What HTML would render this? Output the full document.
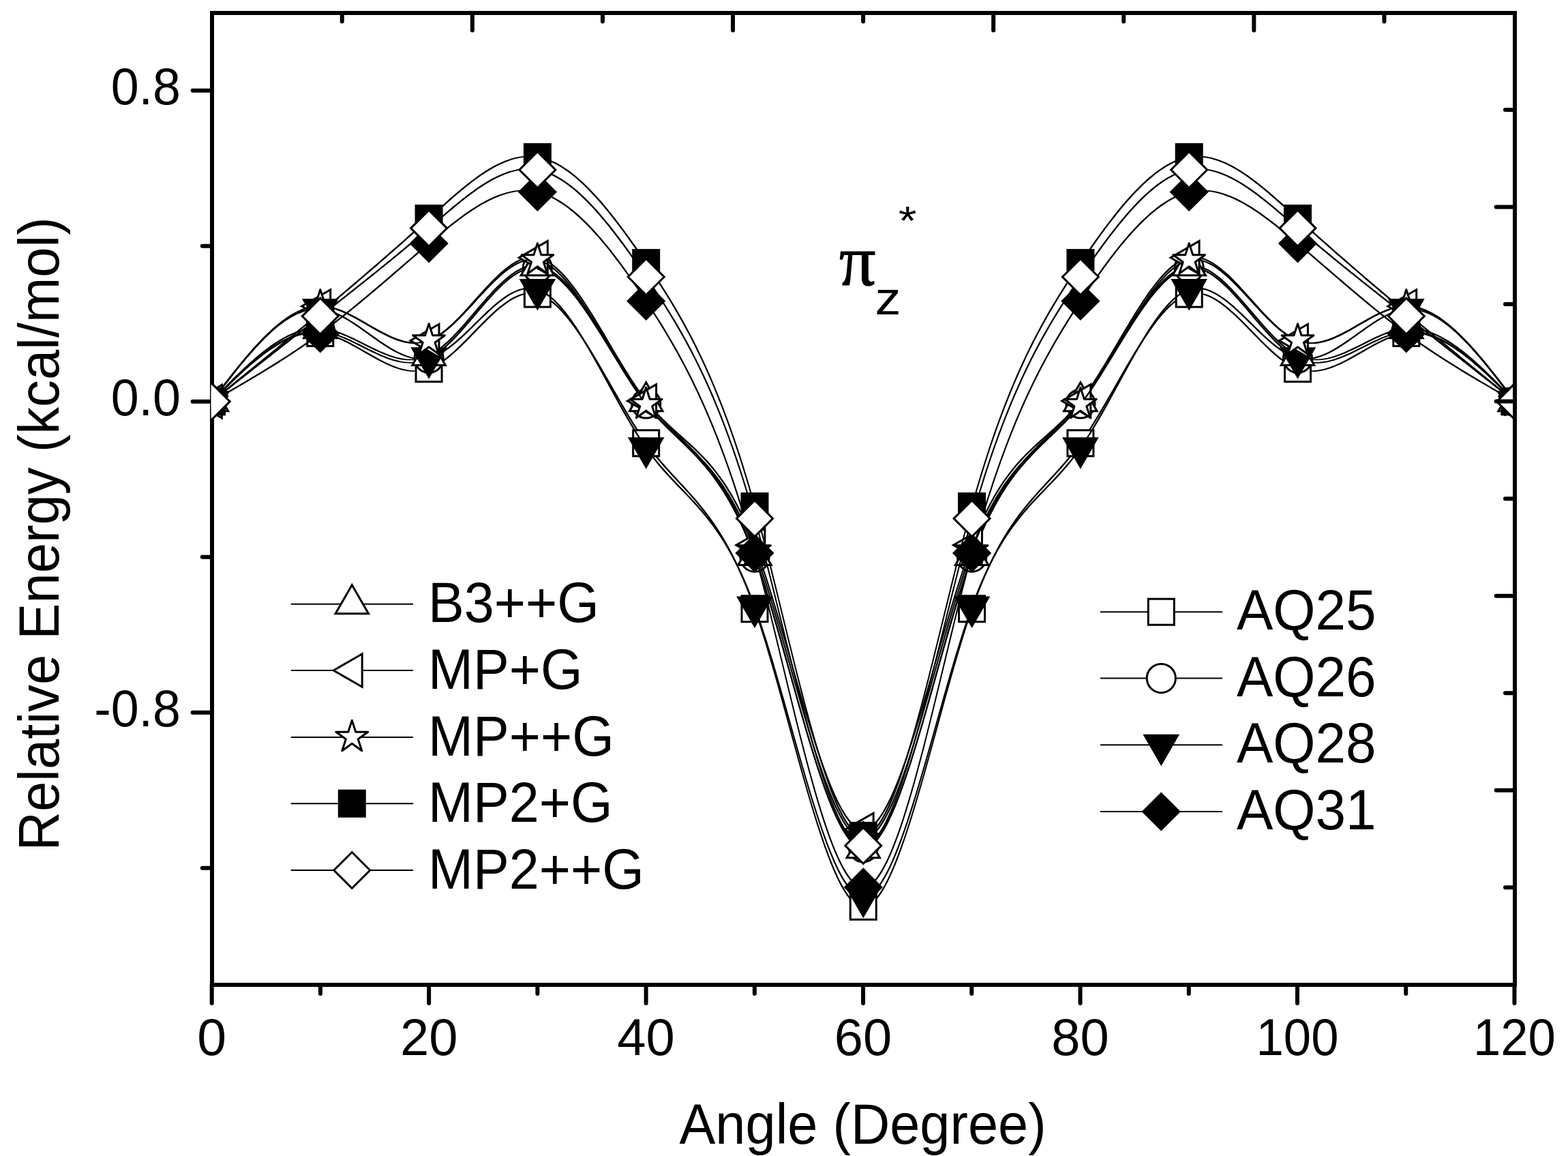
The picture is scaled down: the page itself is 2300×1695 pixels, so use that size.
<!DOCTYPE html>
<html lang="en"><head><meta charset="utf-8"><title>Relative Energy vs Angle</title>
<style>
html,body{margin:0;padding:0;background:#fff;}
body{width:2300px;height:1695px;overflow:hidden;}
svg{display:block;}
text{font-family:"Liberation Sans",sans-serif;fill:#000;}
.tick{font-size:74px;}
.lab{font-size:80px;}
.sym{font-family:"Liberation Serif","DejaVu Serif",serif;}
</style></head><body>
<svg width="2300" height="1695" viewBox="0 0 2300 1695">
<rect width="2300" height="1695" fill="#fff"/>
<defs><clipPath id="plot"><rect x="309.7" y="22" width="1909.3" height="1419"/></clipPath></defs>
<g stroke="#000" stroke-width="6" stroke-linecap="round" fill="none">
<path d="M311.0 16.0V1447.0" stroke-linecap="butt"/>
<path d="M308.0 1444.0H2225.0" stroke-linecap="butt"/>
<path d="M311.0 132.7H282.6"/>
<path d="M311.0 360.7H296.8"/>
<path d="M311.0 588.7H282.6"/>
<path d="M311.0 816.7H296.8"/>
<path d="M311.0 1044.7H282.6"/>
<path d="M311.0 1272.7H296.8"/>
<path d="M310.7 1444.0V1471"/>
<path d="M469.93 1444.0V1457"/>
<path d="M629.16 1444.0V1471"/>
<path d="M788.39 1444.0V1457"/>
<path d="M947.62 1444.0V1471"/>
<path d="M1106.85 1444.0V1457"/>
<path d="M1266.08 1444.0V1471"/>
<path d="M1425.31 1444.0V1457"/>
<path d="M1584.54 1444.0V1471"/>
<path d="M1743.77 1444.0V1457"/>
<path d="M1903 1444.0V1471"/>
<path d="M2062.23 1444.0V1457"/>
<path d="M2221.46 1444.0V1471"/>
</g>
<g clip-path="url(#plot)">
<g><path d="M309.6 587.8L313.7 583.8L317.7 579.8L321.7 575.9L325.7 571.9L329.7 567.9L333.7 564L337.7 560.1L341.7 556.3L345.7 552.5L349.7 548.7L353.7 545L357.7 541.4L361.7 537.8L365.7 534.3L369.7 530.9L373.7 527.6L377.7 524.3L381.7 521.2L385.7 518.1L389.7 515.2L393.7 512.4L397.7 509.7L401.7 507.1L405.7 504.6L409.7 502.3L413.7 500.1L417.7 498.1L421.7 496.2L425.7 494.5L429.7 493L433.7 491.6L437.7 490.4L441.7 489.3L445.7 488.5L449.7 487.8L453.7 487.4L457.7 487.1L461.7 487.1L465.7 487.1L469.7 487.4L473.7 488L477.7 488.7L481.7 489.6L485.7 490.7L489.7 492L493.7 493.5L497.7 495.1L501.7 496.8L505.7 498.6L509.7 500.6L513.7 502.6L517.7 504.8L521.7 506.9L525.7 509.2L529.7 511.4L533.7 513.7L537.7 516L541.7 518.3L545.7 520.6L549.7 522.8L553.7 525L557.7 527.2L561.7 529.3L565.7 531.2L569.7 533.1L573.7 534.9L577.7 536.5L581.7 538L585.7 539.4L589.7 540.5L593.7 541.5L597.7 542.3L601.7 542.9L605.7 543.3L609.7 543.4L613.7 543.1L617.7 542.6L621.7 541.8L625.7 540.7L629.7 539.3L633.7 537.6L637.7 535.6L641.7 533.3L645.7 530.8L649.7 528L653.7 525L657.7 521.8L661.7 518.4L665.7 514.9L669.7 511.2L673.7 507.5L677.7 503.6L681.7 499.6L685.7 495.5L689.7 491.4L693.7 487.3L697.7 483.2L701.7 479.1L705.7 475L709.7 471L713.7 467.1L717.7 463.2L721.7 459.4L725.7 455.8L729.7 452.3L733.7 449L737.7 445.9L741.7 443L745.7 440.3L749.7 437.8L753.7 435.6L757.7 433.7L761.7 432.1L765.7 430.8L769.7 429.8L773.7 429.3L777.7 429L781.7 429.1L785.7 429.5L789.7 430.4L793.7 431.6L797.7 433.3L801.7 435.5L805.7 438L809.7 440.9L813.7 444.1L817.7 447.7L821.7 451.6L825.7 455.8L829.7 460.4L833.7 465.2L837.7 470.2L841.7 475.5L845.7 481.1L849.7 486.8L853.7 492.7L857.7 498.9L861.7 505.1L865.7 511.5L869.7 518.1L873.7 524.8L877.7 531.5L881.7 538.3L885.7 545.2L889.7 552.2L893.7 559.1L897.7 566.1L901.7 573.1L905.7 580.1L909.7 587L913.7 593.8L917.7 600.6L921.7 607.3L925.7 614L929.7 620.4L933.7 626.8L937.7 633L941.7 639L945.7 644.8L949.7 650.5L953.7 655.9L957.7 661.1L961.7 666.2L965.7 671.1L969.7 675.9L973.7 680.5L977.7 685.1L981.7 689.5L985.7 693.9L989.7 698.3L993.7 702.6L997.7 706.9L1001.7 711.3L1005.7 715.6L1009.7 720L1013.7 724.5L1017.7 729L1021.7 733.6L1025.7 738.4L1029.7 743.3L1033.7 748.3L1037.7 753.5L1041.7 758.9L1045.7 764.5L1049.7 770.3L1053.7 776.4L1057.7 782.7L1061.7 789.3L1065.7 796.2L1069.7 803.5L1073.7 811L1077.7 818.9L1081.7 827.2L1085.7 835.9L1089.7 844.9L1093.7 854.4L1097.7 864.4L1101.7 874.8L1105.7 885.7L1109.7 897L1113.7 908.9L1117.7 921.2L1121.7 933.9L1125.7 947L1129.7 960.4L1133.7 974.1L1137.7 988.1L1141.7 1002.3L1145.7 1016.6L1149.7 1031.1L1153.7 1045.6L1157.7 1060.2L1161.7 1074.9L1165.7 1089.4L1169.7 1104L1173.7 1118.4L1177.7 1132.7L1181.7 1146.7L1185.7 1160.6L1189.7 1174.2L1193.7 1187.4L1197.7 1200.4L1201.7 1212.9L1205.7 1225L1209.7 1236.7L1213.7 1247.8L1217.7 1258.4L1221.7 1268.4L1225.7 1277.8L1229.7 1286.5L1233.7 1294.5L1237.7 1301.8L1241.7 1308.2L1245.7 1313.9L1249.7 1318.7L1253.7 1322.6L1257.7 1325.5L1261.7 1327.4L1265.7 1328.4L1269.7 1327.9L1273.7 1326.2L1277.7 1323.6L1281.7 1320L1285.7 1315.5L1289.7 1310.2L1293.7 1304L1297.7 1296.9L1301.7 1289.2L1305.7 1280.7L1309.7 1271.5L1313.7 1261.7L1317.7 1251.3L1321.7 1240.3L1325.7 1228.9L1329.7 1216.9L1333.7 1204.5L1337.7 1191.7L1341.7 1178.5L1345.7 1165L1349.7 1151.3L1353.7 1137.3L1357.7 1123L1361.7 1108.7L1365.7 1094.2L1369.7 1079.6L1373.7 1065L1377.7 1050.4L1381.7 1035.8L1385.7 1021.3L1389.7 1006.9L1393.7 992.7L1397.7 978.6L1401.7 964.9L1405.7 951.3L1409.7 938.1L1413.7 925.3L1417.7 912.8L1421.7 900.8L1425.7 889.3L1429.7 878.3L1433.7 867.7L1437.7 857.6L1441.7 848L1445.7 838.8L1449.7 830L1453.7 821.6L1457.7 813.5L1461.7 805.9L1465.7 798.5L1469.7 791.5L1473.7 784.8L1477.7 778.4L1481.7 772.3L1485.7 766.4L1489.7 760.7L1493.7 755.2L1497.7 750L1501.7 744.9L1505.7 739.9L1509.7 735.2L1513.7 730.5L1517.7 725.9L1521.7 721.4L1525.7 717L1529.7 712.7L1533.7 708.3L1537.7 704L1541.7 699.7L1545.7 695.4L1549.7 691L1553.7 686.5L1557.7 682L1561.7 677.4L1565.7 672.7L1569.7 667.8L1573.7 662.8L1577.7 657.6L1581.7 652.3L1585.7 646.7L1589.7 640.9L1593.7 635L1597.7 628.8L1601.7 622.5L1605.7 616.1L1609.7 609.5L1613.7 602.8L1617.7 596.1L1621.7 589.2L1625.7 582.3L1629.7 575.4L1633.7 568.4L1637.7 561.4L1641.7 554.4L1645.7 547.5L1649.7 540.6L1653.7 533.7L1657.7 526.9L1661.7 520.2L1665.7 513.7L1669.7 507.2L1673.7 500.9L1677.7 494.7L1681.7 488.7L1685.7 482.9L1689.7 477.3L1693.7 471.9L1697.7 466.8L1701.7 461.9L1705.7 457.3L1709.7 453L1713.7 448.9L1717.7 445.2L1721.7 441.9L1725.7 438.9L1729.7 436.2L1733.7 434L1737.7 432.1L1741.7 430.7L1745.7 429.7L1749.7 429.2L1753.7 429L1757.7 429.1L1761.7 429.6L1765.7 430.5L1769.7 431.6L1773.7 433.1L1777.7 435L1781.7 437.1L1785.7 439.4L1789.7 442.1L1793.7 444.9L1797.7 448L1801.7 451.2L1805.7 454.7L1809.7 458.2L1813.7 462L1817.7 465.8L1821.7 469.7L1825.7 473.7L1829.7 477.8L1833.7 481.9L1837.7 486L1841.7 490.1L1845.7 494.2L1849.7 498.3L1853.7 502.3L1857.7 506.2L1861.7 510L1865.7 513.7L1869.7 517.3L1873.7 520.7L1877.7 524L1881.7 527.1L1885.7 529.9L1889.7 532.5L1893.7 534.9L1897.7 537L1901.7 538.8L1905.7 540.3L1909.7 541.5L1913.7 542.4L1917.7 543L1921.7 543.3L1925.7 543.3L1929.7 543L1933.7 542.5L1937.7 541.8L1941.7 540.9L1945.7 539.8L1949.7 538.5L1953.7 537L1957.7 535.4L1961.7 533.7L1965.7 531.9L1969.7 529.9L1973.7 527.9L1977.7 525.7L1981.7 523.6L1985.7 521.3L1989.7 519.1L1993.7 516.8L1997.7 514.5L2001.7 512.2L2005.7 509.9L2009.7 507.7L2013.7 505.5L2017.7 503.3L2021.7 501.2L2025.7 499.3L2029.7 497.4L2033.7 495.6L2037.7 494L2041.7 492.5L2045.7 491.1L2049.7 490L2053.7 489L2057.7 488.2L2061.7 487.6L2065.7 487.2L2069.7 487.1L2073.7 487.1L2077.7 487.3L2081.7 487.7L2085.7 488.3L2089.7 489L2093.7 490L2097.7 491.2L2101.7 492.5L2105.7 494L2109.7 495.7L2113.7 497.5L2117.7 499.5L2121.7 501.6L2125.7 503.9L2129.7 506.3L2133.7 508.8L2137.7 511.5L2141.7 514.3L2145.7 517.2L2149.7 520.2L2153.7 523.3L2157.7 526.5L2161.7 529.8L2165.7 533.2L2169.7 536.7L2173.7 540.2L2177.7 543.8L2181.7 547.5L2185.7 551.2L2189.7 555L2193.7 558.9L2197.7 562.7L2201.7 566.6L2205.7 570.6L2209.7 574.6L2213.7 578.5L2217.7 582.5L2221.7 586.5L2223 587.9L2223 589.6L2221.7 589.6L2217.7 585.9L2213.7 581.9L2209.7 577.9L2205.7 574L2201.7 570L2197.7 566.1L2193.7 562.2L2189.7 558.4L2185.7 554.5L2181.7 550.8L2177.7 547.1L2173.7 543.4L2169.7 539.9L2165.7 536.4L2161.7 532.9L2157.7 529.6L2153.7 526.3L2149.7 523.2L2145.7 520.1L2141.7 517.2L2137.7 514.4L2133.7 511.6L2129.7 509L2125.7 506.6L2121.7 504.3L2117.7 502.1L2113.7 500L2109.7 498.1L2105.7 496.4L2101.7 494.8L2097.7 493.4L2093.7 492.2L2089.7 491.1L2085.7 490.3L2081.7 489.6L2077.7 489.1L2073.7 488.8L2069.7 488.8L2065.7 489L2061.7 489.5L2057.7 490.2L2053.7 491.1L2049.7 492.1L2045.7 493.4L2041.7 494.8L2037.7 496.4L2033.7 498.1L2029.7 499.9L2025.7 501.8L2021.7 503.8L2017.7 505.9L2013.7 508.1L2009.7 510.3L2005.7 512.6L2001.7 514.9L1997.7 517.2L1993.7 519.4L1989.7 521.7L1985.7 524L1981.7 526.2L1977.7 528.4L1973.7 530.4L1969.7 532.4L1965.7 534.4L1961.7 536.1L1957.7 537.8L1953.7 539.4L1949.7 540.7L1945.7 541.9L1941.7 543L1937.7 543.8L1933.7 544.5L1929.7 544.9L1925.7 545.1L1921.7 545.1L1917.7 544.9L1913.7 544.4L1909.7 543.6L1905.7 542.5L1901.7 541.2L1897.7 539.5L1893.7 537.5L1889.7 535.3L1885.7 532.7L1881.7 530L1877.7 527L1873.7 523.8L1869.7 520.5L1865.7 517L1861.7 513.3L1857.7 509.5L1853.7 505.6L1849.7 501.7L1845.7 497.6L1841.7 493.6L1837.7 489.4L1833.7 485.3L1829.7 481.2L1825.7 477.1L1821.7 473.1L1817.7 469.1L1813.7 465.3L1809.7 461.5L1805.7 457.9L1801.7 454.4L1797.7 451L1793.7 447.9L1789.7 444.9L1785.7 442.2L1781.7 439.7L1777.7 437.5L1773.7 435.6L1769.7 433.9L1765.7 432.6L1761.7 431.6L1757.7 431L1753.7 430.8L1749.7 431.1L1745.7 431.8L1741.7 433L1737.7 434.6L1733.7 436.6L1729.7 439L1725.7 441.8L1721.7 445L1717.7 448.5L1713.7 452.3L1709.7 456.5L1705.7 460.9L1701.7 465.6L1697.7 470.6L1693.7 475.9L1689.7 481.4L1685.7 487L1681.7 492.9L1677.7 499L1673.7 505.2L1669.7 511.6L1665.7 518.1L1661.7 524.8L1657.7 531.5L1653.7 538.3L1649.7 545.2L1645.7 552.1L1641.7 559.1L1637.7 566.1L1633.7 573.1L1629.7 580L1625.7 587L1621.7 593.8L1617.7 600.7L1613.7 607.4L1609.7 614L1605.7 620.5L1601.7 626.9L1597.7 633.1L1593.7 639.2L1589.7 645.1L1585.7 650.8L1581.7 656.3L1577.7 661.6L1573.7 666.7L1569.7 671.6L1565.7 676.4L1561.7 681.1L1557.7 685.7L1553.7 690.1L1549.7 694.6L1545.7 698.9L1541.7 703.2L1537.7 707.6L1533.7 711.9L1529.7 716.2L1525.7 720.6L1521.7 725L1517.7 729.6L1513.7 734.2L1509.7 738.9L1505.7 743.7L1501.7 748.7L1497.7 753.9L1493.7 759.2L1489.7 764.8L1485.7 770.5L1481.7 776.5L1477.7 782.8L1473.7 789.4L1469.7 796.2L1465.7 803.3L1461.7 810.8L1457.7 818.6L1453.7 826.8L1449.7 835.4L1445.7 844.3L1441.7 853.7L1437.7 863.6L1433.7 873.8L1429.7 884.6L1425.7 895.8L1421.7 907.6L1417.7 919.8L1413.7 932.4L1409.7 945.4L1405.7 958.7L1401.7 972.4L1397.7 986.3L1393.7 1000.4L1389.7 1014.7L1385.7 1029.1L1381.7 1043.7L1377.7 1058.3L1373.7 1072.9L1369.7 1087.5L1365.7 1102.1L1361.7 1116.5L1357.7 1130.8L1353.7 1144.9L1349.7 1158.8L1345.7 1172.5L1341.7 1185.9L1337.7 1198.9L1333.7 1211.5L1329.7 1223.7L1325.7 1235.5L1321.7 1246.8L1317.7 1257.5L1313.7 1267.7L1309.7 1277.2L1305.7 1286.1L1301.7 1294.3L1297.7 1301.7L1293.7 1308.4L1289.7 1314.3L1285.7 1319.3L1281.7 1323.4L1277.7 1326.6L1273.7 1328.8L1269.7 1329.9L1265.7 1330.1L1261.7 1329.7L1257.7 1328.1L1253.7 1325.6L1249.7 1322.1L1245.7 1317.7L1241.7 1312.4L1237.7 1306.3L1233.7 1299.4L1229.7 1291.7L1225.7 1283.3L1221.7 1274.2L1217.7 1264.4L1213.7 1254.1L1209.7 1243.2L1205.7 1231.7L1201.7 1219.8L1197.7 1207.4L1193.7 1194.7L1189.7 1181.5L1185.7 1168.1L1181.7 1154.3L1177.7 1140.4L1173.7 1126.2L1169.7 1111.8L1165.7 1097.3L1161.7 1082.8L1157.7 1068.2L1153.7 1053.5L1149.7 1038.9L1145.7 1024.4L1141.7 1010L1137.7 995.8L1133.7 981.7L1129.7 967.9L1125.7 954.4L1121.7 941.1L1117.7 928.3L1113.7 915.8L1109.7 903.7L1105.7 892.1L1101.7 881L1097.7 870.4L1093.7 860.3L1089.7 850.6L1085.7 841.4L1081.7 832.5L1077.7 824.1L1073.7 816L1069.7 808.3L1065.7 801L1061.7 793.9L1057.7 787.2L1053.7 780.7L1049.7 774.6L1045.7 768.6L1041.7 762.9L1037.7 757.5L1033.7 752.2L1029.7 747.1L1025.7 742.1L1021.7 737.3L1017.7 732.6L1013.7 728.1L1009.7 723.6L1005.7 719.2L1001.7 714.8L997.7 710.5L993.7 706.2L989.7 701.8L985.7 697.5L981.7 693.1L977.7 688.7L973.7 684.2L969.7 679.6L965.7 674.9L961.7 670L957.7 665L953.7 659.9L949.7 654.5L945.7 649L941.7 643.2L937.7 637.3L933.7 631.1L929.7 624.9L925.7 618.4L921.7 611.9L917.7 605.2L913.7 598.4L909.7 591.6L905.7 584.7L901.7 577.8L897.7 570.8L893.7 563.8L889.7 556.8L885.7 549.9L881.7 543L877.7 536.1L873.7 529.3L869.7 522.6L865.7 516L861.7 509.5L857.7 503.2L853.7 497L849.7 491L845.7 485.2L841.7 479.6L837.7 474.2L833.7 469L829.7 464.1L825.7 459.4L821.7 455.1L817.7 451L813.7 447.3L809.7 443.9L805.7 440.9L801.7 438.2L797.7 435.9L793.7 434L789.7 432.5L785.7 431.5L781.7 430.9L777.7 430.8L773.7 431.2L769.7 431.9L765.7 433L761.7 434.4L757.7 436.2L753.7 438.2L749.7 440.5L745.7 443.1L741.7 445.9L737.7 448.9L733.7 452.1L729.7 455.5L725.7 459L721.7 462.7L717.7 466.5L713.7 470.4L709.7 474.4L705.7 478.5L701.7 482.5L697.7 486.7L693.7 490.8L689.7 494.9L685.7 499L681.7 503L677.7 506.9L673.7 510.8L669.7 514.5L665.7 518.1L661.7 521.6L657.7 524.9L653.7 528L649.7 530.9L645.7 533.6L641.7 536L637.7 538.2L633.7 540.1L629.7 541.7L625.7 542.9L621.7 543.9L617.7 544.6L613.7 545L609.7 545.1L605.7 545L601.7 544.8L597.7 544.3L593.7 543.6L589.7 542.7L585.7 541.6L581.7 540.3L577.7 538.9L573.7 537.3L569.7 535.6L565.7 533.7L561.7 531.8L557.7 529.8L553.7 527.7L549.7 525.5L545.7 523.3L541.7 521L537.7 518.7L533.7 516.4L529.7 514.1L525.7 511.8L521.7 509.6L517.7 507.4L513.7 505.2L509.7 503.1L505.7 501.2L501.7 499.3L497.7 497.5L493.7 495.8L489.7 494.3L485.7 493L481.7 491.8L477.7 490.8L473.7 489.9L469.7 489.3L465.7 488.9L461.7 488.8L457.7 488.9L453.7 489.2L449.7 489.8L445.7 490.5L441.7 491.5L437.7 492.6L433.7 493.8L429.7 495.3L425.7 496.9L421.7 498.7L417.7 500.7L413.7 502.8L409.7 505L405.7 507.4L401.7 509.9L397.7 512.5L393.7 515.3L389.7 518.1L385.7 521.1L381.7 524.2L377.7 527.4L373.7 530.7L369.7 534L365.7 537.5L361.7 541L357.7 544.6L353.7 548.3L349.7 552L345.7 555.8L341.7 559.6L337.7 563.5L333.7 567.4L329.7 571.3L325.7 575.3L321.7 579.2L317.7 583.2L313.7 587.2L309.6 589.6Z" fill="#000" stroke="none"/>
<rect x="291.5" y="569.7" width="38" height="38" fill="#fff" stroke="#000" stroke-width="3" stroke-linejoin="miter"/>
<rect x="450.8" y="469.4" width="38" height="38" fill="#fff" stroke="#000" stroke-width="3" stroke-linejoin="miter"/>
<rect x="610.1" y="521.7" width="38" height="38" fill="#fff" stroke="#000" stroke-width="3" stroke-linejoin="miter"/>
<rect x="769.4" y="412.1" width="38" height="38" fill="#fff" stroke="#000" stroke-width="3" stroke-linejoin="miter"/>
<rect x="928.7" y="630.8" width="38" height="38" fill="#fff" stroke="#000" stroke-width="3" stroke-linejoin="miter"/>
<rect x="1088" y="873.7" width="38" height="38" fill="#fff" stroke="#000" stroke-width="3" stroke-linejoin="miter"/>
<rect x="1247.3" y="1310.3" width="38" height="38" fill="#fff" stroke="#000" stroke-width="3" stroke-linejoin="miter"/>
<rect x="1406.6" y="873.7" width="38" height="38" fill="#fff" stroke="#000" stroke-width="3" stroke-linejoin="miter"/>
<rect x="1565.9" y="630.8" width="38" height="38" fill="#fff" stroke="#000" stroke-width="3" stroke-linejoin="miter"/>
<rect x="1725.2" y="412.1" width="38" height="38" fill="#fff" stroke="#000" stroke-width="3" stroke-linejoin="miter"/>
<rect x="1884.5" y="521.7" width="38" height="38" fill="#fff" stroke="#000" stroke-width="3" stroke-linejoin="miter"/>
<rect x="2043.8" y="469.4" width="38" height="38" fill="#fff" stroke="#000" stroke-width="3" stroke-linejoin="miter"/>
<rect x="2203.1" y="569.7" width="38" height="38" fill="#fff" stroke="#000" stroke-width="3" stroke-linejoin="miter"/>
</g>
<g><path d="M309.6 587.8L313.7 583.8L317.7 579.8L321.7 575.8L325.7 571.8L329.7 567.9L333.7 563.9L337.7 560L341.7 556.2L345.7 552.3L349.7 548.6L353.7 544.9L357.7 541.2L361.7 537.6L365.7 534.1L369.7 530.6L373.7 527.3L377.7 524L381.7 520.8L385.7 517.7L389.7 514.7L393.7 511.9L397.7 509.1L401.7 506.5L405.7 504L409.7 501.6L413.7 499.3L417.7 497.2L421.7 495.3L425.7 493.5L429.7 491.8L433.7 490.3L437.7 489L441.7 487.9L445.7 486.9L449.7 486.1L453.7 485.5L457.7 485.1L461.7 485L465.7 484.9L469.7 485.1L473.7 485.4L477.7 486L481.7 486.8L485.7 487.7L489.7 488.8L493.7 490L497.7 491.4L501.7 492.9L505.7 494.6L509.7 496.3L513.7 498.1L517.7 499.9L521.7 501.9L525.7 503.8L529.7 505.8L533.7 507.9L537.7 509.9L541.7 511.9L545.7 513.8L549.7 515.8L553.7 517.7L557.7 519.5L561.7 521.2L565.7 522.8L569.7 524.4L573.7 525.8L577.7 527L581.7 528.1L585.7 529.1L589.7 529.9L593.7 530.4L597.7 530.8L601.7 531L605.7 530.8L609.7 530.4L613.7 529.7L617.7 528.7L621.7 527.4L625.7 525.8L629.7 523.9L633.7 521.7L637.7 519.2L641.7 516.4L645.7 513.3L649.7 510L653.7 506.5L657.7 502.7L661.7 498.8L665.7 494.7L669.7 490.5L673.7 486.1L677.7 481.6L681.7 477.1L685.7 472.4L689.7 467.7L693.7 463L697.7 458.3L701.7 453.6L705.7 448.9L709.7 444.3L713.7 439.7L717.7 435.2L721.7 430.9L725.7 426.6L729.7 422.5L733.7 418.6L737.7 414.9L741.7 411.3L745.7 408L749.7 405L753.7 402.2L757.7 399.7L761.7 397.5L765.7 395.6L769.7 394L773.7 392.9L777.7 392.1L781.7 391.7L785.7 391.6L789.7 391.9L793.7 392.6L797.7 393.8L801.7 395.3L805.7 397.3L809.7 399.7L813.7 402.4L817.7 405.4L821.7 408.8L825.7 412.5L829.7 416.5L833.7 420.8L837.7 425.4L841.7 430.2L845.7 435.2L849.7 440.5L853.7 445.9L857.7 451.5L861.7 457.3L865.7 463.3L869.7 469.3L873.7 475.5L877.7 481.8L881.7 488.2L885.7 494.6L889.7 501.1L893.7 507.6L897.7 514.1L901.7 520.6L905.7 527.1L909.7 533.6L913.7 540L917.7 546.3L921.7 552.6L925.7 558.7L929.7 564.8L933.7 570.7L937.7 576.4L941.7 582L945.7 587.4L949.7 592.6L953.7 597.5L957.7 602.3L961.7 606.9L965.7 611.4L969.7 615.7L973.7 619.9L977.7 624L981.7 628L985.7 631.9L989.7 635.8L993.7 639.7L997.7 643.6L1001.7 647.5L1005.7 651.3L1009.7 655.3L1013.7 659.3L1017.7 663.4L1021.7 667.6L1025.7 671.8L1029.7 676.3L1033.7 680.9L1037.7 685.6L1041.7 690.6L1045.7 695.7L1049.7 701.1L1053.7 706.7L1057.7 712.6L1061.7 718.8L1065.7 725.2L1069.7 732L1073.7 739.1L1077.7 746.6L1081.7 754.4L1085.7 762.7L1089.7 771.3L1093.7 780.4L1097.7 789.9L1101.7 799.8L1105.7 810.3L1109.7 821.2L1113.7 832.7L1117.7 844.6L1121.7 856.9L1125.7 869.5L1129.7 882.5L1133.7 895.8L1137.7 909.4L1141.7 923.1L1145.7 937.1L1149.7 951.2L1153.7 965.3L1157.7 979.6L1161.7 993.8L1165.7 1008L1169.7 1022.2L1173.7 1036.3L1177.7 1050.2L1181.7 1064L1185.7 1077.5L1189.7 1090.8L1193.7 1103.7L1197.7 1116.4L1201.7 1128.7L1205.7 1140.5L1209.7 1151.9L1213.7 1162.8L1217.7 1173.2L1221.7 1183L1225.7 1192.2L1229.7 1200.7L1233.7 1208.6L1237.7 1215.7L1241.7 1222L1245.7 1227.6L1249.7 1232.3L1253.7 1236.1L1257.7 1239L1261.7 1240.9L1265.7 1241.8L1269.7 1241.3L1273.7 1239.7L1277.7 1237.1L1281.7 1233.6L1285.7 1229.2L1289.7 1223.9L1293.7 1217.8L1297.7 1211L1301.7 1203.3L1305.7 1195L1309.7 1186L1313.7 1176.4L1317.7 1166.2L1321.7 1155.5L1325.7 1144.3L1329.7 1132.6L1333.7 1120.4L1337.7 1107.9L1341.7 1095L1345.7 1081.8L1349.7 1068.4L1353.7 1054.7L1357.7 1040.8L1361.7 1026.8L1365.7 1012.7L1369.7 998.4L1373.7 984.2L1377.7 969.9L1381.7 955.8L1385.7 941.6L1389.7 927.6L1393.7 913.8L1397.7 900.2L1401.7 886.8L1405.7 873.7L1409.7 860.9L1413.7 848.5L1417.7 836.5L1421.7 824.9L1425.7 813.8L1429.7 803.2L1433.7 793.1L1437.7 783.4L1441.7 774.2L1445.7 765.4L1449.7 757.1L1453.7 749.1L1457.7 741.5L1461.7 734.3L1465.7 727.4L1469.7 720.8L1473.7 714.6L1477.7 708.6L1481.7 702.9L1485.7 697.4L1489.7 692.2L1493.7 687.2L1497.7 682.4L1501.7 677.8L1505.7 673.3L1509.7 668.9L1513.7 664.7L1517.7 660.6L1521.7 656.6L1525.7 652.6L1529.7 648.7L1533.7 644.8L1537.7 641L1541.7 637.1L1545.7 633.2L1549.7 629.3L1553.7 625.3L1557.7 621.2L1561.7 617.1L1565.7 612.8L1569.7 608.4L1573.7 603.8L1577.7 599.1L1581.7 594.2L1585.7 589.1L1589.7 583.8L1593.7 578.2L1597.7 572.6L1601.7 566.7L1605.7 560.7L1609.7 554.6L1613.7 548.4L1617.7 542.1L1621.7 535.7L1625.7 529.2L1629.7 522.7L1633.7 516.2L1637.7 509.7L1641.7 503.2L1645.7 496.7L1649.7 490.3L1653.7 483.9L1657.7 477.6L1661.7 471.3L1665.7 465.2L1669.7 459.2L1673.7 453.4L1677.7 447.7L1681.7 442.2L1685.7 436.9L1689.7 431.8L1693.7 426.9L1697.7 422.3L1701.7 417.9L1705.7 413.8L1709.7 410L1713.7 406.5L1717.7 403.3L1721.7 400.5L1725.7 398L1729.7 395.9L1733.7 394.2L1737.7 392.9L1741.7 392.1L1745.7 391.7L1749.7 391.6L1753.7 391.9L1757.7 392.5L1761.7 393.6L1765.7 395L1769.7 396.8L1773.7 398.9L1777.7 401.3L1781.7 404L1785.7 407L1789.7 410.2L1793.7 413.7L1797.7 417.4L1801.7 421.2L1805.7 425.3L1809.7 429.5L1813.7 433.8L1817.7 438.3L1821.7 442.8L1825.7 447.4L1829.7 452.1L1833.7 456.8L1837.7 461.5L1841.7 466.2L1845.7 470.9L1849.7 475.6L1853.7 480.1L1857.7 484.7L1861.7 489.1L1865.7 493.3L1869.7 497.5L1873.7 501.5L1877.7 505.3L1881.7 508.9L1885.7 512.3L1889.7 515.4L1893.7 518.3L1897.7 520.9L1901.7 523.3L1905.7 525.3L1909.7 526.9L1913.7 528.3L1917.7 529.4L1921.7 530.2L1925.7 530.7L1929.7 530.9L1933.7 530.9L1937.7 530.6L1941.7 530.1L1945.7 529.4L1949.7 528.5L1953.7 527.4L1957.7 526.2L1961.7 524.8L1965.7 523.3L1969.7 521.7L1973.7 520L1977.7 518.3L1981.7 516.4L1985.7 514.5L1989.7 512.5L1993.7 510.5L1997.7 508.5L2001.7 506.5L2005.7 504.5L2009.7 502.5L2013.7 500.6L2017.7 498.7L2021.7 496.9L2025.7 495.1L2029.7 493.4L2033.7 491.9L2037.7 490.5L2041.7 489.2L2045.7 488L2049.7 487L2053.7 486.2L2057.7 485.6L2061.7 485.2L2065.7 485L2069.7 484.9L2073.7 485.1L2077.7 485.4L2081.7 485.9L2085.7 486.6L2089.7 487.5L2093.7 488.6L2097.7 489.9L2101.7 491.3L2105.7 492.9L2109.7 494.7L2113.7 496.6L2117.7 498.6L2121.7 500.8L2125.7 503.2L2129.7 505.6L2133.7 508.2L2137.7 511L2141.7 513.8L2145.7 516.7L2149.7 519.8L2153.7 522.9L2157.7 526.2L2161.7 529.5L2165.7 533L2169.7 536.4L2173.7 540L2177.7 543.7L2181.7 547.4L2185.7 551.1L2189.7 554.9L2193.7 558.8L2197.7 562.7L2201.7 566.6L2205.7 570.5L2209.7 574.5L2213.7 578.5L2217.7 582.5L2221.7 586.5L2223 587.9L2223 589.6L2221.7 589.6L2217.7 585.9L2213.7 581.9L2209.7 577.9L2205.7 573.9L2201.7 570L2197.7 566L2193.7 562.1L2189.7 558.3L2185.7 554.4L2181.7 550.6L2177.7 546.9L2173.7 543.3L2169.7 539.7L2165.7 536.1L2161.7 532.7L2157.7 529.3L2153.7 526L2149.7 522.8L2145.7 519.7L2141.7 516.7L2137.7 513.8L2133.7 511.1L2129.7 508.4L2125.7 505.9L2121.7 503.5L2117.7 501.2L2113.7 499.1L2109.7 497.1L2105.7 495.3L2101.7 493.7L2097.7 492.2L2093.7 490.8L2089.7 489.7L2085.7 488.7L2081.7 487.9L2077.7 487.3L2073.7 486.9L2069.7 486.7L2065.7 486.7L2061.7 487L2057.7 487.5L2053.7 488.2L2049.7 489.1L2045.7 490.2L2041.7 491.4L2037.7 492.8L2033.7 494.2L2029.7 495.8L2025.7 497.5L2021.7 499.3L2017.7 501.2L2013.7 503.1L2009.7 505.1L2005.7 507L2001.7 509.1L1997.7 511.1L1993.7 513.1L1989.7 515.1L1985.7 517L1981.7 518.9L1977.7 520.7L1973.7 522.5L1969.7 524.1L1965.7 525.7L1961.7 527.1L1957.7 528.4L1953.7 529.6L1949.7 530.6L1945.7 531.4L1941.7 532L1937.7 532.4L1933.7 532.7L1929.7 532.7L1925.7 532.5L1921.7 532.1L1917.7 531.4L1913.7 530.5L1909.7 529.3L1905.7 527.7L1901.7 525.9L1897.7 523.7L1893.7 521.2L1889.7 518.4L1885.7 515.4L1881.7 512.1L1877.7 508.5L1873.7 504.8L1869.7 500.9L1865.7 496.8L1861.7 492.6L1857.7 488.2L1853.7 483.8L1849.7 479.2L1845.7 474.6L1841.7 469.9L1837.7 465.2L1833.7 460.5L1829.7 455.8L1825.7 451.1L1821.7 446.4L1817.7 441.9L1813.7 437.4L1809.7 433L1805.7 428.8L1801.7 424.6L1797.7 420.7L1793.7 416.9L1789.7 413.4L1785.7 410.1L1781.7 407L1777.7 404.1L1773.7 401.6L1769.7 399.4L1765.7 397.4L1761.7 395.9L1757.7 394.7L1753.7 393.8L1749.7 393.4L1745.7 393.5L1741.7 394.1L1737.7 395.1L1733.7 396.6L1729.7 398.5L1725.7 400.7L1721.7 403.4L1717.7 406.3L1713.7 409.6L1709.7 413.3L1705.7 417.2L1701.7 421.4L1697.7 425.9L1693.7 430.7L1689.7 435.6L1685.7 440.8L1681.7 446.2L1677.7 451.8L1673.7 457.6L1669.7 463.5L1665.7 469.5L1661.7 475.7L1657.7 481.9L1653.7 488.3L1649.7 494.7L1645.7 501.2L1641.7 507.7L1637.7 514.2L1633.7 520.7L1629.7 527.2L1625.7 533.7L1621.7 540.1L1617.7 546.5L1613.7 552.7L1609.7 558.9L1605.7 565L1601.7 570.9L1597.7 576.7L1593.7 582.3L1589.7 587.7L1585.7 593L1581.7 598L1577.7 602.8L1573.7 607.5L1569.7 612L1565.7 616.3L1561.7 620.6L1557.7 624.7L1553.7 628.7L1549.7 632.7L1545.7 636.6L1541.7 640.5L1537.7 644.3L1533.7 648.2L1529.7 652.1L1525.7 656L1521.7 660L1517.7 664L1513.7 668.2L1509.7 672.5L1505.7 676.9L1501.7 681.4L1497.7 686.1L1493.7 691L1489.7 696.1L1485.7 701.4L1481.7 707L1477.7 712.8L1473.7 718.9L1469.7 725.3L1465.7 732L1461.7 739L1457.7 746.4L1453.7 754.2L1449.7 762.3L1445.7 770.8L1441.7 779.8L1437.7 789.2L1433.7 799L1429.7 809.3L1425.7 820.2L1421.7 831.5L1417.7 843.2L1413.7 855.4L1409.7 868L1405.7 880.9L1401.7 894.2L1397.7 907.7L1393.7 921.4L1389.7 935.3L1385.7 949.3L1381.7 963.5L1377.7 977.7L1373.7 991.9L1369.7 1006.2L1365.7 1020.4L1361.7 1034.5L1357.7 1048.4L1353.7 1062.2L1349.7 1075.8L1345.7 1089.2L1341.7 1102.2L1337.7 1115L1333.7 1127.3L1329.7 1139.3L1325.7 1150.8L1321.7 1161.8L1317.7 1172.3L1313.7 1182.3L1309.7 1191.6L1305.7 1200.3L1301.7 1208.4L1297.7 1215.7L1293.7 1222.2L1289.7 1228L1285.7 1232.9L1281.7 1236.9L1277.7 1240L1273.7 1242.2L1269.7 1243.3L1265.7 1243.5L1261.7 1243.1L1257.7 1241.6L1253.7 1239.1L1249.7 1235.7L1245.7 1231.4L1241.7 1226.2L1237.7 1220.2L1233.7 1213.4L1229.7 1205.8L1225.7 1197.6L1221.7 1188.7L1217.7 1179.1L1213.7 1169L1209.7 1158.3L1205.7 1147.1L1201.7 1135.4L1197.7 1123.3L1193.7 1110.9L1189.7 1098L1185.7 1084.9L1181.7 1071.4L1177.7 1057.8L1173.7 1043.9L1169.7 1029.9L1165.7 1015.8L1161.7 1001.6L1157.7 987.3L1153.7 973.1L1149.7 958.9L1145.7 944.7L1141.7 930.7L1137.7 916.9L1133.7 903.2L1129.7 889.8L1125.7 876.7L1121.7 863.9L1117.7 851.4L1113.7 839.4L1109.7 827.7L1105.7 816.6L1101.7 805.9L1097.7 795.8L1093.7 786.1L1089.7 776.8L1085.7 768L1081.7 759.6L1077.7 751.6L1073.7 744L1069.7 736.7L1065.7 729.8L1061.7 723.2L1057.7 716.9L1053.7 710.9L1049.7 705.2L1045.7 699.7L1041.7 694.4L1037.7 689.4L1033.7 684.6L1029.7 679.9L1025.7 675.4L1021.7 671.1L1017.7 666.8L1013.7 662.7L1009.7 658.7L1005.7 654.7L1001.7 650.8L997.7 646.9L993.7 643.1L989.7 639.2L985.7 635.3L981.7 631.4L977.7 627.4L973.7 623.3L969.7 619.2L965.7 614.9L961.7 610.5L957.7 606L953.7 601.3L949.7 596.4L945.7 591.3L941.7 586L937.7 580.5L933.7 574.8L929.7 569L925.7 563L921.7 556.9L917.7 550.7L913.7 544.4L909.7 538L905.7 531.6L901.7 525.1L897.7 518.6L893.7 512.1L889.7 505.5L885.7 499L881.7 492.6L877.7 486.2L873.7 479.9L869.7 473.7L865.7 467.5L861.7 461.5L857.7 455.7L853.7 450L849.7 444.5L845.7 439.1L841.7 434L837.7 429.1L833.7 424.4L829.7 420L825.7 415.9L821.7 412.1L817.7 408.5L813.7 405.3L809.7 402.5L805.7 400L801.7 397.8L797.7 396.1L793.7 394.8L789.7 393.9L785.7 393.4L781.7 393.5L777.7 394L773.7 395L769.7 396.3L765.7 398L761.7 400.1L757.7 402.4L753.7 405L749.7 407.9L745.7 411.1L741.7 414.5L737.7 418.1L733.7 422L729.7 426L725.7 430.1L721.7 434.4L717.7 438.8L713.7 443.3L709.7 447.9L705.7 452.6L701.7 457.3L697.7 462L693.7 466.7L689.7 471.4L685.7 476.1L681.7 480.7L677.7 485.2L673.7 489.7L669.7 494L665.7 498.2L661.7 502.2L657.7 506.1L653.7 509.7L649.7 513.2L645.7 516.4L641.7 519.3L637.7 522L633.7 524.4L629.7 526.5L625.7 528.3L621.7 529.7L617.7 530.8L613.7 531.7L609.7 532.3L605.7 532.6L601.7 532.7L597.7 532.6L593.7 532.3L589.7 531.8L585.7 531.1L581.7 530.3L577.7 529.2L573.7 528L569.7 526.7L565.7 525.2L561.7 523.6L557.7 521.9L553.7 520.1L549.7 518.3L545.7 516.4L541.7 514.4L537.7 512.4L533.7 510.4L529.7 508.4L525.7 506.4L521.7 504.4L517.7 502.5L513.7 500.6L509.7 498.7L505.7 497L501.7 495.3L497.7 493.7L493.7 492.3L489.7 491L485.7 489.8L481.7 488.8L477.7 488L473.7 487.3L469.7 486.9L465.7 486.7L461.7 486.7L457.7 487L453.7 487.5L449.7 488.1L445.7 489L441.7 490L437.7 491.2L433.7 492.6L429.7 494.2L425.7 495.9L421.7 497.8L417.7 499.8L413.7 502L409.7 504.3L405.7 506.7L401.7 509.3L397.7 512L393.7 514.8L389.7 517.7L385.7 520.7L381.7 523.9L377.7 527.1L373.7 530.4L369.7 533.8L365.7 537.3L361.7 540.8L357.7 544.4L353.7 548.1L349.7 551.9L345.7 555.7L341.7 559.5L337.7 563.4L333.7 567.3L329.7 571.3L325.7 575.2L321.7 579.2L317.7 583.2L313.7 587.2L309.6 589.6Z" fill="#000" stroke="none"/>
<circle cx="310.5" cy="588.7" r="21.1" fill="#fff" stroke="#000" stroke-width="3" stroke-linejoin="miter"/>
<circle cx="469.8" cy="486" r="21.1" fill="#fff" stroke="#000" stroke-width="3" stroke-linejoin="miter"/>
<circle cx="629.1" cy="525.5" r="21.1" fill="#fff" stroke="#000" stroke-width="3" stroke-linejoin="miter"/>
<circle cx="788.4" cy="392.7" r="21.1" fill="#fff" stroke="#000" stroke-width="3" stroke-linejoin="miter"/>
<circle cx="947.7" cy="592" r="21.1" fill="#fff" stroke="#000" stroke-width="3" stroke-linejoin="miter"/>
<circle cx="1107" cy="817.1" r="21.1" fill="#fff" stroke="#000" stroke-width="3" stroke-linejoin="miter"/>
<circle cx="1266.3" cy="1242.7" r="21.1" fill="#fff" stroke="#000" stroke-width="3" stroke-linejoin="miter"/>
<circle cx="1425.6" cy="817.1" r="21.1" fill="#fff" stroke="#000" stroke-width="3" stroke-linejoin="miter"/>
<circle cx="1584.9" cy="592" r="21.1" fill="#fff" stroke="#000" stroke-width="3" stroke-linejoin="miter"/>
<circle cx="1744.2" cy="392.7" r="21.1" fill="#fff" stroke="#000" stroke-width="3" stroke-linejoin="miter"/>
<circle cx="1903.5" cy="525.5" r="21.1" fill="#fff" stroke="#000" stroke-width="3" stroke-linejoin="miter"/>
<circle cx="2062.8" cy="486" r="21.1" fill="#fff" stroke="#000" stroke-width="3" stroke-linejoin="miter"/>
<circle cx="2222.1" cy="588.7" r="21.1" fill="#fff" stroke="#000" stroke-width="3" stroke-linejoin="miter"/>
</g>
<g><path d="M309.6 587.8L313.7 583.7L317.7 579.5L321.7 575.4L325.7 571.3L329.7 567.2L333.7 563.1L337.7 559.1L341.7 555.1L345.7 551.1L349.7 547.2L353.7 543.4L357.7 539.6L361.7 535.9L365.7 532.2L369.7 528.7L373.7 525.2L377.7 521.8L381.7 518.5L385.7 515.3L389.7 512.2L393.7 509.2L397.7 506.3L401.7 503.6L405.7 500.9L409.7 498.4L413.7 496.1L417.7 493.9L421.7 491.8L425.7 489.9L429.7 488.2L433.7 486.6L437.7 485.2L441.7 484L445.7 483L449.7 482.1L453.7 481.5L457.7 481L461.7 480.8L465.7 480.7L469.7 480.8L473.7 481.1L477.7 481.6L481.7 482.3L485.7 483.2L489.7 484.3L493.7 485.5L497.7 486.9L501.7 488.3L505.7 490L509.7 491.7L513.7 493.4L517.7 495.3L521.7 497.2L525.7 499.2L529.7 501.2L533.7 503.2L537.7 505.2L541.7 507.2L545.7 509.2L549.7 511.1L553.7 513L557.7 514.9L561.7 516.6L565.7 518.3L569.7 519.8L573.7 521.2L577.7 522.5L581.7 523.7L585.7 524.6L589.7 525.4L593.7 526L597.7 526.4L601.7 526.6L605.7 526.5L609.7 526.1L613.7 525.4L617.7 524.5L621.7 523.3L625.7 521.7L629.7 519.9L633.7 517.7L637.7 515.2L641.7 512.4L645.7 509.4L649.7 506.1L653.7 502.6L657.7 498.9L661.7 495L665.7 490.9L669.7 486.7L673.7 482.4L677.7 477.9L681.7 473.4L685.7 468.8L689.7 464.2L693.7 459.5L697.7 454.8L701.7 450.1L705.7 445.5L709.7 440.9L713.7 436.3L717.7 431.9L721.7 427.5L725.7 423.3L729.7 419.3L733.7 415.4L737.7 411.7L741.7 408.2L745.7 404.9L749.7 401.8L753.7 399.1L757.7 396.6L761.7 394.4L765.7 392.5L769.7 391L773.7 389.8L777.7 389L781.7 388.6L785.7 388.6L789.7 388.9L793.7 389.6L797.7 390.8L801.7 392.4L805.7 394.3L809.7 396.7L813.7 399.4L817.7 402.5L821.7 405.9L825.7 409.6L829.7 413.6L833.7 417.9L837.7 422.4L841.7 427.2L845.7 432.2L849.7 437.5L853.7 442.9L857.7 448.5L861.7 454.3L865.7 460.3L869.7 466.3L873.7 472.5L877.7 478.8L881.7 485.1L885.7 491.5L889.7 498L893.7 504.5L897.7 511L901.7 517.5L905.7 524L909.7 530.4L913.7 536.8L917.7 543.1L921.7 549.4L925.7 555.5L929.7 561.5L933.7 567.4L937.7 573.2L941.7 578.7L945.7 584.1L949.7 589.3L953.7 594.2L957.7 599L961.7 603.6L965.7 608L969.7 612.3L973.7 616.5L977.7 620.6L981.7 624.6L985.7 628.5L989.7 632.4L993.7 636.3L997.7 640.1L1001.7 644L1005.7 647.9L1009.7 651.9L1013.7 655.9L1017.7 659.9L1021.7 664.1L1025.7 668.4L1029.7 672.9L1033.7 677.5L1037.7 682.3L1041.7 687.2L1045.7 692.4L1049.7 697.8L1053.7 703.5L1057.7 709.4L1061.7 715.6L1065.7 722.1L1069.7 728.9L1073.7 736.1L1077.7 743.6L1081.7 751.5L1085.7 759.8L1089.7 768.5L1093.7 777.6L1097.7 787.2L1101.7 797.2L1105.7 807.7L1109.7 818.8L1113.7 830.3L1117.7 842.3L1121.7 854.7L1125.7 867.4L1129.7 880.6L1133.7 894L1137.7 907.6L1141.7 921.5L1145.7 935.6L1149.7 949.8L1153.7 964.1L1157.7 978.4L1161.7 992.8L1165.7 1007.1L1169.7 1021.4L1173.7 1035.6L1177.7 1049.6L1181.7 1063.5L1185.7 1077.2L1189.7 1090.6L1193.7 1103.6L1197.7 1116.4L1201.7 1128.8L1205.7 1140.7L1209.7 1152.2L1213.7 1163.2L1217.7 1173.7L1221.7 1183.6L1225.7 1192.8L1229.7 1201.5L1233.7 1209.4L1237.7 1216.5L1241.7 1223L1245.7 1228.5L1249.7 1233.3L1253.7 1237.1L1257.7 1240L1261.7 1242L1265.7 1242.9L1269.7 1242.4L1273.7 1240.8L1277.7 1238.2L1281.7 1234.6L1285.7 1230.2L1289.7 1224.9L1293.7 1218.7L1297.7 1211.8L1301.7 1204.1L1305.7 1195.7L1309.7 1186.7L1313.7 1177L1317.7 1166.7L1321.7 1155.9L1325.7 1144.5L1329.7 1132.7L1333.7 1120.5L1337.7 1107.8L1341.7 1094.8L1345.7 1081.5L1349.7 1068L1353.7 1054.2L1357.7 1040.2L1361.7 1026L1365.7 1011.8L1369.7 997.4L1373.7 983.1L1377.7 968.7L1381.7 954.4L1385.7 940.2L1389.7 926.1L1393.7 912.1L1397.7 898.4L1401.7 884.9L1405.7 871.7L1409.7 858.8L1413.7 846.3L1417.7 834.1L1421.7 822.5L1425.7 811.3L1429.7 800.6L1433.7 790.4L1437.7 780.7L1441.7 771.4L1445.7 762.5L1449.7 754.1L1453.7 746.1L1457.7 738.5L1461.7 731.2L1465.7 724.3L1469.7 717.7L1473.7 711.4L1477.7 705.4L1481.7 699.6L1485.7 694.1L1489.7 688.9L1493.7 683.8L1497.7 679L1501.7 674.4L1505.7 669.9L1509.7 665.5L1513.7 661.3L1517.7 657.2L1521.7 653.1L1525.7 649.2L1529.7 645.3L1533.7 641.4L1537.7 637.5L1541.7 633.7L1545.7 629.8L1549.7 625.9L1553.7 621.9L1557.7 617.8L1561.7 613.7L1565.7 609.4L1569.7 605L1573.7 600.5L1577.7 595.8L1581.7 590.9L1585.7 585.8L1589.7 580.5L1593.7 575L1597.7 569.3L1601.7 563.5L1605.7 557.5L1609.7 551.4L1613.7 545.2L1617.7 538.9L1621.7 532.5L1625.7 526.1L1629.7 519.6L1633.7 513.1L1637.7 506.6L1641.7 500.1L1645.7 493.6L1649.7 487.2L1653.7 480.8L1657.7 474.5L1661.7 468.3L1665.7 462.2L1669.7 456.2L1673.7 450.4L1677.7 444.7L1681.7 439.2L1685.7 433.9L1689.7 428.8L1693.7 423.9L1697.7 419.3L1701.7 414.9L1705.7 410.8L1709.7 407L1713.7 403.5L1717.7 400.4L1721.7 397.5L1725.7 395.1L1729.7 393L1733.7 391.3L1737.7 390L1741.7 389.1L1745.7 388.7L1749.7 388.6L1753.7 388.9L1757.7 389.5L1761.7 390.6L1765.7 392L1769.7 393.7L1773.7 395.8L1777.7 398.2L1781.7 400.9L1785.7 403.9L1789.7 407.1L1793.7 410.5L1797.7 414.1L1801.7 418L1805.7 422L1809.7 426.2L1813.7 430.5L1817.7 434.9L1821.7 439.4L1825.7 444L1829.7 448.6L1833.7 453.3L1837.7 458L1841.7 462.6L1845.7 467.3L1849.7 471.9L1853.7 476.5L1857.7 481L1861.7 485.3L1865.7 489.6L1869.7 493.7L1873.7 497.6L1877.7 501.4L1881.7 505L1885.7 508.3L1889.7 511.5L1893.7 514.3L1897.7 516.9L1901.7 519.2L1905.7 521.2L1909.7 522.8L1913.7 524.1L1917.7 525.2L1921.7 525.9L1925.7 526.4L1929.7 526.6L1933.7 526.5L1937.7 526.2L1941.7 525.7L1945.7 524.9L1949.7 524L1953.7 522.9L1957.7 521.7L1961.7 520.3L1965.7 518.8L1969.7 517.2L1973.7 515.4L1977.7 513.6L1981.7 511.8L1985.7 509.8L1989.7 507.9L1993.7 505.9L1997.7 503.9L2001.7 501.8L2005.7 499.8L2009.7 497.9L2013.7 495.9L2017.7 494L2021.7 492.2L2025.7 490.5L2029.7 488.9L2033.7 487.3L2037.7 485.9L2041.7 484.7L2045.7 483.5L2049.7 482.6L2053.7 481.8L2057.7 481.2L2061.7 480.9L2065.7 480.7L2069.7 480.7L2073.7 480.9L2077.7 481.3L2081.7 481.9L2085.7 482.7L2089.7 483.6L2093.7 484.8L2097.7 486.2L2101.7 487.7L2105.7 489.4L2109.7 491.2L2113.7 493.2L2117.7 495.4L2121.7 497.7L2125.7 500.1L2129.7 502.7L2133.7 505.4L2137.7 508.2L2141.7 511.2L2145.7 514.2L2149.7 517.4L2153.7 520.7L2157.7 524.1L2161.7 527.5L2165.7 531.1L2169.7 534.7L2173.7 538.4L2177.7 542.1L2181.7 546L2185.7 549.9L2189.7 553.8L2193.7 557.8L2197.7 561.8L2201.7 565.9L2205.7 570L2209.7 574.1L2213.7 578.2L2217.7 582.3L2221.7 586.5L2223 587.9L2223 589.6L2221.7 589.6L2217.7 585.8L2213.7 581.7L2209.7 577.5L2205.7 573.4L2201.7 569.3L2197.7 565.2L2193.7 561.2L2189.7 557.2L2185.7 553.2L2181.7 549.3L2177.7 545.5L2173.7 541.7L2169.7 537.9L2165.7 534.3L2161.7 530.7L2157.7 527.2L2153.7 523.8L2149.7 520.5L2145.7 517.3L2141.7 514.2L2137.7 511.2L2133.7 508.3L2129.7 505.5L2125.7 502.9L2121.7 500.4L2117.7 498L2113.7 495.8L2109.7 493.7L2105.7 491.8L2101.7 490.1L2097.7 488.5L2093.7 487.1L2089.7 485.8L2085.7 484.8L2081.7 483.9L2077.7 483.2L2073.7 482.7L2069.7 482.5L2065.7 482.5L2061.7 482.7L2057.7 483.2L2053.7 483.8L2049.7 484.7L2045.7 485.7L2041.7 486.9L2037.7 488.2L2033.7 489.7L2029.7 491.2L2025.7 492.9L2021.7 494.7L2017.7 496.5L2013.7 498.4L2009.7 500.4L2005.7 502.4L2001.7 504.4L1997.7 506.4L1993.7 508.4L1989.7 510.4L1985.7 512.4L1981.7 514.3L1977.7 516.1L1973.7 517.9L1969.7 519.6L1965.7 521.1L1961.7 522.6L1957.7 523.9L1953.7 525.1L1949.7 526.1L1945.7 526.9L1941.7 527.6L1937.7 528.1L1933.7 528.3L1929.7 528.3L1925.7 528.2L1921.7 527.9L1917.7 527.2L1913.7 526.3L1909.7 525.1L1905.7 523.6L1901.7 521.8L1897.7 519.6L1893.7 517.2L1889.7 514.4L1885.7 511.4L1881.7 508.1L1877.7 504.7L1873.7 501L1869.7 497.1L1865.7 493L1861.7 488.9L1857.7 484.5L1853.7 480.1L1849.7 475.6L1845.7 471L1841.7 466.3L1837.7 461.7L1833.7 457L1829.7 452.3L1825.7 447.6L1821.7 443L1817.7 438.5L1813.7 434L1809.7 429.7L1805.7 425.5L1801.7 421.4L1797.7 417.5L1793.7 413.7L1789.7 410.2L1785.7 406.9L1781.7 403.8L1777.7 401L1773.7 398.5L1769.7 396.3L1765.7 394.4L1761.7 392.8L1757.7 391.6L1753.7 390.8L1749.7 390.4L1745.7 390.5L1741.7 391.1L1737.7 392.2L1733.7 393.6L1729.7 395.5L1725.7 397.8L1721.7 400.4L1717.7 403.4L1713.7 406.7L1709.7 410.3L1705.7 414.3L1701.7 418.5L1697.7 423L1693.7 427.7L1689.7 432.7L1685.7 437.9L1681.7 443.2L1677.7 448.8L1673.7 454.6L1669.7 460.5L1665.7 466.5L1661.7 472.6L1657.7 478.9L1653.7 485.2L1649.7 491.6L1645.7 498.1L1641.7 504.6L1637.7 511.1L1633.7 517.6L1629.7 524.1L1625.7 530.5L1621.7 536.9L1617.7 543.3L1613.7 549.5L1609.7 555.7L1605.7 561.8L1601.7 567.7L1597.7 573.4L1593.7 579L1589.7 584.5L1585.7 589.7L1581.7 594.7L1577.7 599.5L1573.7 604.1L1569.7 608.6L1565.7 613L1561.7 617.2L1557.7 621.3L1553.7 625.3L1549.7 629.3L1545.7 633.2L1541.7 637L1537.7 640.9L1533.7 644.7L1529.7 648.6L1525.7 652.6L1521.7 656.5L1517.7 660.6L1513.7 664.8L1509.7 669L1505.7 673.5L1501.7 678L1497.7 682.7L1493.7 687.7L1489.7 692.8L1485.7 698.1L1481.7 703.7L1477.7 709.6L1473.7 715.7L1469.7 722.1L1465.7 728.9L1461.7 735.9L1457.7 743.4L1453.7 751.2L1449.7 759.4L1445.7 768L1441.7 777L1437.7 786.4L1433.7 796.4L1429.7 806.8L1425.7 817.7L1421.7 829.1L1417.7 840.9L1413.7 853.2L1409.7 865.9L1405.7 879L1401.7 892.3L1397.7 905.9L1393.7 919.7L1389.7 933.7L1385.7 947.9L1381.7 962.2L1377.7 976.5L1373.7 990.9L1369.7 1005.2L1365.7 1019.5L1361.7 1033.8L1357.7 1047.9L1353.7 1061.8L1349.7 1075.5L1345.7 1088.9L1341.7 1102.1L1337.7 1114.9L1333.7 1127.4L1329.7 1139.5L1325.7 1151.1L1321.7 1162.2L1317.7 1172.8L1313.7 1182.9L1309.7 1192.3L1305.7 1201.1L1301.7 1209.2L1297.7 1216.5L1293.7 1223.1L1289.7 1228.9L1285.7 1233.9L1281.7 1237.9L1277.7 1241.1L1273.7 1243.3L1269.7 1244.4L1265.7 1244.6L1261.7 1244.2L1257.7 1242.7L1253.7 1240.2L1249.7 1236.7L1245.7 1232.4L1241.7 1227.1L1237.7 1221.1L1233.7 1214.2L1229.7 1206.6L1225.7 1198.3L1221.7 1189.3L1217.7 1179.7L1213.7 1169.4L1209.7 1158.7L1205.7 1147.4L1201.7 1135.6L1197.7 1123.4L1193.7 1110.8L1189.7 1097.9L1185.7 1084.6L1181.7 1071L1177.7 1057.3L1173.7 1043.3L1169.7 1029.2L1165.7 1014.9L1161.7 1000.6L1157.7 986.2L1153.7 971.8L1149.7 957.5L1145.7 943.3L1141.7 929.2L1137.7 915.2L1133.7 901.4L1129.7 887.9L1125.7 874.7L1121.7 861.8L1117.7 849.2L1113.7 837L1109.7 825.3L1105.7 814.1L1101.7 803.3L1097.7 793.1L1093.7 783.3L1089.7 774L1085.7 765.1L1081.7 756.7L1077.7 748.6L1073.7 740.9L1069.7 733.6L1065.7 726.6L1061.7 720L1057.7 713.7L1053.7 707.6L1049.7 701.9L1045.7 696.4L1041.7 691.1L1037.7 686L1033.7 681.2L1029.7 676.5L1025.7 672L1021.7 667.6L1017.7 663.4L1013.7 659.3L1009.7 655.2L1005.7 651.3L1001.7 647.4L997.7 643.5L993.7 639.6L989.7 635.8L985.7 631.9L981.7 628L977.7 624L973.7 620L969.7 615.8L965.7 611.6L961.7 607.2L957.7 602.7L953.7 598L949.7 593.1L945.7 588L941.7 582.7L937.7 577.2L933.7 571.6L929.7 565.8L925.7 559.8L921.7 553.7L917.7 547.5L913.7 541.2L909.7 534.9L905.7 528.4L901.7 522L897.7 515.5L893.7 508.9L889.7 502.4L885.7 496L881.7 489.5L877.7 483.2L873.7 476.8L869.7 470.6L865.7 464.5L861.7 458.5L857.7 452.7L853.7 447L849.7 441.5L845.7 436.1L841.7 431L837.7 426.1L833.7 421.5L829.7 417.1L825.7 412.9L821.7 409.1L817.7 405.6L813.7 402.4L809.7 399.5L805.7 397L801.7 394.9L797.7 393.1L793.7 391.8L789.7 390.9L785.7 390.4L781.7 390.5L777.7 391L773.7 392L769.7 393.3L765.7 395L761.7 397L757.7 399.3L753.7 401.9L749.7 404.8L745.7 407.9L741.7 411.3L737.7 414.9L733.7 418.7L729.7 422.7L725.7 426.8L721.7 431.1L717.7 435.5L713.7 440L709.7 444.5L705.7 449.1L701.7 453.8L697.7 458.5L693.7 463.2L689.7 467.8L685.7 472.5L681.7 477.1L677.7 481.5L673.7 485.9L669.7 490.2L665.7 494.4L661.7 498.4L657.7 502.2L653.7 505.8L649.7 509.2L645.7 512.4L641.7 515.3L637.7 518L633.7 520.3L629.7 522.4L625.7 524.1L621.7 525.5L617.7 526.6L613.7 527.5L609.7 528L605.7 528.3L601.7 528.3L597.7 528.3L593.7 527.9L589.7 527.4L585.7 526.7L581.7 525.8L577.7 524.7L573.7 523.5L569.7 522.1L565.7 520.6L561.7 519L557.7 517.3L553.7 515.5L549.7 513.7L545.7 511.7L541.7 509.8L537.7 507.8L533.7 505.8L529.7 503.7L525.7 501.7L521.7 499.8L517.7 497.8L513.7 495.9L509.7 494.1L505.7 492.4L501.7 490.7L497.7 489.2L493.7 487.8L489.7 486.5L485.7 485.3L481.7 484.4L477.7 483.6L473.7 483L469.7 482.6L465.7 482.4L461.7 482.5L457.7 482.9L453.7 483.4L449.7 484.2L445.7 485.1L441.7 486.2L437.7 487.5L433.7 489L429.7 490.6L425.7 492.4L421.7 494.4L417.7 496.5L413.7 498.8L409.7 501.2L405.7 503.7L401.7 506.4L397.7 509.2L393.7 512.1L389.7 515.2L385.7 518.3L381.7 521.6L377.7 524.9L373.7 528.3L369.7 531.9L365.7 535.5L361.7 539.1L357.7 542.9L353.7 546.7L349.7 550.6L345.7 554.5L341.7 558.5L337.7 562.5L333.7 566.5L329.7 570.6L325.7 574.7L321.7 578.9L317.7 583L313.7 587.2L309.6 589.6Z" fill="#000" stroke="none"/>
<path d="M310.5 560.7L334.75 602.7L286.25 602.7Z" fill="#fff" stroke="#000" stroke-width="3" stroke-linejoin="miter"/>
<path d="M469.8 453.7L494.05 495.7L445.55 495.7Z" fill="#fff" stroke="#000" stroke-width="3" stroke-linejoin="miter"/>
<path d="M629.1 493.4L653.35 535.4L604.85 535.4Z" fill="#fff" stroke="#000" stroke-width="3" stroke-linejoin="miter"/>
<path d="M788.4 361.7L812.65 403.7L764.15 403.7Z" fill="#fff" stroke="#000" stroke-width="3" stroke-linejoin="miter"/>
<path d="M947.7 560.7L971.95 602.7L923.45 602.7Z" fill="#fff" stroke="#000" stroke-width="3" stroke-linejoin="miter"/>
<path d="M1107 786.6L1131.25 828.6L1082.75 828.6Z" fill="#fff" stroke="#000" stroke-width="3" stroke-linejoin="miter"/>
<path d="M1266.3 1215.8L1290.55 1257.8L1242.05 1257.8Z" fill="#fff" stroke="#000" stroke-width="3" stroke-linejoin="miter"/>
<path d="M1425.6 786.6L1449.85 828.6L1401.35 828.6Z" fill="#fff" stroke="#000" stroke-width="3" stroke-linejoin="miter"/>
<path d="M1584.9 560.7L1609.15 602.7L1560.65 602.7Z" fill="#fff" stroke="#000" stroke-width="3" stroke-linejoin="miter"/>
<path d="M1744.2 361.7L1768.45 403.7L1719.95 403.7Z" fill="#fff" stroke="#000" stroke-width="3" stroke-linejoin="miter"/>
<path d="M1903.5 493.4L1927.75 535.4L1879.25 535.4Z" fill="#fff" stroke="#000" stroke-width="3" stroke-linejoin="miter"/>
<path d="M2062.8 453.7L2087.05 495.7L2038.55 495.7Z" fill="#fff" stroke="#000" stroke-width="3" stroke-linejoin="miter"/>
<path d="M2222.1 560.7L2246.35 602.7L2197.85 602.7Z" fill="#fff" stroke="#000" stroke-width="3" stroke-linejoin="miter"/>
</g>
<g><path d="M309.6 587.8L313.7 582.6L317.7 577.3L321.7 572.1L325.7 566.8L329.7 561.6L333.7 556.5L337.7 551.3L341.7 546.3L345.7 541.3L349.7 536.3L353.7 531.4L357.7 526.6L361.7 521.9L365.7 517.3L369.7 512.7L373.7 508.3L377.7 504L381.7 499.8L385.7 495.8L389.7 491.8L393.7 488.1L397.7 484.4L401.7 481L405.7 477.6L409.7 474.5L413.7 471.5L417.7 468.8L421.7 466.2L425.7 463.8L429.7 461.6L433.7 459.6L437.7 457.9L441.7 456.3L445.7 455L449.7 454L453.7 453.2L457.7 452.6L461.7 452.4L465.7 452.3L469.7 452.5L473.7 452.9L477.7 453.6L481.7 454.5L485.7 455.7L489.7 457.1L493.7 458.8L497.7 460.6L501.7 462.6L505.7 464.7L509.7 467L513.7 469.4L517.7 471.9L521.7 474.6L525.7 477.3L529.7 480L533.7 482.9L537.7 485.7L541.7 488.6L545.7 491.5L549.7 494.3L553.7 497.1L557.7 499.9L561.7 502.6L565.7 505.3L569.7 507.8L573.7 510.3L577.7 512.6L581.7 514.8L585.7 516.8L589.7 518.6L593.7 520.3L597.7 521.7L601.7 522.9L605.7 523.9L609.7 524.7L613.7 525.1L617.7 525.3L621.7 525.1L625.7 524.5L629.7 523.6L633.7 522.3L637.7 520.8L641.7 518.9L645.7 516.8L649.7 514.4L653.7 511.7L657.7 508.8L661.7 505.8L665.7 502.5L669.7 499.1L673.7 495.6L677.7 491.9L681.7 488.2L685.7 484.3L689.7 480.5L693.7 476.5L697.7 472.6L701.7 468.7L705.7 464.7L709.7 460.9L713.7 457.1L717.7 453.4L721.7 449.8L725.7 446.3L729.7 442.9L733.7 439.8L737.7 436.8L741.7 434L745.7 431.5L749.7 429.2L753.7 427.2L757.7 425.4L761.7 424L765.7 422.9L769.7 422.2L773.7 421.8L777.7 421.7L781.7 422L785.7 422.7L789.7 423.8L793.7 425.4L797.7 427.4L801.7 429.8L805.7 432.7L809.7 435.9L813.7 439.5L817.7 443.5L821.7 447.8L825.7 452.4L829.7 457.3L833.7 462.5L837.7 468L841.7 473.7L845.7 479.6L849.7 485.8L853.7 492.2L857.7 498.7L861.7 505.4L865.7 512.2L869.7 519.2L873.7 526.3L877.7 533.4L881.7 540.6L885.7 547.9L889.7 555.2L893.7 562.6L897.7 569.9L901.7 577.2L905.7 584.5L909.7 591.8L913.7 598.9L917.7 606L921.7 613L925.7 619.8L929.7 626.6L933.7 633.1L937.7 639.5L941.7 645.7L945.7 651.7L949.7 657.4L953.7 662.9L957.7 668.2L961.7 673.3L965.7 678.2L969.7 683L973.7 687.6L977.7 692.1L981.7 696.5L985.7 700.8L989.7 705L993.7 709.2L997.7 713.4L1001.7 717.5L1005.7 721.7L1009.7 725.9L1013.7 730.1L1017.7 734.4L1021.7 738.8L1025.7 743.2L1029.7 747.8L1033.7 752.6L1037.7 757.5L1041.7 762.5L1045.7 767.8L1049.7 773.3L1053.7 779L1057.7 785L1061.7 791.2L1065.7 797.7L1069.7 804.6L1073.7 811.7L1077.7 819.2L1081.7 827.1L1085.7 835.4L1089.7 844L1093.7 853.1L1097.7 862.6L1101.7 872.6L1105.7 883.1L1109.7 894L1113.7 905.5L1117.7 917.4L1121.7 929.7L1125.7 942.3L1129.7 955.4L1133.7 968.6L1137.7 982.2L1141.7 996L1145.7 1009.9L1149.7 1024L1153.7 1038.1L1157.7 1052.4L1161.7 1066.6L1165.7 1080.8L1169.7 1095L1173.7 1109.1L1177.7 1123L1181.7 1136.7L1185.7 1150.2L1189.7 1163.5L1193.7 1176.5L1197.7 1189.1L1201.7 1201.4L1205.7 1213.2L1209.7 1224.6L1213.7 1235.5L1217.7 1245.9L1221.7 1255.6L1225.7 1264.8L1229.7 1273.4L1233.7 1281.2L1237.7 1288.3L1241.7 1294.6L1245.7 1300.2L1249.7 1304.9L1253.7 1308.7L1257.7 1311.6L1261.7 1313.5L1265.7 1314.4L1269.7 1313.9L1273.7 1312.3L1277.7 1309.7L1281.7 1306.2L1285.7 1301.8L1289.7 1296.5L1293.7 1290.5L1297.7 1283.6L1301.7 1276L1305.7 1267.7L1309.7 1258.7L1313.7 1249.1L1317.7 1238.9L1321.7 1228.2L1325.7 1217L1329.7 1205.3L1333.7 1193.1L1337.7 1180.6L1341.7 1167.8L1345.7 1154.6L1349.7 1141.1L1353.7 1127.5L1357.7 1113.6L1361.7 1099.6L1365.7 1085.4L1369.7 1071.2L1373.7 1057L1377.7 1042.8L1381.7 1028.6L1385.7 1014.5L1389.7 1000.5L1393.7 986.6L1397.7 973L1401.7 959.6L1405.7 946.5L1409.7 933.8L1413.7 921.3L1417.7 909.3L1421.7 897.7L1425.7 886.6L1429.7 876L1433.7 865.8L1437.7 856.2L1441.7 846.9L1445.7 838.2L1449.7 829.8L1453.7 821.8L1457.7 814.1L1461.7 806.9L1465.7 799.9L1469.7 793.3L1473.7 787L1477.7 780.9L1481.7 775.1L1485.7 769.6L1489.7 764.2L1493.7 759.1L1497.7 754.1L1501.7 749.3L1505.7 744.7L1509.7 740.2L1513.7 735.8L1517.7 731.5L1521.7 727.2L1525.7 723L1529.7 718.9L1533.7 714.7L1537.7 710.6L1541.7 706.4L1545.7 702.2L1549.7 697.9L1553.7 693.5L1557.7 689.1L1561.7 684.5L1565.7 679.8L1569.7 674.9L1573.7 669.9L1577.7 664.7L1581.7 659.2L1585.7 653.6L1589.7 647.6L1593.7 641.5L1597.7 635.2L1601.7 628.7L1605.7 622L1609.7 615.2L1613.7 608.3L1617.7 601.2L1621.7 594.1L1625.7 586.9L1629.7 579.6L1633.7 572.3L1637.7 565L1641.7 557.6L1645.7 550.3L1649.7 543L1653.7 535.8L1657.7 528.6L1661.7 521.5L1665.7 514.5L1669.7 507.6L1673.7 500.9L1677.7 494.3L1681.7 487.8L1685.7 481.6L1689.7 475.6L1693.7 469.8L1697.7 464.3L1701.7 459L1705.7 454L1709.7 449.2L1713.7 444.8L1717.7 440.8L1721.7 437L1725.7 433.7L1729.7 430.7L1733.7 428.1L1737.7 426L1741.7 424.2L1745.7 423L1749.7 422.2L1753.7 421.8L1757.7 421.7L1761.7 422L1765.7 422.6L1769.7 423.6L1773.7 424.9L1777.7 426.6L1781.7 428.5L1785.7 430.7L1789.7 433.2L1793.7 435.9L1797.7 438.8L1801.7 441.9L1805.7 445.2L1809.7 448.6L1813.7 452.2L1817.7 455.9L1821.7 459.6L1825.7 463.5L1829.7 467.4L1833.7 471.3L1837.7 475.3L1841.7 479.2L1845.7 483.1L1849.7 486.9L1853.7 490.7L1857.7 494.4L1861.7 498L1865.7 501.4L1869.7 504.7L1873.7 507.9L1877.7 510.8L1881.7 513.5L1885.7 516L1889.7 518.2L1893.7 520.2L1897.7 521.9L1901.7 523.2L1905.7 524.2L1909.7 524.9L1913.7 525.3L1917.7 525.2L1921.7 524.9L1925.7 524.2L1929.7 523.3L1933.7 522.1L1937.7 520.8L1941.7 519.2L1945.7 517.4L1949.7 515.4L1953.7 513.3L1957.7 511L1961.7 508.6L1965.7 506.1L1969.7 503.5L1973.7 500.8L1977.7 498.1L1981.7 495.2L1985.7 492.4L1989.7 489.5L1993.7 486.7L1997.7 483.8L2001.7 481L2005.7 478.2L2009.7 475.4L2013.7 472.8L2017.7 470.2L2021.7 467.8L2025.7 465.4L2029.7 463.2L2033.7 461.2L2037.7 459.3L2041.7 457.6L2045.7 456.2L2049.7 454.9L2053.7 453.9L2057.7 453.1L2061.7 452.6L2065.7 452.3L2069.7 452.3L2073.7 452.5L2077.7 453L2081.7 453.7L2085.7 454.7L2089.7 455.9L2093.7 457.3L2097.7 459L2101.7 460.9L2105.7 463L2109.7 465.4L2113.7 467.9L2117.7 470.6L2121.7 473.5L2125.7 476.6L2129.7 479.9L2133.7 483.3L2137.7 486.9L2141.7 490.6L2145.7 494.5L2149.7 498.5L2153.7 502.6L2157.7 506.9L2161.7 511.3L2165.7 515.8L2169.7 520.4L2173.7 525.1L2177.7 529.8L2181.7 534.7L2185.7 539.6L2189.7 544.6L2193.7 549.7L2197.7 554.8L2201.7 559.9L2205.7 565.1L2209.7 570.4L2213.7 575.6L2217.7 580.9L2221.7 586.1L2223 587.8L2223 589.5L2221.7 589.5L2217.7 584.8L2213.7 579.5L2209.7 574.3L2205.7 569.1L2201.7 563.9L2197.7 558.7L2193.7 553.6L2189.7 548.5L2185.7 543.5L2181.7 538.5L2177.7 533.6L2173.7 528.8L2169.7 524.1L2165.7 519.4L2161.7 514.9L2157.7 510.5L2153.7 506.1L2149.7 501.9L2145.7 497.9L2141.7 493.9L2137.7 490.1L2133.7 486.5L2129.7 483L2125.7 479.7L2121.7 476.5L2117.7 473.5L2113.7 470.7L2109.7 468.1L2105.7 465.7L2101.7 463.5L2097.7 461.5L2093.7 459.7L2089.7 458.2L2085.7 456.9L2081.7 455.8L2077.7 455L2073.7 454.4L2069.7 454.1L2065.7 454.1L2061.7 454.5L2057.7 455.1L2053.7 456L2049.7 457.1L2045.7 458.5L2041.7 460L2037.7 461.8L2033.7 463.7L2029.7 465.8L2025.7 468.1L2021.7 470.5L2017.7 473L2013.7 475.6L2009.7 478.3L2005.7 481L2001.7 483.9L1997.7 486.7L1993.7 489.6L1989.7 492.4L1985.7 495.3L1981.7 498.1L1977.7 500.9L1973.7 503.7L1969.7 506.3L1965.7 508.9L1961.7 511.4L1957.7 513.7L1953.7 515.9L1949.7 518L1945.7 519.9L1941.7 521.6L1937.7 523.1L1933.7 524.4L1929.7 525.4L1925.7 526.2L1921.7 526.7L1917.7 527L1913.7 527L1909.7 526.8L1905.7 526.3L1901.7 525.4L1897.7 524.2L1893.7 522.7L1889.7 520.8L1885.7 518.7L1881.7 516.3L1877.7 513.7L1873.7 510.8L1869.7 507.8L1865.7 504.6L1861.7 501.2L1857.7 497.6L1853.7 494L1849.7 490.3L1845.7 486.4L1841.7 482.5L1837.7 478.6L1833.7 474.7L1829.7 470.7L1825.7 466.8L1821.7 463L1817.7 459.2L1813.7 455.4L1809.7 451.8L1805.7 448.3L1801.7 445L1797.7 441.8L1793.7 438.8L1789.7 436L1785.7 433.4L1781.7 431.1L1777.7 429L1773.7 427.3L1769.7 425.8L1765.7 424.7L1761.7 423.9L1757.7 423.5L1753.7 423.6L1749.7 424.2L1745.7 425.2L1741.7 426.6L1737.7 428.5L1733.7 430.9L1729.7 433.6L1725.7 436.8L1721.7 440.3L1717.7 444.1L1713.7 448.4L1709.7 452.9L1705.7 457.7L1701.7 462.9L1697.7 468.3L1693.7 473.9L1689.7 479.8L1685.7 485.9L1681.7 492.3L1677.7 498.7L1673.7 505.4L1669.7 512.2L1665.7 519.1L1661.7 526.2L1657.7 533.3L1653.7 540.5L1649.7 547.8L1645.7 555.1L1641.7 562.4L1637.7 569.8L1633.7 577.1L1629.7 584.4L1625.7 591.7L1621.7 598.9L1617.7 606L1613.7 613L1609.7 619.8L1605.7 626.6L1601.7 633.2L1597.7 639.6L1593.7 645.9L1589.7 651.9L1585.7 657.7L1581.7 663.3L1577.7 668.6L1573.7 673.8L1569.7 678.7L1565.7 683.5L1561.7 688.2L1557.7 692.7L1553.7 697.1L1549.7 701.4L1545.7 705.7L1541.7 709.9L1537.7 714L1533.7 718.2L1529.7 722.3L1525.7 726.5L1521.7 730.7L1517.7 735L1513.7 739.3L1509.7 743.8L1505.7 748.4L1501.7 753.1L1497.7 757.9L1493.7 762.9L1489.7 768.2L1485.7 773.6L1481.7 779.2L1477.7 785.1L1473.7 791.3L1469.7 797.8L1465.7 804.5L1461.7 811.6L1457.7 819L1453.7 826.8L1449.7 835L1445.7 843.5L1441.7 852.5L1437.7 861.9L1433.7 871.8L1429.7 882.1L1425.7 893L1421.7 904.3L1417.7 916.1L1413.7 928.3L1409.7 940.8L1405.7 953.8L1401.7 967L1397.7 980.5L1393.7 994.2L1389.7 1008.1L1385.7 1022.1L1381.7 1036.3L1377.7 1050.5L1373.7 1064.7L1369.7 1079L1365.7 1093.2L1361.7 1107.2L1357.7 1121.2L1353.7 1135L1349.7 1148.6L1345.7 1161.9L1341.7 1175L1337.7 1187.7L1333.7 1200L1329.7 1212L1325.7 1223.5L1321.7 1234.5L1317.7 1245L1313.7 1255L1309.7 1264.3L1305.7 1273L1301.7 1281L1297.7 1288.3L1293.7 1294.8L1289.7 1300.6L1285.7 1305.5L1281.7 1309.5L1277.7 1312.6L1273.7 1314.8L1269.7 1315.9L1265.7 1316.1L1261.7 1315.7L1257.7 1314.2L1253.7 1311.7L1249.7 1308.3L1245.7 1304L1241.7 1298.8L1237.7 1292.8L1233.7 1286L1229.7 1278.5L1225.7 1270.2L1221.7 1261.3L1217.7 1251.8L1213.7 1241.7L1209.7 1231L1205.7 1219.8L1201.7 1208.1L1197.7 1196.1L1193.7 1183.6L1189.7 1170.8L1185.7 1157.6L1181.7 1144.2L1177.7 1130.5L1173.7 1116.7L1169.7 1102.7L1165.7 1088.6L1161.7 1074.4L1157.7 1060.1L1153.7 1045.9L1149.7 1031.7L1145.7 1017.6L1141.7 1003.6L1137.7 989.7L1133.7 976.1L1129.7 962.7L1125.7 949.5L1121.7 936.7L1117.7 924.3L1113.7 912.2L1109.7 900.5L1105.7 889.4L1101.7 878.7L1097.7 868.5L1093.7 858.8L1089.7 849.6L1085.7 840.7L1081.7 832.3L1077.7 824.2L1073.7 816.6L1069.7 809.3L1065.7 802.3L1061.7 795.6L1057.7 789.3L1053.7 783.2L1049.7 777.4L1045.7 771.8L1041.7 766.4L1037.7 761.3L1033.7 756.3L1029.7 751.5L1025.7 746.9L1021.7 742.3L1017.7 737.9L1013.7 733.6L1009.7 729.3L1005.7 725.1L1001.7 721L997.7 716.8L993.7 712.7L989.7 708.5L985.7 704.3L981.7 700L977.7 695.7L973.7 691.2L969.7 686.7L965.7 682L961.7 677.1L957.7 672.1L953.7 666.9L949.7 661.5L945.7 655.8L941.7 649.9L937.7 643.8L933.7 637.5L929.7 631.1L925.7 624.4L921.7 617.6L917.7 610.7L913.7 603.7L909.7 596.5L905.7 589.3L901.7 582L897.7 574.7L893.7 567.4L889.7 560.1L885.7 552.7L881.7 545.4L877.7 538.2L873.7 531L869.7 523.9L865.7 516.9L861.7 510L857.7 503.2L853.7 496.6L849.7 490.2L845.7 483.9L841.7 477.9L837.7 472.1L833.7 466.5L829.7 461.2L825.7 456.1L821.7 451.4L817.7 447L813.7 442.8L809.7 439.1L805.7 435.7L801.7 432.7L797.7 430.1L793.7 427.9L789.7 426.1L785.7 424.8L781.7 423.9L777.7 423.5L773.7 423.6L769.7 424.1L765.7 425L761.7 426.3L757.7 427.8L753.7 429.7L749.7 431.8L745.7 434.2L741.7 436.9L737.7 439.7L733.7 442.8L729.7 446L725.7 449.4L721.7 453L717.7 456.6L713.7 460.4L709.7 464.2L705.7 468.1L701.7 472L697.7 476L693.7 479.9L689.7 483.8L685.7 487.7L681.7 491.5L677.7 495.2L673.7 498.8L669.7 502.3L665.7 505.6L661.7 508.8L657.7 511.8L653.7 514.6L649.7 517.1L645.7 519.4L641.7 521.4L637.7 523.2L633.7 524.6L629.7 525.7L625.7 526.5L621.7 526.9L617.7 527L613.7 527L609.7 526.6L605.7 526L601.7 525.1L597.7 524L593.7 522.6L589.7 521L585.7 519.3L581.7 517.3L577.7 515.2L573.7 513L569.7 510.6L565.7 508.1L561.7 505.5L557.7 502.8L553.7 500L549.7 497.2L545.7 494.4L541.7 491.5L537.7 488.6L533.7 485.8L529.7 482.9L525.7 480.1L521.7 477.4L517.7 474.7L513.7 472.2L509.7 469.7L505.7 467.4L501.7 465.1L497.7 463.1L493.7 461.2L489.7 459.5L485.7 458L481.7 456.7L477.7 455.7L473.7 454.9L469.7 454.3L465.7 454.1L461.7 454.2L457.7 454.6L453.7 455.2L449.7 456.1L445.7 457.3L441.7 458.7L437.7 460.3L433.7 462.1L429.7 464.2L425.7 466.5L421.7 468.9L417.7 471.6L413.7 474.5L409.7 477.5L405.7 480.7L401.7 484.1L397.7 487.7L393.7 491.4L389.7 495.2L385.7 499.2L381.7 503.3L377.7 507.5L373.7 511.9L369.7 516.4L365.7 520.9L361.7 525.6L357.7 530.3L353.7 535.2L349.7 540.1L345.7 545.1L341.7 550.1L337.7 555.2L333.7 560.4L329.7 565.5L325.7 570.8L321.7 576L317.7 581.2L313.7 586.5L309.6 589.6Z" fill="#000" stroke="none"/>
<path d="M310.5 616.7L334.75 574.7L286.25 574.7Z" fill="#000" stroke="#000" stroke-width="3" stroke-linejoin="miter"/>
<path d="M469.8 481.4L494.05 439.4L445.55 439.4Z" fill="#000" stroke="#000" stroke-width="3" stroke-linejoin="miter"/>
<path d="M629.1 552.8L653.35 510.8L604.85 510.8Z" fill="#000" stroke="#000" stroke-width="3" stroke-linejoin="miter"/>
<path d="M788.4 452.5L812.65 410.5L764.15 410.5Z" fill="#000" stroke="#000" stroke-width="3" stroke-linejoin="miter"/>
<path d="M947.7 684.7L971.95 642.7L923.45 642.7Z" fill="#000" stroke="#000" stroke-width="3" stroke-linejoin="miter"/>
<path d="M1107 917.9L1131.25 875.9L1082.75 875.9Z" fill="#000" stroke="#000" stroke-width="3" stroke-linejoin="miter"/>
<path d="M1266.3 1343.3L1290.55 1301.3L1242.05 1301.3Z" fill="#000" stroke="#000" stroke-width="3" stroke-linejoin="miter"/>
<path d="M1425.6 917.9L1449.85 875.9L1401.35 875.9Z" fill="#000" stroke="#000" stroke-width="3" stroke-linejoin="miter"/>
<path d="M1584.9 684.7L1609.15 642.7L1560.65 642.7Z" fill="#000" stroke="#000" stroke-width="3" stroke-linejoin="miter"/>
<path d="M1744.2 452.5L1768.45 410.5L1719.95 410.5Z" fill="#000" stroke="#000" stroke-width="3" stroke-linejoin="miter"/>
<path d="M1903.5 552.8L1927.75 510.8L1879.25 510.8Z" fill="#000" stroke="#000" stroke-width="3" stroke-linejoin="miter"/>
<path d="M2062.8 481.4L2087.05 439.4L2038.55 439.4Z" fill="#000" stroke="#000" stroke-width="3" stroke-linejoin="miter"/>
<path d="M2222.1 616.7L2246.35 574.7L2197.85 574.7Z" fill="#000" stroke="#000" stroke-width="3" stroke-linejoin="miter"/>
</g>
<g><path d="M309.6 587.8L313.7 582.6L317.7 577.3L321.7 572.1L325.7 566.8L329.7 561.6L333.7 556.4L337.7 551.3L341.7 546.2L345.7 541.2L349.7 536.2L353.7 531.3L357.7 526.5L361.7 521.7L365.7 517.1L369.7 512.5L373.7 508L377.7 503.7L381.7 499.4L385.7 495.3L389.7 491.3L393.7 487.4L397.7 483.7L401.7 480.1L405.7 476.7L409.7 473.4L413.7 470.3L417.7 467.4L421.7 464.6L425.7 462.1L429.7 459.7L433.7 457.5L437.7 455.6L441.7 453.8L445.7 452.3L449.7 451L453.7 449.9L457.7 449.1L461.7 448.5L465.7 448.2L469.7 448.1L473.7 448.2L477.7 448.6L481.7 449.2L485.7 450L489.7 451L493.7 452.2L497.7 453.6L501.7 455.1L505.7 456.8L509.7 458.7L513.7 460.6L517.7 462.7L521.7 464.8L525.7 467L529.7 469.2L533.7 471.5L537.7 473.9L541.7 476.2L545.7 478.5L549.7 480.8L553.7 483.1L557.7 485.3L561.7 487.5L565.7 489.5L569.7 491.5L573.7 493.3L577.7 495.1L581.7 496.6L585.7 498.1L589.7 499.3L593.7 500.4L597.7 501.2L601.7 501.8L605.7 502.2L609.7 502.4L613.7 502.1L617.7 501.6L621.7 500.7L625.7 499.6L629.7 498.1L633.7 496.3L637.7 494.1L641.7 491.7L645.7 489L649.7 486L653.7 482.8L657.7 479.3L661.7 475.7L665.7 471.9L669.7 468L673.7 463.9L677.7 459.7L681.7 455.4L685.7 451L689.7 446.6L693.7 442.1L697.7 437.6L701.7 433.1L705.7 428.7L709.7 424.3L713.7 420L717.7 415.7L721.7 411.6L725.7 407.6L729.7 403.7L733.7 400L737.7 396.5L741.7 393.2L745.7 390.2L749.7 387.3L753.7 384.8L757.7 382.5L761.7 380.6L765.7 379L769.7 377.7L773.7 376.8L777.7 376.3L781.7 376.2L785.7 376.3L789.7 376.9L793.7 378L797.7 379.5L801.7 381.4L805.7 383.7L809.7 386.4L813.7 389.5L817.7 392.9L821.7 396.7L825.7 400.8L829.7 405.1L833.7 409.8L837.7 414.7L841.7 419.9L845.7 425.3L849.7 430.9L853.7 436.8L857.7 442.7L861.7 448.9L865.7 455.2L869.7 461.6L873.7 468.1L877.7 474.7L881.7 481.4L885.7 488.1L889.7 494.9L893.7 501.7L897.7 508.4L901.7 515.2L905.7 521.9L909.7 528.6L913.7 535.2L917.7 541.7L921.7 548.1L925.7 554.4L929.7 560.5L933.7 566.5L937.7 572.3L941.7 577.9L945.7 583.3L949.7 588.4L953.7 593.4L957.7 598.1L961.7 602.6L965.7 606.9L969.7 611.1L973.7 615.1L977.7 619L981.7 622.8L985.7 626.5L989.7 630.1L993.7 633.7L997.7 637.3L1001.7 640.8L1005.7 644.4L1009.7 648L1013.7 651.6L1017.7 655.3L1021.7 659.1L1025.7 663L1029.7 667.1L1033.7 671.2L1037.7 675.6L1041.7 680.1L1045.7 684.8L1049.7 689.7L1053.7 694.9L1057.7 700.4L1061.7 706.1L1065.7 712.1L1069.7 718.4L1073.7 725.1L1077.7 732.1L1081.7 739.5L1085.7 747.3L1089.7 755.5L1093.7 764.1L1097.7 773.1L1101.7 782.7L1105.7 792.7L1109.7 803.3L1113.7 814.3L1117.7 825.8L1121.7 837.7L1125.7 850L1129.7 862.6L1133.7 875.6L1137.7 888.8L1141.7 902.2L1145.7 915.8L1149.7 929.6L1153.7 943.5L1157.7 957.4L1161.7 971.4L1165.7 985.3L1169.7 999.2L1173.7 1013L1177.7 1026.7L1181.7 1040.2L1185.7 1053.6L1189.7 1066.6L1193.7 1079.4L1197.7 1091.8L1201.7 1103.9L1205.7 1115.6L1209.7 1126.8L1213.7 1137.6L1217.7 1147.8L1221.7 1157.5L1225.7 1166.6L1229.7 1175L1233.7 1182.7L1237.7 1189.8L1241.7 1196.1L1245.7 1201.5L1249.7 1206.2L1253.7 1209.9L1257.7 1212.8L1261.7 1214.7L1265.7 1215.6L1269.7 1215.1L1273.7 1213.5L1277.7 1211L1281.7 1207.5L1285.7 1203.1L1289.7 1197.9L1293.7 1191.9L1297.7 1185.1L1301.7 1177.6L1305.7 1169.4L1309.7 1160.5L1313.7 1151L1317.7 1141L1321.7 1130.4L1325.7 1119.3L1329.7 1107.8L1333.7 1095.8L1337.7 1083.5L1341.7 1070.8L1345.7 1057.8L1349.7 1044.6L1353.7 1031.1L1357.7 1017.5L1361.7 1003.7L1365.7 989.9L1369.7 975.9L1373.7 961.9L1377.7 948L1381.7 934.1L1385.7 920.3L1389.7 906.6L1393.7 893.1L1397.7 879.8L1401.7 866.8L1405.7 854.1L1409.7 841.7L1413.7 829.6L1417.7 818L1421.7 806.8L1425.7 796.1L1429.7 785.9L1433.7 776.2L1437.7 767L1441.7 758.2L1445.7 749.9L1449.7 742L1453.7 734.4L1457.7 727.3L1461.7 720.5L1465.7 714.1L1469.7 708L1473.7 702.2L1477.7 696.7L1481.7 691.4L1485.7 686.4L1489.7 681.6L1493.7 677L1497.7 672.6L1501.7 668.4L1505.7 664.3L1509.7 660.4L1513.7 656.6L1517.7 652.8L1521.7 649.2L1525.7 645.6L1529.7 642L1533.7 638.4L1537.7 634.9L1541.7 631.3L1545.7 627.7L1549.7 624L1553.7 620.2L1557.7 616.4L1561.7 612.4L1565.7 608.3L1569.7 604L1573.7 599.6L1577.7 594.9L1581.7 590.1L1585.7 585L1589.7 579.7L1593.7 574.1L1597.7 568.4L1601.7 562.5L1605.7 556.4L1609.7 550.2L1613.7 543.8L1617.7 537.3L1621.7 530.7L1625.7 524.1L1629.7 517.4L1633.7 510.6L1637.7 503.9L1641.7 497.1L1645.7 490.3L1649.7 483.6L1653.7 476.9L1657.7 470.3L1661.7 463.7L1665.7 457.3L1669.7 450.9L1673.7 444.7L1677.7 438.7L1681.7 432.8L1685.7 427.1L1689.7 421.7L1693.7 416.4L1697.7 411.4L1701.7 406.6L1705.7 402.2L1709.7 398L1713.7 394.1L1717.7 390.6L1721.7 387.4L1725.7 384.5L1729.7 382.1L1733.7 380L1737.7 378.4L1741.7 377.2L1745.7 376.5L1749.7 376.2L1753.7 376.2L1757.7 376.6L1761.7 377.4L1765.7 378.5L1769.7 380L1773.7 381.9L1777.7 384L1781.7 386.5L1785.7 389.2L1789.7 392.2L1793.7 395.4L1797.7 398.9L1801.7 402.5L1805.7 406.3L1809.7 410.3L1813.7 414.4L1817.7 418.6L1821.7 422.9L1825.7 427.3L1829.7 431.7L1833.7 436.2L1837.7 440.6L1841.7 445.1L1845.7 449.6L1849.7 453.9L1853.7 458.3L1857.7 462.5L1861.7 466.6L1865.7 470.6L1869.7 474.5L1873.7 478.2L1877.7 481.7L1881.7 485L1885.7 488L1889.7 490.8L1893.7 493.4L1897.7 495.6L1901.7 497.5L1905.7 499.1L1909.7 500.4L1913.7 501.3L1917.7 502L1921.7 502.3L1925.7 502.3L1929.7 502L1933.7 501.4L1937.7 500.7L1941.7 499.7L1945.7 498.5L1949.7 497.1L1953.7 495.6L1957.7 493.9L1961.7 492.1L1965.7 490.2L1969.7 488.1L1973.7 486L1977.7 483.8L1981.7 481.6L1985.7 479.3L1989.7 477L1993.7 474.6L1997.7 472.3L2001.7 470L2005.7 467.7L2009.7 465.5L2013.7 463.3L2017.7 461.3L2021.7 459.3L2025.7 457.4L2029.7 455.7L2033.7 454.1L2037.7 452.6L2041.7 451.4L2045.7 450.3L2049.7 449.4L2053.7 448.8L2057.7 448.3L2061.7 448.2L2065.7 448.2L2069.7 448.4L2073.7 448.9L2077.7 449.6L2081.7 450.6L2085.7 451.9L2089.7 453.3L2093.7 455L2097.7 456.9L2101.7 459L2105.7 461.3L2109.7 463.8L2113.7 466.5L2117.7 469.3L2121.7 472.4L2125.7 475.6L2129.7 479L2133.7 482.5L2137.7 486.2L2141.7 490L2145.7 494L2149.7 498.1L2153.7 502.3L2157.7 506.6L2161.7 511L2165.7 515.6L2169.7 520.2L2173.7 524.9L2177.7 529.7L2181.7 534.6L2185.7 539.6L2189.7 544.6L2193.7 549.7L2197.7 554.8L2201.7 559.9L2205.7 565.1L2209.7 570.4L2213.7 575.6L2217.7 580.9L2221.7 586.1L2223 587.9L2223 589.6L2221.7 589.6L2217.7 584.8L2213.7 579.5L2209.7 574.3L2205.7 569L2201.7 563.8L2197.7 558.7L2193.7 553.5L2189.7 548.4L2185.7 543.4L2181.7 538.4L2177.7 533.5L2173.7 528.7L2169.7 523.9L2165.7 519.2L2161.7 514.7L2157.7 510.2L2153.7 505.8L2149.7 501.5L2145.7 497.4L2141.7 493.4L2137.7 489.5L2133.7 485.7L2129.7 482.2L2125.7 478.7L2121.7 475.4L2117.7 472.3L2113.7 469.4L2109.7 466.6L2105.7 464L2101.7 461.6L2097.7 459.4L2093.7 457.5L2089.7 455.7L2085.7 454.1L2081.7 452.8L2077.7 451.7L2073.7 450.9L2069.7 450.3L2065.7 449.9L2061.7 449.9L2057.7 450.2L2053.7 450.7L2049.7 451.5L2045.7 452.4L2041.7 453.6L2037.7 454.9L2033.7 456.4L2029.7 458.1L2025.7 459.9L2021.7 461.8L2017.7 463.8L2013.7 465.9L2009.7 468.1L2005.7 470.4L2001.7 472.7L1997.7 475L1993.7 477.3L1989.7 479.6L1985.7 482L1981.7 484.2L1977.7 486.5L1973.7 488.6L1969.7 490.7L1965.7 492.7L1961.7 494.6L1957.7 496.3L1953.7 498L1949.7 499.4L1945.7 500.7L1941.7 501.8L1937.7 502.7L1933.7 503.4L1929.7 503.9L1925.7 504.1L1921.7 504.1L1917.7 503.8L1913.7 503.3L1909.7 502.5L1905.7 501.4L1901.7 500L1897.7 498.2L1893.7 496L1889.7 493.6L1885.7 490.9L1881.7 488L1877.7 484.8L1873.7 481.4L1869.7 477.8L1865.7 474L1861.7 470.1L1857.7 466L1853.7 461.8L1849.7 457.5L1845.7 453.1L1841.7 448.7L1837.7 444.2L1833.7 439.8L1829.7 435.3L1825.7 430.8L1821.7 426.4L1817.7 422.1L1813.7 417.8L1809.7 413.7L1805.7 409.7L1801.7 405.8L1797.7 402.1L1793.7 398.6L1789.7 395.2L1785.7 392.2L1781.7 389.3L1777.7 386.7L1773.7 384.4L1769.7 382.5L1765.7 380.8L1761.7 379.5L1757.7 378.6L1753.7 378L1749.7 378L1745.7 378.4L1741.7 379.4L1737.7 380.8L1733.7 382.6L1729.7 384.8L1725.7 387.4L1721.7 390.4L1717.7 393.7L1713.7 397.4L1709.7 401.4L1705.7 405.7L1701.7 410.3L1697.7 415.2L1693.7 420.3L1689.7 425.7L1685.7 431.2L1681.7 437L1677.7 442.9L1673.7 449L1669.7 455.3L1665.7 461.7L1661.7 468.2L1657.7 474.8L1653.7 481.4L1649.7 488.1L1645.7 494.9L1641.7 501.7L1637.7 508.4L1633.7 515.2L1629.7 521.9L1625.7 528.6L1621.7 535.2L1617.7 541.8L1613.7 548.2L1609.7 554.5L1605.7 560.7L1601.7 566.7L1597.7 572.6L1593.7 578.2L1589.7 583.7L1585.7 588.9L1581.7 593.9L1577.7 598.6L1573.7 603.2L1569.7 607.5L1565.7 611.7L1561.7 615.8L1557.7 619.7L1553.7 623.5L1549.7 627.3L1545.7 630.9L1541.7 634.5L1537.7 638.1L1533.7 641.6L1529.7 645.2L1525.7 648.8L1521.7 652.4L1517.7 656.1L1513.7 659.9L1509.7 663.8L1505.7 667.7L1501.7 671.9L1497.7 676.2L1493.7 680.6L1489.7 685.3L1485.7 690.2L1481.7 695.3L1477.7 700.7L1473.7 706.3L1469.7 712.3L1465.7 718.5L1461.7 725.1L1457.7 732L1453.7 739.3L1449.7 747L1445.7 755.1L1441.7 763.6L1437.7 772.5L1433.7 782L1429.7 791.9L1425.7 802.3L1421.7 813.2L1417.7 824.6L1413.7 836.4L1409.7 848.6L1405.7 861.1L1401.7 874L1397.7 887.2L1393.7 900.5L1389.7 914.1L1385.7 927.8L1381.7 941.7L1377.7 955.6L1373.7 969.6L1369.7 983.5L1365.7 997.5L1361.7 1011.3L1357.7 1025L1353.7 1038.6L1349.7 1051.9L1345.7 1065.1L1341.7 1077.9L1337.7 1090.5L1333.7 1102.6L1329.7 1114.4L1325.7 1125.8L1321.7 1136.7L1317.7 1147L1313.7 1156.8L1309.7 1166.1L1305.7 1174.7L1301.7 1182.6L1297.7 1189.8L1293.7 1196.3L1289.7 1201.9L1285.7 1206.8L1281.7 1210.8L1277.7 1213.9L1273.7 1216L1269.7 1217.1L1265.7 1217.3L1261.7 1216.9L1257.7 1215.4L1253.7 1213L1249.7 1209.6L1245.7 1205.3L1241.7 1200.2L1237.7 1194.2L1233.7 1187.5L1229.7 1180.1L1225.7 1171.9L1221.7 1163.1L1217.7 1153.7L1213.7 1143.7L1209.7 1133.2L1205.7 1122.1L1201.7 1110.6L1197.7 1098.7L1193.7 1086.4L1189.7 1073.8L1185.7 1060.8L1181.7 1047.6L1177.7 1034.2L1173.7 1020.6L1169.7 1006.8L1165.7 992.9L1161.7 979L1157.7 965L1153.7 951.1L1149.7 937.2L1145.7 923.4L1141.7 909.7L1137.7 896.2L1133.7 882.9L1129.7 869.8L1125.7 857L1121.7 844.6L1117.7 832.5L1113.7 820.8L1109.7 809.6L1105.7 798.8L1101.7 788.6L1097.7 778.8L1093.7 769.6L1089.7 760.8L1085.7 752.4L1081.7 744.4L1077.7 736.9L1073.7 729.7L1069.7 722.9L1065.7 716.4L1061.7 710.3L1057.7 704.5L1053.7 698.9L1049.7 693.6L1045.7 688.6L1041.7 683.8L1037.7 679.2L1033.7 674.8L1029.7 670.5L1025.7 666.4L1021.7 662.5L1017.7 658.6L1013.7 654.9L1009.7 651.2L1005.7 647.6L1001.7 644L997.7 640.5L993.7 636.9L989.7 633.3L985.7 629.7L981.7 626.1L977.7 622.3L973.7 618.5L969.7 614.5L965.7 610.4L961.7 606.1L957.7 601.7L953.7 597.1L949.7 592.3L945.7 587.2L941.7 581.9L937.7 576.4L933.7 570.7L929.7 564.8L925.7 558.7L921.7 552.5L917.7 546.1L913.7 539.7L909.7 533.1L905.7 526.5L901.7 519.8L897.7 513L893.7 506.2L889.7 499.5L885.7 492.7L881.7 485.9L877.7 479.2L873.7 472.6L869.7 466.1L865.7 459.6L861.7 453.3L857.7 447L853.7 441L849.7 435.1L845.7 429.4L841.7 423.9L837.7 418.6L833.7 413.6L829.7 408.8L825.7 404.3L821.7 400.1L817.7 396.2L813.7 392.6L809.7 389.4L805.7 386.5L801.7 384L797.7 381.9L793.7 380.3L789.7 379L785.7 378.2L781.7 377.9L777.7 378.2L773.7 378.8L769.7 379.9L765.7 381.3L761.7 383.1L757.7 385.2L753.7 387.5L749.7 390.2L745.7 393.1L741.7 396.3L737.7 399.7L733.7 403.3L729.7 407L725.7 411L721.7 415L717.7 419.2L713.7 423.5L709.7 427.9L705.7 432.3L701.7 436.7L697.7 441.2L693.7 445.7L689.7 450.1L685.7 454.6L681.7 458.9L677.7 463.2L673.7 467.3L669.7 471.4L665.7 475.3L661.7 479L657.7 482.5L653.7 485.9L649.7 489L645.7 491.8L641.7 494.4L637.7 496.8L633.7 498.8L629.7 500.5L625.7 501.8L621.7 502.8L617.7 503.5L613.7 503.9L609.7 504.1L605.7 504L601.7 503.7L597.7 503.2L593.7 502.4L589.7 501.5L585.7 500.3L581.7 499L577.7 497.5L573.7 495.8L569.7 494L565.7 492.1L561.7 490L557.7 487.9L553.7 485.7L549.7 483.5L545.7 481.2L541.7 478.9L537.7 476.6L533.7 474.2L529.7 471.9L525.7 469.6L521.7 467.4L517.7 465.3L513.7 463.2L509.7 461.2L505.7 459.3L501.7 457.5L497.7 455.9L493.7 454.5L489.7 453.2L485.7 452.1L481.7 451.2L477.7 450.5L473.7 450.1L469.7 449.9L465.7 450L461.7 450.5L457.7 451.1L453.7 452.1L449.7 453.2L445.7 454.6L441.7 456.2L437.7 458.1L433.7 460.1L429.7 462.4L425.7 464.8L421.7 467.5L417.7 470.3L413.7 473.3L409.7 476.5L405.7 479.8L401.7 483.3L397.7 486.9L393.7 490.7L389.7 494.7L385.7 498.7L381.7 502.9L377.7 507.2L373.7 511.6L369.7 516.1L365.7 520.7L361.7 525.4L357.7 530.2L353.7 535.1L349.7 540L345.7 545L341.7 550.1L337.7 555.2L333.7 560.3L329.7 565.5L325.7 570.7L321.7 576L317.7 581.2L313.7 586.5L309.6 589.6Z" fill="#000" stroke="none"/>
<path d="M283.4 588.7L325.4 564.45L325.4 612.95Z" fill="#fff" stroke="#000" stroke-width="3" stroke-linejoin="miter"/>
<path d="M442.7 449L484.7 424.75L484.7 473.25Z" fill="#fff" stroke="#000" stroke-width="3" stroke-linejoin="miter"/>
<path d="M602 499.5L644 475.25L644 523.75Z" fill="#fff" stroke="#000" stroke-width="3" stroke-linejoin="miter"/>
<path d="M761.3 377.7L803.3 353.45L803.3 401.95Z" fill="#fff" stroke="#000" stroke-width="3" stroke-linejoin="miter"/>
<path d="M920.6 587.9L962.6 563.65L962.6 612.15Z" fill="#fff" stroke="#000" stroke-width="3" stroke-linejoin="miter"/>
<path d="M1079.9 799.3L1121.9 775.05L1121.9 823.55Z" fill="#fff" stroke="#000" stroke-width="3" stroke-linejoin="miter"/>
<path d="M1239.2 1216.5L1281.2 1192.25L1281.2 1240.75Z" fill="#fff" stroke="#000" stroke-width="3" stroke-linejoin="miter"/>
<path d="M1398.5 799.3L1440.5 775.05L1440.5 823.55Z" fill="#fff" stroke="#000" stroke-width="3" stroke-linejoin="miter"/>
<path d="M1557.8 587.9L1599.8 563.65L1599.8 612.15Z" fill="#fff" stroke="#000" stroke-width="3" stroke-linejoin="miter"/>
<path d="M1717.1 377.7L1759.1 353.45L1759.1 401.95Z" fill="#fff" stroke="#000" stroke-width="3" stroke-linejoin="miter"/>
<path d="M1876.4 499.5L1918.4 475.25L1918.4 523.75Z" fill="#fff" stroke="#000" stroke-width="3" stroke-linejoin="miter"/>
<path d="M2035.7 449L2077.7 424.75L2077.7 473.25Z" fill="#fff" stroke="#000" stroke-width="3" stroke-linejoin="miter"/>
<path d="M2195 588.7L2237 564.45L2237 612.95Z" fill="#fff" stroke="#000" stroke-width="3" stroke-linejoin="miter"/>
</g>
<g><path d="M309.6 587.8L313.7 582.6L317.7 577.3L321.7 572.1L325.7 566.9L329.7 561.7L333.7 556.6L337.7 551.4L341.7 546.4L345.7 541.4L349.7 536.4L353.7 531.5L357.7 526.7L361.7 522L365.7 517.3L369.7 512.7L373.7 508.3L377.7 503.9L381.7 499.7L385.7 495.6L389.7 491.6L393.7 487.7L397.7 484L401.7 480.4L405.7 477L409.7 473.7L413.7 470.6L417.7 467.7L421.7 465L425.7 462.4L429.7 460L433.7 457.8L437.7 455.9L441.7 454.1L445.7 452.6L449.7 451.3L453.7 450.2L457.7 449.4L461.7 448.8L465.7 448.4L469.7 448.3L473.7 448.4L477.7 448.7L481.7 449.3L485.7 450.1L489.7 451.1L493.7 452.3L497.7 453.6L501.7 455.1L505.7 456.8L509.7 458.6L513.7 460.5L517.7 462.5L521.7 464.6L525.7 466.8L529.7 469L533.7 471.3L537.7 473.6L541.7 475.9L545.7 478.2L549.7 480.5L553.7 482.7L557.7 484.9L561.7 487L565.7 489.1L569.7 491L573.7 492.9L577.7 494.6L581.7 496.2L585.7 497.6L589.7 498.8L593.7 499.9L597.7 500.8L601.7 501.4L605.7 501.8L609.7 502L613.7 501.8L617.7 501.3L621.7 500.5L625.7 499.3L629.7 497.9L633.7 496.1L637.7 494.1L641.7 491.7L645.7 489L649.7 486.1L653.7 483L657.7 479.7L661.7 476.1L665.7 472.4L669.7 468.6L673.7 464.6L677.7 460.5L681.7 456.3L685.7 452L689.7 447.7L693.7 443.3L697.7 438.9L701.7 434.6L705.7 430.3L709.7 426L713.7 421.8L717.7 417.6L721.7 413.6L725.7 409.7L729.7 406L733.7 402.4L737.7 399L741.7 395.8L745.7 392.9L749.7 390.2L753.7 387.7L757.7 385.6L761.7 383.7L765.7 382.2L769.7 381L773.7 380.2L777.7 379.8L781.7 379.7L785.7 380L789.7 380.6L793.7 381.8L797.7 383.3L801.7 385.3L805.7 387.7L809.7 390.4L813.7 393.6L817.7 397.1L821.7 400.9L825.7 405L829.7 409.4L833.7 414.1L837.7 419.1L841.7 424.3L845.7 429.8L849.7 435.4L853.7 441.2L857.7 447.3L861.7 453.4L865.7 459.7L869.7 466.2L873.7 472.7L877.7 479.3L881.7 486L885.7 492.8L889.7 499.5L893.7 506.3L897.7 513.1L901.7 519.9L905.7 526.6L909.7 533.3L913.7 539.9L917.7 546.5L921.7 552.9L925.7 559.2L929.7 565.3L933.7 571.3L937.7 577.1L941.7 582.8L945.7 588.2L949.7 593.4L953.7 598.3L957.7 603L961.7 607.6L965.7 611.9L969.7 616.1L973.7 620.2L977.7 624.1L981.7 627.9L985.7 631.7L989.7 635.3L993.7 639L997.7 642.6L1001.7 646.2L1005.7 649.8L1009.7 653.5L1013.7 657.2L1017.7 660.9L1021.7 664.8L1025.7 668.8L1029.7 672.9L1033.7 677.1L1037.7 681.5L1041.7 686.1L1045.7 690.9L1049.7 696L1053.7 701.2L1057.7 706.8L1061.7 712.6L1065.7 718.7L1069.7 725.1L1073.7 731.9L1077.7 739L1081.7 746.6L1085.7 754.5L1089.7 762.8L1093.7 771.6L1097.7 780.8L1101.7 790.5L1105.7 800.6L1109.7 811.3L1113.7 822.5L1117.7 834.2L1121.7 846.3L1125.7 858.7L1129.7 871.6L1133.7 884.7L1137.7 898.1L1141.7 911.7L1145.7 925.5L1149.7 939.4L1153.7 953.5L1157.7 967.6L1161.7 981.8L1165.7 995.9L1169.7 1010L1173.7 1024L1177.7 1037.8L1181.7 1051.5L1185.7 1065L1189.7 1078.2L1193.7 1091.2L1197.7 1103.8L1201.7 1116L1205.7 1127.8L1209.7 1139.2L1213.7 1150.1L1217.7 1160.5L1221.7 1170.3L1225.7 1179.5L1229.7 1188L1233.7 1195.8L1237.7 1203L1241.7 1209.3L1245.7 1214.9L1249.7 1219.6L1253.7 1223.4L1257.7 1226.2L1261.7 1228.2L1265.7 1229.1L1269.7 1228.6L1273.7 1227L1277.7 1224.4L1281.7 1220.9L1285.7 1216.5L1289.7 1211.2L1293.7 1205.1L1297.7 1198.2L1301.7 1190.6L1305.7 1182.3L1309.7 1173.3L1313.7 1163.7L1317.7 1153.5L1321.7 1142.8L1325.7 1131.6L1329.7 1119.9L1333.7 1107.8L1337.7 1095.3L1341.7 1082.5L1345.7 1069.3L1349.7 1055.9L1353.7 1042.3L1357.7 1028.5L1361.7 1014.5L1365.7 1000.5L1369.7 986.3L1373.7 972.2L1377.7 958.1L1381.7 944L1385.7 930L1389.7 916.1L1393.7 902.5L1397.7 889L1401.7 875.8L1405.7 862.9L1409.7 850.3L1413.7 838.1L1417.7 826.3L1421.7 814.9L1425.7 804.1L1429.7 793.7L1433.7 783.9L1437.7 774.5L1441.7 765.6L1445.7 757.1L1449.7 749.1L1453.7 741.4L1457.7 734.2L1461.7 727.3L1465.7 720.8L1469.7 714.5L1473.7 708.6L1477.7 703L1481.7 697.7L1485.7 692.5L1489.7 687.7L1493.7 683L1497.7 678.5L1501.7 674.2L1505.7 670.1L1509.7 666.1L1513.7 662.2L1517.7 658.4L1521.7 654.7L1525.7 651L1529.7 647.4L1533.7 643.8L1537.7 640.2L1541.7 636.5L1545.7 632.9L1549.7 629.1L1553.7 625.3L1557.7 621.4L1561.7 617.4L1565.7 613.3L1569.7 609L1573.7 604.5L1577.7 599.9L1581.7 595L1585.7 589.9L1589.7 584.5L1593.7 579L1597.7 573.2L1601.7 567.3L1605.7 561.2L1609.7 554.9L1613.7 548.6L1617.7 542.1L1621.7 535.5L1625.7 528.8L1629.7 522.1L1633.7 515.3L1637.7 508.5L1641.7 501.8L1645.7 495L1649.7 488.2L1653.7 481.5L1657.7 474.9L1661.7 468.3L1665.7 461.8L1669.7 455.5L1673.7 449.2L1677.7 443.2L1681.7 437.3L1685.7 431.6L1689.7 426.1L1693.7 420.8L1697.7 415.7L1701.7 410.9L1705.7 406.4L1709.7 402.2L1713.7 398.3L1717.7 394.7L1721.7 391.4L1725.7 388.5L1729.7 386L1733.7 383.9L1737.7 382.2L1741.7 381L1745.7 380.1L1749.7 379.8L1753.7 379.7L1757.7 380L1761.7 380.7L1765.7 381.8L1769.7 383.2L1773.7 384.9L1777.7 387L1781.7 389.3L1785.7 392L1789.7 394.8L1793.7 397.9L1797.7 401.3L1801.7 404.8L1805.7 408.5L1809.7 412.3L1813.7 416.3L1817.7 420.4L1821.7 424.6L1825.7 428.9L1829.7 433.2L1833.7 437.5L1837.7 441.9L1841.7 446.3L1845.7 450.6L1849.7 454.9L1853.7 459.1L1857.7 463.2L1861.7 467.3L1865.7 471.2L1869.7 474.9L1873.7 478.5L1877.7 481.9L1881.7 485.1L1885.7 488.1L1889.7 490.8L1893.7 493.3L1897.7 495.5L1901.7 497.4L1905.7 498.9L1909.7 500.1L1913.7 501L1917.7 501.6L1921.7 501.9L1925.7 501.9L1929.7 501.6L1933.7 501L1937.7 500.2L1941.7 499.2L1945.7 498L1949.7 496.7L1953.7 495.1L1957.7 493.5L1961.7 491.6L1965.7 489.7L1969.7 487.7L1973.7 485.6L1977.7 483.4L1981.7 481.2L1985.7 478.9L1989.7 476.6L1993.7 474.3L1997.7 472L2001.7 469.8L2005.7 467.5L2009.7 465.3L2013.7 463.2L2017.7 461.1L2021.7 459.2L2025.7 457.4L2029.7 455.7L2033.7 454.1L2037.7 452.7L2041.7 451.4L2045.7 450.4L2049.7 449.5L2053.7 448.9L2057.7 448.5L2061.7 448.4L2065.7 448.4L2069.7 448.6L2073.7 449.2L2077.7 449.9L2081.7 450.9L2085.7 452.1L2089.7 453.6L2093.7 455.3L2097.7 457.2L2101.7 459.3L2105.7 461.6L2109.7 464.1L2113.7 466.8L2117.7 469.7L2121.7 472.7L2125.7 475.9L2129.7 479.3L2133.7 482.8L2137.7 486.5L2141.7 490.3L2145.7 494.3L2149.7 498.3L2153.7 502.5L2157.7 506.9L2161.7 511.3L2165.7 515.8L2169.7 520.4L2173.7 525.1L2177.7 529.9L2181.7 534.8L2185.7 539.7L2189.7 544.7L2193.7 549.8L2197.7 554.9L2201.7 560L2205.7 565.2L2209.7 570.4L2213.7 575.6L2217.7 580.9L2221.7 586.1L2223 587.9L2223 589.6L2221.7 589.6L2217.7 584.8L2213.7 579.6L2209.7 574.3L2205.7 569.1L2201.7 563.9L2197.7 558.8L2193.7 553.6L2189.7 548.6L2185.7 543.6L2181.7 538.6L2177.7 533.7L2173.7 528.9L2169.7 524.1L2165.7 519.5L2161.7 514.9L2157.7 510.4L2153.7 506.1L2149.7 501.8L2145.7 497.7L2141.7 493.7L2137.7 489.8L2133.7 486.1L2129.7 482.5L2125.7 479L2121.7 475.7L2117.7 472.6L2113.7 469.7L2109.7 466.9L2105.7 464.3L2101.7 461.9L2097.7 459.8L2093.7 457.8L2089.7 456L2085.7 454.4L2081.7 453.1L2077.7 452L2073.7 451.1L2069.7 450.5L2065.7 450.2L2061.7 450.1L2057.7 450.3L2053.7 450.8L2049.7 451.6L2045.7 452.5L2041.7 453.6L2037.7 455L2033.7 456.4L2029.7 458.1L2025.7 459.8L2021.7 461.7L2017.7 463.7L2013.7 465.8L2009.7 467.9L2005.7 470.2L2001.7 472.4L1997.7 474.7L1993.7 477L1989.7 479.3L1985.7 481.6L1981.7 483.9L1977.7 486.1L1973.7 488.2L1969.7 490.3L1965.7 492.3L1961.7 494.1L1957.7 495.9L1953.7 497.5L1949.7 499L1945.7 500.2L1941.7 501.4L1937.7 502.3L1933.7 503L1929.7 503.4L1925.7 503.7L1921.7 503.7L1917.7 503.5L1913.7 503L1909.7 502.3L1905.7 501.2L1901.7 499.8L1897.7 498L1893.7 496L1889.7 493.6L1885.7 491L1881.7 488.1L1877.7 485L1873.7 481.7L1869.7 478.2L1865.7 474.5L1861.7 470.6L1857.7 466.7L1853.7 462.6L1849.7 458.4L1845.7 454.1L1841.7 449.8L1837.7 445.5L1833.7 441.1L1829.7 436.7L1825.7 432.4L1821.7 428.1L1817.7 423.9L1813.7 419.7L1809.7 415.7L1805.7 411.8L1801.7 408L1797.7 404.4L1793.7 401L1789.7 397.8L1785.7 394.8L1781.7 392.1L1777.7 389.6L1773.7 387.5L1769.7 385.6L1765.7 384L1761.7 382.8L1757.7 382L1753.7 381.5L1749.7 381.6L1745.7 382.1L1741.7 383.1L1737.7 384.6L1733.7 386.5L1729.7 388.7L1725.7 391.4L1721.7 394.5L1717.7 397.9L1713.7 401.6L1709.7 405.6L1705.7 410L1701.7 414.6L1697.7 419.5L1693.7 424.7L1689.7 430.1L1685.7 435.7L1681.7 441.5L1677.7 447.4L1673.7 453.6L1669.7 459.9L1665.7 466.3L1661.7 472.8L1657.7 479.4L1653.7 486L1649.7 492.8L1645.7 499.5L1641.7 506.3L1637.7 513.1L1633.7 519.9L1629.7 526.7L1625.7 533.4L1621.7 540L1617.7 546.5L1613.7 553L1609.7 559.3L1605.7 565.5L1601.7 571.5L1597.7 577.4L1593.7 583.1L1589.7 588.5L1585.7 593.8L1581.7 598.8L1577.7 603.6L1573.7 608.1L1569.7 612.5L1565.7 616.8L1561.7 620.9L1557.7 624.8L1553.7 628.7L1549.7 632.4L1545.7 636.1L1541.7 639.8L1537.7 643.4L1533.7 647L1529.7 650.6L1525.7 654.3L1521.7 657.9L1517.7 661.7L1513.7 665.5L1509.7 669.5L1505.7 673.5L1501.7 677.7L1497.7 682.1L1493.7 686.7L1489.7 691.4L1485.7 696.4L1481.7 701.6L1477.7 707.1L1473.7 712.8L1469.7 718.8L1465.7 725.2L1461.7 731.9L1457.7 738.9L1453.7 746.3L1449.7 754.2L1445.7 762.4L1441.7 771L1437.7 780.1L1433.7 789.7L1429.7 799.7L1425.7 810.3L1421.7 821.4L1417.7 832.9L1413.7 844.9L1409.7 857.3L1405.7 870L1401.7 883.1L1397.7 896.4L1393.7 910L1389.7 923.7L1385.7 937.6L1381.7 951.7L1377.7 965.8L1373.7 979.9L1369.7 994.1L1365.7 1008.2L1361.7 1022.2L1357.7 1036.1L1353.7 1049.8L1349.7 1063.4L1345.7 1076.7L1341.7 1089.7L1337.7 1102.4L1333.7 1114.7L1329.7 1126.6L1325.7 1138.1L1321.7 1149.1L1317.7 1159.6L1313.7 1169.6L1309.7 1178.9L1305.7 1187.6L1301.7 1195.6L1297.7 1202.9L1293.7 1209.5L1289.7 1215.2L1285.7 1220.2L1281.7 1224.2L1277.7 1227.3L1273.7 1229.5L1269.7 1230.6L1265.7 1230.8L1261.7 1230.4L1257.7 1228.9L1253.7 1226.4L1249.7 1223L1245.7 1218.7L1241.7 1213.5L1237.7 1207.5L1233.7 1200.7L1229.7 1193.1L1225.7 1184.9L1221.7 1176L1217.7 1166.4L1213.7 1156.3L1209.7 1145.6L1205.7 1134.4L1201.7 1122.8L1197.7 1110.7L1193.7 1098.3L1189.7 1085.5L1185.7 1072.4L1181.7 1059L1177.7 1045.4L1173.7 1031.6L1169.7 1017.6L1165.7 1003.6L1161.7 989.5L1157.7 975.3L1153.7 961.2L1149.7 947.1L1145.7 933.1L1141.7 919.2L1137.7 905.5L1133.7 892L1129.7 878.8L1125.7 865.8L1121.7 853.2L1117.7 841L1113.7 829.1L1109.7 817.7L1105.7 806.8L1101.7 796.4L1097.7 786.5L1093.7 777.1L1089.7 768.2L1085.7 759.7L1081.7 751.6L1077.7 743.9L1073.7 736.6L1069.7 729.7L1065.7 723.1L1061.7 716.8L1057.7 710.9L1053.7 705.3L1049.7 699.9L1045.7 694.7L1041.7 689.9L1037.7 685.2L1033.7 680.7L1029.7 676.4L1025.7 672.2L1021.7 668.2L1017.7 664.3L1013.7 660.5L1009.7 656.7L1005.7 653.1L1001.7 649.4L997.7 645.8L993.7 642.2L989.7 638.6L985.7 634.9L981.7 631.2L977.7 627.4L973.7 623.5L969.7 619.5L965.7 615.4L961.7 611.1L957.7 606.7L953.7 602L949.7 597.2L945.7 592.1L941.7 586.8L937.7 581.3L933.7 575.5L929.7 569.6L925.7 563.5L921.7 557.3L917.7 550.9L913.7 544.4L909.7 537.8L905.7 531.2L901.7 524.5L897.7 517.7L893.7 510.9L889.7 504.1L885.7 497.3L881.7 490.6L877.7 483.9L873.7 477.2L869.7 470.6L865.7 464.2L861.7 457.8L857.7 451.6L853.7 445.5L849.7 439.6L845.7 433.8L841.7 428.3L837.7 423L833.7 417.9L829.7 413.1L825.7 408.5L821.7 404.3L817.7 400.3L813.7 396.7L809.7 393.4L805.7 390.5L801.7 388L797.7 385.8L793.7 384.1L789.7 382.8L785.7 381.9L781.7 381.5L777.7 381.6L773.7 382.2L769.7 383.2L765.7 384.5L761.7 386.2L757.7 388.1L753.7 390.4L749.7 393L745.7 395.8L741.7 398.8L737.7 402.1L733.7 405.6L729.7 409.2L725.7 413.1L721.7 417L717.7 421.1L713.7 425.2L709.7 429.5L705.7 433.8L701.7 438.1L697.7 442.5L693.7 446.9L689.7 451.2L685.7 455.5L681.7 459.8L677.7 463.9L673.7 468L669.7 471.9L665.7 475.7L661.7 479.3L657.7 482.8L653.7 486.1L649.7 489.1L645.7 491.9L641.7 494.4L637.7 496.7L633.7 498.6L629.7 500.3L625.7 501.6L621.7 502.5L617.7 503.2L613.7 503.6L609.7 503.7L605.7 503.6L601.7 503.3L597.7 502.8L593.7 502L589.7 501L585.7 499.8L581.7 498.5L577.7 497L573.7 495.3L569.7 493.5L565.7 491.6L561.7 489.6L557.7 487.5L553.7 485.4L549.7 483.1L545.7 480.9L541.7 478.6L537.7 476.3L533.7 474L529.7 471.7L525.7 469.4L521.7 467.2L517.7 465.1L513.7 463L509.7 461.1L505.7 459.2L501.7 457.5L497.7 455.9L493.7 454.5L489.7 453.3L485.7 452.2L481.7 451.3L477.7 450.7L473.7 450.2L469.7 450.1L465.7 450.3L461.7 450.7L457.7 451.4L453.7 452.3L449.7 453.5L445.7 454.9L441.7 456.5L437.7 458.4L433.7 460.4L429.7 462.7L425.7 465.2L421.7 467.8L417.7 470.6L413.7 473.6L409.7 476.8L405.7 480.1L401.7 483.6L397.7 487.3L393.7 491L389.7 495L385.7 499L381.7 503.2L377.7 507.5L373.7 511.9L369.7 516.4L365.7 521L361.7 525.7L357.7 530.4L353.7 535.3L349.7 540.2L345.7 545.2L341.7 550.2L337.7 555.3L333.7 560.4L329.7 565.6L325.7 570.8L321.7 576L317.7 581.3L313.7 586.5L309.6 589.6Z" fill="#000" stroke="none"/>
<path d="M310.5 564.1L316.02 581.1L333.9 581.1L319.44 591.6L324.96 608.6L310.5 598.1L296.04 608.6L301.56 591.6L287.1 581.1L304.98 581.1Z" fill="#fff" stroke="#000" stroke-width="3" stroke-linejoin="round"/>
<path d="M469.8 424.6L475.32 441.6L493.2 441.6L478.74 452.1L484.26 469.1L469.8 458.6L455.34 469.1L460.86 452.1L446.4 441.6L464.28 441.6Z" fill="#fff" stroke="#000" stroke-width="3" stroke-linejoin="round"/>
<path d="M629.1 474.7L634.62 491.7L652.5 491.7L638.04 502.2L643.56 519.2L629.1 508.7L614.64 519.2L620.16 502.2L605.7 491.7L623.58 491.7Z" fill="#fff" stroke="#000" stroke-width="3" stroke-linejoin="round"/>
<path d="M788.4 356.8L793.92 373.8L811.8 373.8L797.34 384.3L802.86 401.3L788.4 390.8L773.94 401.3L779.46 384.3L765 373.8L782.88 373.8Z" fill="#fff" stroke="#000" stroke-width="3" stroke-linejoin="round"/>
<path d="M947.7 568.2L953.22 585.2L971.1 585.2L956.64 595.7L962.16 612.7L947.7 602.2L933.24 612.7L938.76 595.7L924.3 585.2L942.18 585.2Z" fill="#fff" stroke="#000" stroke-width="3" stroke-linejoin="round"/>
<path d="M1107 782.7L1112.52 799.7L1130.4 799.7L1115.94 810.2L1121.46 827.2L1107 816.7L1092.54 827.2L1098.06 810.2L1083.6 799.7L1101.48 799.7Z" fill="#fff" stroke="#000" stroke-width="3" stroke-linejoin="round"/>
<path d="M1266.3 1205.4L1271.82 1222.4L1289.7 1222.4L1275.24 1232.9L1280.76 1249.9L1266.3 1239.4L1251.84 1249.9L1257.36 1232.9L1242.9 1222.4L1260.78 1222.4Z" fill="#fff" stroke="#000" stroke-width="3" stroke-linejoin="round"/>
<path d="M1425.6 782.7L1431.12 799.7L1449 799.7L1434.54 810.2L1440.06 827.2L1425.6 816.7L1411.14 827.2L1416.66 810.2L1402.2 799.7L1420.08 799.7Z" fill="#fff" stroke="#000" stroke-width="3" stroke-linejoin="round"/>
<path d="M1584.9 568.2L1590.42 585.2L1608.3 585.2L1593.84 595.7L1599.36 612.7L1584.9 602.2L1570.44 612.7L1575.96 595.7L1561.5 585.2L1579.38 585.2Z" fill="#fff" stroke="#000" stroke-width="3" stroke-linejoin="round"/>
<path d="M1744.2 356.8L1749.72 373.8L1767.6 373.8L1753.14 384.3L1758.66 401.3L1744.2 390.8L1729.74 401.3L1735.26 384.3L1720.8 373.8L1738.68 373.8Z" fill="#fff" stroke="#000" stroke-width="3" stroke-linejoin="round"/>
<path d="M1903.5 474.7L1909.02 491.7L1926.9 491.7L1912.44 502.2L1917.96 519.2L1903.5 508.7L1889.04 519.2L1894.56 502.2L1880.1 491.7L1897.98 491.7Z" fill="#fff" stroke="#000" stroke-width="3" stroke-linejoin="round"/>
<path d="M2062.8 424.6L2068.32 441.6L2086.2 441.6L2071.74 452.1L2077.26 469.1L2062.8 458.6L2048.34 469.1L2053.86 452.1L2039.4 441.6L2057.28 441.6Z" fill="#fff" stroke="#000" stroke-width="3" stroke-linejoin="round"/>
<path d="M2222.1 564.1L2227.62 581.1L2245.5 581.1L2231.04 591.6L2236.56 608.6L2222.1 598.1L2207.64 608.6L2213.16 591.6L2198.7 581.1L2216.58 581.1Z" fill="#fff" stroke="#000" stroke-width="3" stroke-linejoin="round"/>
</g>
<g><path d="M309.6 587.8L313.7 585.6L317.7 583.3L321.7 581L325.7 578.7L329.7 576.4L333.7 574.1L337.7 571.8L341.7 569.5L345.7 567.2L349.7 564.9L353.7 562.5L357.7 560.2L361.7 557.8L365.7 555.5L369.7 553.1L373.7 550.7L377.7 548.3L381.7 545.9L385.7 543.5L389.7 541.1L393.7 538.6L397.7 536.1L401.7 533.6L405.7 531.1L409.7 528.6L413.7 526L417.7 523.5L421.7 520.9L425.7 518.2L429.7 515.6L433.7 512.9L437.7 510.2L441.7 507.5L445.7 504.8L449.7 502L453.7 499.2L457.7 496.3L461.7 493.5L465.7 490.6L469.7 487.6L473.7 484.7L477.7 481.7L481.7 478.7L485.7 475.6L489.7 472.5L493.7 469.4L497.7 466.3L501.7 463.1L505.7 459.9L509.7 456.7L513.7 453.5L517.7 450.2L521.7 446.9L525.7 443.6L529.7 440.3L533.7 437L537.7 433.7L541.7 430.3L545.7 426.9L549.7 423.6L553.7 420.2L557.7 416.8L561.7 413.3L565.7 409.9L569.7 406.5L573.7 403.1L577.7 399.6L581.7 396.2L585.7 392.7L589.7 389.3L593.7 385.8L597.7 382.4L601.7 378.9L605.7 375.5L609.7 372.1L613.7 368.6L617.7 365.2L621.7 361.8L625.7 358.4L629.7 355L633.7 351.6L637.7 348.2L641.7 344.8L645.7 341.5L649.7 338.2L653.7 334.9L657.7 331.7L661.7 328.6L665.7 325.4L669.7 322.4L673.7 319.4L677.7 316.4L681.7 313.6L685.7 310.8L689.7 308.1L693.7 305.4L697.7 302.9L701.7 300.5L705.7 298.1L709.7 295.9L713.7 293.8L717.7 291.8L721.7 289.9L725.7 288.1L729.7 286.5L733.7 285L737.7 283.7L741.7 282.5L745.7 281.4L749.7 280.5L753.7 279.8L757.7 279.2L761.7 278.8L765.7 278.6L769.7 278.5L773.7 278.6L777.7 278.8L781.7 279.3L785.7 279.9L789.7 280.7L793.7 281.8L797.7 283L801.7 284.5L805.7 286.1L809.7 288L813.7 290L817.7 292.2L821.7 294.6L825.7 297.2L829.7 299.9L833.7 302.8L837.7 305.9L841.7 309.1L845.7 312.5L849.7 316L853.7 319.7L857.7 323.5L861.7 327.5L865.7 331.6L869.7 335.8L873.7 340.2L877.7 344.7L881.7 349.3L885.7 354L889.7 358.9L893.7 363.8L897.7 368.9L901.7 374L905.7 379.3L909.7 384.6L913.7 390L917.7 395.6L921.7 401.2L925.7 406.8L929.7 412.6L933.7 418.4L937.7 424.3L941.7 430.3L945.7 436.3L949.7 442.3L953.7 448.4L957.7 454.6L961.7 460.9L965.7 467.2L969.7 473.6L973.7 480.1L977.7 486.7L981.7 493.4L985.7 500.3L989.7 507.2L993.7 514.3L997.7 521.6L1001.7 529L1005.7 536.5L1009.7 544.3L1013.7 552.2L1017.7 560.3L1021.7 568.6L1025.7 577L1029.7 585.7L1033.7 594.7L1037.7 603.8L1041.7 613.2L1045.7 622.8L1049.7 632.7L1053.7 642.8L1057.7 653.2L1061.7 663.9L1065.7 674.9L1069.7 686.1L1073.7 697.7L1077.7 709.6L1081.7 721.8L1085.7 734.3L1089.7 747.1L1093.7 760.3L1097.7 773.9L1101.7 787.8L1105.7 802L1109.7 816.7L1113.7 831.7L1117.7 847L1121.7 862.7L1125.7 878.5L1129.7 894.6L1133.7 910.9L1137.7 927.3L1141.7 943.8L1145.7 960.4L1149.7 976.9L1153.7 993.5L1157.7 1010L1161.7 1026.5L1165.7 1042.8L1169.7 1059L1173.7 1074.9L1177.7 1090.6L1181.7 1106.1L1185.7 1121.2L1189.7 1136L1193.7 1150.3L1197.7 1164.3L1201.7 1177.8L1205.7 1190.8L1209.7 1203.2L1213.7 1215.1L1217.7 1226.4L1221.7 1237L1225.7 1246.9L1229.7 1256.1L1233.7 1264.6L1237.7 1272.2L1241.7 1279L1245.7 1284.9L1249.7 1289.9L1253.7 1293.9L1257.7 1297L1261.7 1299L1265.7 1300L1269.7 1299.4L1273.7 1297.8L1277.7 1295L1281.7 1291.3L1285.7 1286.6L1289.7 1281L1293.7 1274.5L1297.7 1267.1L1301.7 1258.9L1305.7 1250L1309.7 1240.3L1313.7 1229.9L1317.7 1218.9L1321.7 1207.2L1325.7 1194.9L1329.7 1182.1L1333.7 1168.7L1337.7 1154.9L1341.7 1140.7L1345.7 1126L1349.7 1111L1353.7 1095.7L1357.7 1080L1361.7 1064.2L1365.7 1048.1L1369.7 1031.8L1373.7 1015.4L1377.7 998.9L1381.7 982.3L1385.7 965.7L1389.7 949.2L1393.7 932.6L1397.7 916.2L1401.7 899.9L1405.7 883.7L1409.7 867.8L1413.7 852.1L1417.7 836.6L1421.7 821.5L1425.7 806.8L1429.7 792.4L1433.7 778.3L1437.7 764.7L1441.7 751.4L1445.7 738.4L1449.7 725.8L1453.7 713.5L1457.7 701.5L1461.7 689.9L1465.7 678.5L1469.7 667.4L1473.7 656.7L1477.7 646.2L1481.7 636L1485.7 626L1489.7 616.3L1493.7 606.8L1497.7 597.6L1501.7 588.6L1505.7 579.8L1509.7 571.3L1513.7 562.9L1517.7 554.8L1521.7 546.8L1525.7 539L1529.7 531.4L1533.7 524L1537.7 516.7L1541.7 509.5L1545.7 502.5L1549.7 495.6L1553.7 488.9L1557.7 482.2L1561.7 475.7L1565.7 469.3L1569.7 462.9L1573.7 456.6L1577.7 450.4L1581.7 444.3L1585.7 438.2L1589.7 432.2L1593.7 426.2L1597.7 420.3L1601.7 414.5L1605.7 408.7L1609.7 403L1613.7 397.4L1617.7 391.8L1621.7 386.4L1625.7 381L1629.7 375.7L1633.7 370.5L1637.7 365.4L1641.7 360.5L1645.7 355.6L1649.7 350.8L1653.7 346.2L1657.7 341.6L1661.7 337.2L1665.7 333L1669.7 328.8L1673.7 324.8L1677.7 320.9L1681.7 317.2L1685.7 313.6L1689.7 310.2L1693.7 306.9L1697.7 303.8L1701.7 300.8L1705.7 298L1709.7 295.4L1713.7 293L1717.7 290.7L1721.7 288.6L1725.7 286.7L1729.7 285L1733.7 283.5L1737.7 282.2L1741.7 281.1L1745.7 280.2L1749.7 279.4L1753.7 278.9L1757.7 278.6L1761.7 278.5L1765.7 278.5L1769.7 278.7L1773.7 279L1777.7 279.6L1781.7 280.2L1785.7 281.1L1789.7 282.1L1793.7 283.3L1797.7 284.6L1801.7 286L1805.7 287.6L1809.7 289.3L1813.7 291.1L1817.7 293.1L1821.7 295.2L1825.7 297.4L1829.7 299.7L1833.7 302.1L1837.7 304.6L1841.7 307.2L1845.7 309.9L1849.7 312.6L1853.7 315.5L1857.7 318.4L1861.7 321.4L1865.7 324.4L1869.7 327.5L1873.7 330.7L1877.7 333.9L1881.7 337.1L1885.7 340.4L1889.7 343.7L1893.7 347.1L1897.7 350.5L1901.7 353.9L1905.7 357.3L1909.7 360.7L1913.7 364.1L1917.7 367.5L1921.7 370.9L1925.7 374.4L1929.7 377.8L1933.7 381.3L1937.7 384.7L1941.7 388.2L1945.7 391.6L1949.7 395.1L1953.7 398.5L1957.7 401.9L1961.7 405.4L1965.7 408.8L1969.7 412.2L1973.7 415.7L1977.7 419.1L1981.7 422.5L1985.7 425.8L1989.7 429.2L1993.7 432.6L1997.7 435.9L2001.7 439.3L2005.7 442.6L2009.7 445.9L2013.7 449.2L2017.7 452.4L2021.7 455.7L2025.7 458.9L2029.7 462.1L2033.7 465.2L2037.7 468.4L2041.7 471.5L2045.7 474.6L2049.7 477.7L2053.7 480.7L2057.7 483.7L2061.7 486.7L2065.7 489.6L2069.7 492.5L2073.7 495.4L2077.7 498.2L2081.7 501.1L2085.7 503.9L2089.7 506.6L2093.7 509.3L2097.7 512L2101.7 514.7L2105.7 517.4L2109.7 520L2113.7 522.6L2117.7 525.2L2121.7 527.8L2125.7 530.3L2129.7 532.8L2133.7 535.3L2137.7 537.8L2141.7 540.3L2145.7 542.7L2149.7 545.1L2153.7 547.6L2157.7 550L2161.7 552.3L2165.7 554.7L2169.7 557.1L2173.7 559.4L2177.7 561.8L2181.7 564.1L2185.7 566.4L2189.7 568.8L2193.7 571.1L2197.7 573.4L2201.7 575.7L2205.7 578L2209.7 580.2L2213.7 582.5L2217.7 584.8L2221.7 587.1L2223 587.9L2223 589.6L2221.7 589.6L2217.7 587.5L2213.7 585.2L2209.7 582.9L2205.7 580.6L2201.7 578.3L2197.7 576L2193.7 573.7L2189.7 571.4L2185.7 569.1L2181.7 566.8L2177.7 564.5L2173.7 562.1L2169.7 559.8L2165.7 557.4L2161.7 555.1L2157.7 552.7L2153.7 550.3L2149.7 547.9L2145.7 545.4L2141.7 543L2137.7 540.5L2133.7 538.1L2129.7 535.6L2125.7 533.1L2121.7 530.5L2117.7 528L2113.7 525.4L2109.7 522.8L2105.7 520.2L2101.7 517.6L2097.7 514.9L2093.7 512.2L2089.7 509.5L2085.7 506.7L2081.7 504L2077.7 501.1L2073.7 498.3L2069.7 495.5L2065.7 492.6L2061.7 489.6L2057.7 486.7L2053.7 483.7L2049.7 480.7L2045.7 477.6L2041.7 474.5L2037.7 471.4L2033.7 468.3L2029.7 465.1L2025.7 461.9L2021.7 458.7L2017.7 455.5L2013.7 452.2L2009.7 449L2005.7 445.7L2001.7 442.4L1997.7 439L1993.7 435.7L1989.7 432.3L1985.7 429L1981.7 425.6L1977.7 422.2L1973.7 418.8L1969.7 415.4L1965.7 412L1961.7 408.5L1957.7 405.1L1953.7 401.7L1949.7 398.2L1945.7 394.8L1941.7 391.3L1937.7 387.9L1933.7 384.4L1929.7 381L1925.7 377.5L1921.7 374.1L1917.7 370.7L1913.7 367.2L1909.7 363.8L1905.7 360.4L1901.7 357L1897.7 353.6L1893.7 350.2L1889.7 346.9L1885.7 343.5L1881.7 340.2L1877.7 337L1873.7 333.7L1869.7 330.6L1865.7 327.4L1861.7 324.4L1857.7 321.4L1853.7 318.4L1849.7 315.5L1845.7 312.7L1841.7 310L1837.7 307.4L1833.7 304.8L1829.7 302.4L1825.7 300.1L1821.7 297.8L1817.7 295.7L1813.7 293.7L1809.7 291.8L1805.7 290L1801.7 288.4L1797.7 286.9L1793.7 285.5L1789.7 284.3L1785.7 283.2L1781.7 282.3L1777.7 281.5L1773.7 280.9L1769.7 280.5L1765.7 280.3L1761.7 280.2L1757.7 280.4L1753.7 280.8L1749.7 281.4L1745.7 282.2L1741.7 283.2L1737.7 284.4L1733.7 285.8L1729.7 287.4L1725.7 289.2L1721.7 291.2L1717.7 293.3L1713.7 295.7L1709.7 298.2L1705.7 300.9L1701.7 303.8L1697.7 306.8L1693.7 310L1689.7 313.3L1685.7 316.8L1681.7 320.5L1677.7 324.2L1673.7 328.2L1669.7 332.3L1665.7 336.5L1661.7 340.8L1657.7 345.2L1653.7 349.8L1649.7 354.5L1645.7 359.3L1641.7 364.3L1637.7 369.3L1633.7 374.4L1629.7 379.6L1625.7 385L1621.7 390.4L1617.7 395.9L1613.7 401.5L1609.7 407.1L1605.7 412.9L1601.7 418.7L1597.7 424.5L1593.7 430.5L1589.7 436.5L1585.7 442.5L1581.7 448.6L1577.7 454.8L1573.7 461L1569.7 467.3L1565.7 473.7L1561.7 480.2L1557.7 486.7L1553.7 493.4L1549.7 500.2L1545.7 507.2L1541.7 514.2L1537.7 521.5L1533.7 528.8L1529.7 536.3L1525.7 544L1521.7 551.9L1517.7 559.9L1513.7 568.2L1509.7 576.6L1505.7 585.2L1501.7 594.1L1497.7 603.2L1493.7 612.5L1489.7 622.1L1485.7 631.9L1481.7 642L1477.7 652.3L1473.7 662.9L1469.7 673.8L1465.7 685L1461.7 696.5L1457.7 708.3L1453.7 720.4L1449.7 732.8L1445.7 745.6L1441.7 758.7L1437.7 772.1L1433.7 786L1429.7 800.1L1425.7 814.7L1421.7 829.6L1417.7 844.9L1413.7 860.4L1409.7 876.2L1405.7 892.3L1401.7 908.5L1397.7 924.9L1393.7 941.4L1389.7 957.9L1385.7 974.5L1381.7 991.1L1377.7 1007.6L1373.7 1024.1L1369.7 1040.4L1365.7 1056.6L1361.7 1072.6L1357.7 1088.4L1353.7 1103.9L1349.7 1119.1L1345.7 1134L1341.7 1148.5L1337.7 1162.6L1333.7 1176.2L1329.7 1189.3L1325.7 1201.9L1321.7 1213.9L1317.7 1225.3L1313.7 1236.1L1309.7 1246.2L1305.7 1255.6L1301.7 1264.2L1297.7 1272.1L1293.7 1279.1L1289.7 1285.2L1285.7 1290.4L1281.7 1294.7L1277.7 1298L1273.7 1300.3L1269.7 1301.5L1265.7 1301.8L1261.7 1301.3L1257.7 1299.7L1253.7 1297L1249.7 1293.4L1245.7 1288.8L1241.7 1283.3L1237.7 1276.9L1233.7 1269.6L1229.7 1261.5L1225.7 1252.6L1221.7 1243L1217.7 1232.7L1213.7 1221.7L1209.7 1210.1L1205.7 1197.9L1201.7 1185.1L1197.7 1171.8L1193.7 1158L1189.7 1143.8L1185.7 1129.2L1181.7 1114.2L1177.7 1098.9L1173.7 1083.3L1169.7 1067.5L1165.7 1051.4L1161.7 1035.1L1157.7 1018.7L1153.7 1002.3L1149.7 985.7L1145.7 969.1L1141.7 952.5L1137.7 936L1133.7 919.5L1129.7 903.2L1125.7 887L1121.7 871.1L1117.7 855.3L1113.7 839.9L1109.7 824.7L1105.7 809.9L1101.7 795.5L1097.7 781.4L1093.7 767.7L1089.7 754.4L1085.7 741.4L1081.7 728.7L1077.7 716.4L1073.7 704.4L1069.7 692.7L1065.7 681.3L1061.7 670.2L1057.7 659.4L1053.7 648.9L1049.7 638.7L1045.7 628.7L1041.7 618.9L1037.7 609.5L1033.7 600.2L1029.7 591.2L1025.7 582.4L1021.7 573.8L1017.7 565.5L1013.7 557.3L1009.7 549.3L1005.7 541.5L1001.7 533.9L997.7 526.4L993.7 519.1L989.7 511.9L985.7 504.9L981.7 498L977.7 491.2L973.7 484.6L969.7 478L965.7 471.6L961.7 465.2L957.7 459L953.7 452.8L949.7 446.6L945.7 440.5L941.7 434.5L937.7 428.5L933.7 422.6L929.7 416.8L925.7 411L921.7 405.3L917.7 399.6L913.7 394.1L909.7 388.6L905.7 383.2L901.7 377.9L897.7 372.7L893.7 367.6L889.7 362.6L885.7 357.8L881.7 353L877.7 348.3L873.7 343.8L869.7 339.4L865.7 335.1L861.7 330.9L857.7 326.9L853.7 323L849.7 319.3L845.7 315.7L841.7 312.2L837.7 308.9L833.7 305.8L829.7 302.8L825.7 300L821.7 297.4L817.7 294.9L813.7 292.6L809.7 290.5L805.7 288.6L801.7 286.9L797.7 285.3L793.7 284L789.7 282.9L785.7 281.9L781.7 281.2L777.7 280.7L773.7 280.4L769.7 280.2L765.7 280.3L761.7 280.6L757.7 281.1L753.7 281.8L749.7 282.6L745.7 283.5L741.7 284.7L737.7 285.9L733.7 287.3L729.7 288.9L725.7 290.6L721.7 292.4L717.7 294.3L713.7 296.4L709.7 298.5L705.7 300.8L701.7 303.2L697.7 305.7L693.7 308.2L689.7 310.9L685.7 313.6L681.7 316.5L677.7 319.4L673.7 322.3L669.7 325.4L665.7 328.5L661.7 331.6L657.7 334.8L653.7 338L649.7 341.3L645.7 344.6L641.7 348L637.7 351.3L633.7 354.7L629.7 358.1L625.7 361.5L621.7 364.9L617.7 368.4L613.7 371.8L609.7 375.2L605.7 378.7L601.7 382.1L597.7 385.6L593.7 389L589.7 392.5L585.7 395.9L581.7 399.3L577.7 402.8L573.7 406.2L569.7 409.7L565.7 413.1L561.7 416.5L557.7 419.9L553.7 423.3L549.7 426.7L545.7 430.1L541.7 433.4L537.7 436.8L533.7 440.1L529.7 443.4L525.7 446.8L521.7 450L517.7 453.3L513.7 456.5L509.7 459.8L505.7 463L501.7 466.1L497.7 469.3L493.7 472.4L489.7 475.5L485.7 478.6L481.7 481.6L477.7 484.7L473.7 487.6L469.7 490.6L465.7 493.5L461.7 496.4L457.7 499.2L453.7 502.1L449.7 504.9L445.7 507.6L441.7 510.4L437.7 513.1L433.7 515.8L429.7 518.4L425.7 521.1L421.7 523.7L417.7 526.2L413.7 528.8L409.7 531.4L405.7 533.9L401.7 536.4L397.7 538.9L393.7 541.3L389.7 543.8L385.7 546.2L381.7 548.7L377.7 551.1L373.7 553.4L369.7 555.8L365.7 558.2L361.7 560.5L357.7 562.9L353.7 565.2L349.7 567.6L345.7 569.9L341.7 572.2L337.7 574.5L333.7 576.8L329.7 579.1L325.7 581.4L321.7 583.7L317.7 586L313.7 588.2L309.6 589.6Z" fill="#000" stroke="none"/>
<path d="M310.5 562.2L337 588.7L310.5 615.2L284 588.7Z" fill="#000" stroke="#000" stroke-width="3" stroke-linejoin="miter"/>
<path d="M469.8 462.5L496.3 489L469.8 515.5L443.3 489Z" fill="#000" stroke="#000" stroke-width="3" stroke-linejoin="miter"/>
<path d="M629.1 330.5L655.6 357L629.1 383.5L602.6 357Z" fill="#000" stroke="#000" stroke-width="3" stroke-linejoin="miter"/>
<path d="M788.4 255L814.9 281.5L788.4 308L761.9 281.5Z" fill="#000" stroke="#000" stroke-width="3" stroke-linejoin="miter"/>
<path d="M947.7 415L974.2 441.5L947.7 468L921.2 441.5Z" fill="#000" stroke="#000" stroke-width="3" stroke-linejoin="miter"/>
<path d="M1107 784.4L1133.5 810.9L1107 837.4L1080.5 810.9Z" fill="#000" stroke="#000" stroke-width="3" stroke-linejoin="miter"/>
<path d="M1266.3 1274.4L1292.8 1300.9L1266.3 1327.4L1239.8 1300.9Z" fill="#000" stroke="#000" stroke-width="3" stroke-linejoin="miter"/>
<path d="M1425.6 784.4L1452.1 810.9L1425.6 837.4L1399.1 810.9Z" fill="#000" stroke="#000" stroke-width="3" stroke-linejoin="miter"/>
<path d="M1584.9 415L1611.4 441.5L1584.9 468L1558.4 441.5Z" fill="#000" stroke="#000" stroke-width="3" stroke-linejoin="miter"/>
<path d="M1744.2 255L1770.7 281.5L1744.2 308L1717.7 281.5Z" fill="#000" stroke="#000" stroke-width="3" stroke-linejoin="miter"/>
<path d="M1903.5 330.5L1930 357L1903.5 383.5L1877 357Z" fill="#000" stroke="#000" stroke-width="3" stroke-linejoin="miter"/>
<path d="M2062.8 462.5L2089.3 489L2062.8 515.5L2036.3 489Z" fill="#000" stroke="#000" stroke-width="3" stroke-linejoin="miter"/>
<path d="M2222.1 562.2L2248.6 588.7L2222.1 615.2L2195.6 588.7Z" fill="#000" stroke="#000" stroke-width="3" stroke-linejoin="miter"/>
</g>
<g><path d="M309.6 587.8L313.7 584.6L317.7 581.4L321.7 578.1L325.7 574.9L329.7 571.7L333.7 568.4L337.7 565.2L341.7 561.9L345.7 558.7L349.7 555.5L353.7 552.2L357.7 549L361.7 545.7L365.7 542.5L369.7 539.2L373.7 536L377.7 532.7L381.7 529.5L385.7 526.2L389.7 523L393.7 519.7L397.7 516.4L401.7 513.2L405.7 509.9L409.7 506.6L413.7 503.3L417.7 500.1L421.7 496.8L425.7 493.5L429.7 490.2L433.7 486.9L437.7 483.6L441.7 480.3L445.7 477L449.7 473.7L453.7 470.4L457.7 467.1L461.7 463.7L465.7 460.4L469.7 457.1L473.7 453.7L477.7 450.4L481.7 447L485.7 443.7L489.7 440.3L493.7 437L497.7 433.6L501.7 430.2L505.7 426.8L509.7 423.4L513.7 420L517.7 416.6L521.7 413.2L525.7 409.8L529.7 406.4L533.7 403L537.7 399.5L541.7 396.1L545.7 392.6L549.7 389.2L553.7 385.7L557.7 382.3L561.7 378.8L565.7 375.3L569.7 371.8L573.7 368.3L577.7 364.8L581.7 361.3L585.7 357.7L589.7 354.2L593.7 350.7L597.7 347.1L601.7 343.6L605.7 340L609.7 336.4L613.7 332.8L617.7 329.2L621.7 325.6L625.7 322L629.7 318.4L633.7 314.7L637.7 311.1L641.7 307.5L645.7 303.9L649.7 300.3L653.7 296.7L657.7 293.1L661.7 289.6L665.7 286.1L669.7 282.7L673.7 279.3L677.7 276L681.7 272.7L685.7 269.5L689.7 266.4L693.7 263.4L697.7 260.4L701.7 257.5L705.7 254.8L709.7 252.1L713.7 249.6L717.7 247.1L721.7 244.8L725.7 242.6L729.7 240.6L733.7 238.7L737.7 236.9L741.7 235.3L745.7 233.9L749.7 232.6L753.7 231.4L757.7 230.5L761.7 229.7L765.7 229.2L769.7 228.8L773.7 228.6L777.7 228.6L781.7 228.7L785.7 229L789.7 229.6L793.7 230.4L797.7 231.4L801.7 232.6L805.7 234.1L809.7 235.7L813.7 237.6L817.7 239.6L821.7 241.8L825.7 244.3L829.7 246.9L833.7 249.6L837.7 252.6L841.7 255.7L845.7 259L849.7 262.4L853.7 266L857.7 269.8L861.7 273.7L865.7 277.7L869.7 281.9L873.7 286.2L877.7 290.6L881.7 295.1L885.7 299.8L889.7 304.6L893.7 309.4L897.7 314.4L901.7 319.5L905.7 324.7L909.7 329.9L913.7 335.3L917.7 340.7L921.7 346.2L925.7 351.8L929.7 357.4L933.7 363.1L937.7 368.8L941.7 374.6L945.7 380.5L949.7 386.4L953.7 392.3L957.7 398.3L961.7 404.3L965.7 410.4L969.7 416.6L973.7 422.9L977.7 429.2L981.7 435.7L985.7 442.2L989.7 448.9L993.7 455.7L997.7 462.7L1001.7 469.8L1005.7 477L1009.7 484.4L1013.7 492L1017.7 499.8L1021.7 507.7L1025.7 515.9L1029.7 524.2L1033.7 532.8L1037.7 541.6L1041.7 550.6L1045.7 559.9L1049.7 569.4L1053.7 579.2L1057.7 589.3L1061.7 599.6L1065.7 610.2L1069.7 621.1L1073.7 632.3L1077.7 643.8L1081.7 655.7L1085.7 667.8L1089.7 680.3L1093.7 693.2L1097.7 706.4L1101.7 720L1105.7 733.9L1109.7 748.2L1113.7 762.9L1117.7 778L1121.7 793.3L1125.7 808.9L1129.7 824.6L1133.7 840.6L1137.7 856.7L1141.7 873L1145.7 889.3L1149.7 905.6L1153.7 921.9L1157.7 938.2L1161.7 954.4L1165.7 970.5L1169.7 986.4L1173.7 1002.1L1177.7 1017.6L1181.7 1032.9L1185.7 1047.8L1189.7 1062.4L1193.7 1076.6L1197.7 1090.4L1201.7 1103.7L1205.7 1116.6L1209.7 1128.9L1213.7 1140.6L1217.7 1151.8L1221.7 1162.3L1225.7 1172.1L1229.7 1181.2L1233.7 1189.5L1237.7 1197.1L1241.7 1203.8L1245.7 1209.6L1249.7 1214.6L1253.7 1218.6L1257.7 1221.6L1261.7 1223.6L1265.7 1224.6L1269.7 1224L1273.7 1222.4L1277.7 1219.7L1281.7 1216L1285.7 1211.3L1289.7 1205.8L1293.7 1199.3L1297.7 1192.1L1301.7 1184L1305.7 1175.1L1309.7 1165.5L1313.7 1155.2L1317.7 1144.3L1321.7 1132.8L1325.7 1120.6L1329.7 1108L1333.7 1094.8L1337.7 1081.1L1341.7 1067.1L1345.7 1052.6L1349.7 1037.8L1353.7 1022.6L1357.7 1007.2L1361.7 991.5L1365.7 975.7L1369.7 959.6L1373.7 943.5L1377.7 927.2L1381.7 910.9L1385.7 894.6L1389.7 878.3L1393.7 862L1397.7 845.8L1401.7 829.8L1405.7 814L1409.7 798.3L1413.7 782.9L1417.7 767.8L1421.7 753L1425.7 738.5L1429.7 724.5L1433.7 710.8L1437.7 697.5L1441.7 684.5L1445.7 671.9L1449.7 659.6L1453.7 647.6L1457.7 636L1461.7 624.7L1465.7 613.7L1469.7 603L1473.7 592.6L1477.7 582.5L1481.7 572.6L1485.7 563L1489.7 553.6L1493.7 544.5L1497.7 535.7L1501.7 527L1505.7 518.6L1509.7 510.4L1513.7 502.3L1517.7 494.5L1521.7 486.9L1525.7 479.4L1529.7 472.1L1533.7 465L1537.7 458L1541.7 451.1L1545.7 444.4L1549.7 437.8L1553.7 431.3L1557.7 424.9L1561.7 418.6L1565.7 412.4L1569.7 406.3L1573.7 400.2L1577.7 394.2L1581.7 388.3L1585.7 382.4L1589.7 376.5L1593.7 370.7L1597.7 365L1601.7 359.2L1605.7 353.6L1609.7 348L1613.7 342.5L1617.7 337L1621.7 331.7L1625.7 326.4L1629.7 321.2L1633.7 316.1L1637.7 311.1L1641.7 306.1L1645.7 301.3L1649.7 296.6L1653.7 292.1L1657.7 287.6L1661.7 283.3L1665.7 279L1669.7 275L1673.7 271L1677.7 267.2L1681.7 263.6L1685.7 260.1L1689.7 256.8L1693.7 253.6L1697.7 250.6L1701.7 247.8L1705.7 245.1L1709.7 242.6L1713.7 240.3L1717.7 238.2L1721.7 236.3L1725.7 234.6L1729.7 233.1L1733.7 231.8L1737.7 230.7L1741.7 229.9L1745.7 229.2L1749.7 228.8L1753.7 228.6L1757.7 228.6L1761.7 228.7L1765.7 229L1769.7 229.5L1773.7 230.2L1777.7 231.1L1781.7 232.2L1785.7 233.4L1789.7 234.8L1793.7 236.4L1797.7 238.1L1801.7 240L1805.7 242L1809.7 244.1L1813.7 246.4L1817.7 248.8L1821.7 251.3L1825.7 253.9L1829.7 256.6L1833.7 259.5L1837.7 262.4L1841.7 265.4L1845.7 268.5L1849.7 271.7L1853.7 274.9L1857.7 278.2L1861.7 281.6L1865.7 285L1869.7 288.5L1873.7 292L1877.7 295.5L1881.7 299.1L1885.7 302.7L1889.7 306.3L1893.7 309.9L1897.7 313.6L1901.7 317.2L1905.7 320.8L1909.7 324.4L1913.7 328.1L1917.7 331.7L1921.7 335.2L1925.7 338.8L1929.7 342.4L1933.7 346L1937.7 349.5L1941.7 353.1L1945.7 356.6L1949.7 360.1L1953.7 363.6L1957.7 367.2L1961.7 370.7L1965.7 374.2L1969.7 377.6L1973.7 381.1L1977.7 384.6L1981.7 388.1L1985.7 391.5L1989.7 395L1993.7 398.4L1997.7 401.9L2001.7 405.3L2005.7 408.7L2009.7 412.1L2013.7 415.5L2017.7 418.9L2021.7 422.3L2025.7 425.7L2029.7 429.1L2033.7 432.5L2037.7 435.9L2041.7 439.2L2045.7 442.6L2049.7 445.9L2053.7 449.3L2057.7 452.6L2061.7 456L2065.7 459.3L2069.7 462.6L2073.7 466L2077.7 469.3L2081.7 472.6L2085.7 475.9L2089.7 479.2L2093.7 482.5L2097.7 485.8L2101.7 489.1L2105.7 492.4L2109.7 495.7L2113.7 499L2117.7 502.3L2121.7 505.6L2125.7 508.8L2129.7 512.1L2133.7 515.4L2137.7 518.6L2141.7 521.9L2145.7 525.2L2149.7 528.4L2153.7 531.7L2157.7 534.9L2161.7 538.2L2165.7 541.4L2169.7 544.7L2173.7 547.9L2177.7 551.2L2181.7 554.4L2185.7 557.7L2189.7 560.9L2193.7 564.1L2197.7 567.4L2201.7 570.6L2205.7 573.9L2209.7 577.1L2213.7 580.3L2217.7 583.6L2221.7 586.8L2223 587.9L2223 589.6L2221.7 589.6L2217.7 586.6L2213.7 583.4L2209.7 580.2L2205.7 576.9L2201.7 573.7L2197.7 570.5L2193.7 567.2L2189.7 564L2185.7 560.7L2181.7 557.5L2177.7 554.2L2173.7 551L2169.7 547.8L2165.7 544.5L2161.7 541.3L2157.7 538L2153.7 534.8L2149.7 531.5L2145.7 528.2L2141.7 525L2137.7 521.7L2133.7 518.5L2129.7 515.2L2125.7 511.9L2121.7 508.6L2117.7 505.4L2113.7 502.1L2109.7 498.8L2105.7 495.5L2101.7 492.2L2097.7 488.9L2093.7 485.6L2089.7 482.3L2085.7 479L2081.7 475.7L2077.7 472.4L2073.7 469.1L2069.7 465.8L2065.7 462.4L2061.7 459.1L2057.7 455.8L2053.7 452.4L2049.7 449.1L2045.7 445.7L2041.7 442.4L2037.7 439L2033.7 435.6L2029.7 432.2L2025.7 428.9L2021.7 425.5L2017.7 422.1L2013.7 418.7L2009.7 415.3L2005.7 411.9L2001.7 408.4L1997.7 405L1993.7 401.6L1989.7 398.1L1985.7 394.7L1981.7 391.2L1977.7 387.8L1973.7 384.3L1969.7 380.8L1965.7 377.3L1961.7 373.9L1957.7 370.4L1953.7 366.8L1949.7 363.3L1945.7 359.8L1941.7 356.3L1937.7 352.7L1933.7 349.2L1929.7 345.6L1925.7 342L1921.7 338.5L1917.7 334.9L1913.7 331.3L1909.7 327.7L1905.7 324.1L1901.7 320.4L1897.7 316.8L1893.7 313.2L1889.7 309.5L1885.7 305.9L1881.7 302.3L1877.7 298.7L1873.7 295.2L1869.7 291.7L1865.7 288.2L1861.7 284.7L1857.7 281.3L1853.7 278L1849.7 274.7L1845.7 271.5L1841.7 268.4L1837.7 265.4L1833.7 262.4L1829.7 259.5L1825.7 256.7L1821.7 254.1L1817.7 251.5L1813.7 249.1L1809.7 246.8L1805.7 244.6L1801.7 242.5L1797.7 240.6L1793.7 238.8L1789.7 237.2L1785.7 235.7L1781.7 234.4L1777.7 233.3L1773.7 232.3L1769.7 231.5L1765.7 230.9L1761.7 230.5L1757.7 230.3L1753.7 230.3L1749.7 230.6L1745.7 231.2L1741.7 231.9L1737.7 232.8L1733.7 234L1729.7 235.4L1725.7 237L1721.7 238.8L1717.7 240.8L1713.7 243L1709.7 245.3L1705.7 247.9L1701.7 250.6L1697.7 253.5L1693.7 256.6L1689.7 259.9L1685.7 263.3L1681.7 266.8L1677.7 270.5L1673.7 274.4L1669.7 278.4L1665.7 282.5L1661.7 286.8L1657.7 291.2L1653.7 295.7L1649.7 300.3L1645.7 305.1L1641.7 309.9L1637.7 314.9L1633.7 319.9L1629.7 325.1L1625.7 330.3L1621.7 335.6L1617.7 341L1613.7 346.5L1609.7 352.1L1605.7 357.7L1601.7 363.4L1597.7 369.1L1593.7 374.9L1589.7 380.7L1585.7 386.6L1581.7 392.5L1577.7 398.5L1573.7 404.5L1569.7 410.6L1565.7 416.7L1561.7 423L1557.7 429.3L1553.7 435.7L1549.7 442.3L1545.7 448.9L1541.7 455.7L1537.7 462.6L1533.7 469.7L1529.7 476.9L1525.7 484.3L1521.7 491.8L1517.7 499.5L1513.7 507.4L1509.7 515.5L1505.7 523.8L1501.7 532.4L1497.7 541.1L1493.7 550.1L1489.7 559.3L1485.7 568.7L1481.7 578.5L1477.7 588.4L1473.7 598.7L1469.7 609.2L1465.7 620.1L1461.7 631.2L1457.7 642.6L1453.7 654.4L1449.7 666.5L1445.7 678.9L1441.7 691.7L1437.7 704.8L1433.7 718.2L1429.7 732.1L1425.7 746.3L1421.7 760.9L1417.7 775.9L1413.7 791.1L1409.7 806.6L1405.7 822.4L1401.7 838.3L1397.7 854.4L1393.7 870.6L1389.7 886.9L1385.7 903.2L1381.7 919.5L1377.7 935.8L1373.7 952.1L1369.7 968.2L1365.7 984.1L1361.7 999.9L1357.7 1015.5L1353.7 1030.8L1349.7 1045.8L1345.7 1060.5L1341.7 1074.8L1337.7 1088.7L1333.7 1102.1L1329.7 1115.1L1325.7 1127.6L1321.7 1139.4L1317.7 1150.7L1313.7 1161.4L1309.7 1171.4L1305.7 1180.7L1301.7 1189.2L1297.7 1197L1293.7 1203.9L1289.7 1210L1285.7 1215.1L1281.7 1219.4L1277.7 1222.7L1273.7 1224.9L1269.7 1226.1L1265.7 1226.3L1261.7 1225.9L1257.7 1224.3L1253.7 1221.7L1249.7 1218.1L1245.7 1213.6L1241.7 1208.1L1237.7 1201.7L1233.7 1194.5L1229.7 1186.5L1225.7 1177.7L1221.7 1168.2L1217.7 1158L1213.7 1147.1L1209.7 1135.6L1205.7 1123.6L1201.7 1110.9L1197.7 1097.8L1193.7 1084.2L1189.7 1070.2L1185.7 1055.8L1181.7 1041L1177.7 1025.9L1173.7 1010.5L1169.7 994.8L1165.7 979L1161.7 963L1157.7 946.8L1153.7 930.5L1149.7 914.2L1145.7 897.9L1141.7 881.6L1137.7 865.3L1133.7 849.2L1129.7 833.1L1125.7 817.2L1121.7 801.6L1117.7 786.1L1113.7 771L1109.7 756.1L1105.7 741.7L1101.7 727.6L1097.7 713.8L1093.7 700.5L1089.7 687.5L1085.7 674.8L1081.7 662.5L1077.7 650.5L1073.7 638.9L1069.7 627.5L1065.7 616.5L1061.7 605.8L1057.7 595.3L1053.7 585.2L1049.7 575.3L1045.7 565.6L1041.7 556.3L1037.7 547.1L1033.7 538.2L1029.7 529.6L1025.7 521.1L1021.7 512.9L1017.7 504.8L1013.7 497L1009.7 489.3L1005.7 481.9L1001.7 474.5L997.7 467.4L993.7 460.4L989.7 453.5L985.7 446.8L981.7 440.1L977.7 433.6L973.7 427.2L969.7 420.9L965.7 414.7L961.7 408.6L957.7 402.5L953.7 396.5L949.7 390.6L945.7 384.7L941.7 378.8L937.7 373L933.7 367.2L929.7 361.5L925.7 355.9L921.7 350.3L917.7 344.7L913.7 339.3L909.7 333.9L905.7 328.6L901.7 323.4L897.7 318.3L893.7 313.2L889.7 308.3L885.7 303.5L881.7 298.8L877.7 294.2L873.7 289.7L869.7 285.4L865.7 281.2L861.7 277.1L857.7 273.1L853.7 269.3L849.7 265.7L845.7 262.1L841.7 258.8L837.7 255.6L833.7 252.6L829.7 249.7L825.7 247.1L821.7 244.6L817.7 242.2L813.7 240.1L809.7 238.2L805.7 236.5L801.7 234.9L797.7 233.6L793.7 232.5L789.7 231.6L785.7 231L781.7 230.5L777.7 230.3L773.7 230.3L769.7 230.6L765.7 231.1L761.7 231.7L757.7 232.6L753.7 233.6L749.7 234.8L745.7 236.2L741.7 237.7L737.7 239.4L733.7 241.2L729.7 243.2L725.7 245.3L721.7 247.5L717.7 249.9L713.7 252.3L709.7 254.9L705.7 257.6L701.7 260.4L697.7 263.3L693.7 266.3L689.7 269.4L685.7 272.6L681.7 275.8L677.7 279.1L673.7 282.4L669.7 285.8L665.7 289.3L661.7 292.8L657.7 296.3L653.7 299.9L649.7 303.5L645.7 307.1L641.7 310.7L637.7 314.4L633.7 318L629.7 321.6L625.7 325.2L621.7 328.9L617.7 332.5L613.7 336L609.7 339.6L605.7 343.2L601.7 346.8L597.7 350.3L593.7 353.9L589.7 357.4L585.7 360.9L581.7 364.5L577.7 368L573.7 371.5L569.7 375L565.7 378.5L561.7 382L557.7 385.4L553.7 388.9L549.7 392.4L545.7 395.8L541.7 399.3L537.7 402.7L533.7 406.1L529.7 409.6L525.7 413L521.7 416.4L517.7 419.8L513.7 423.2L509.7 426.6L505.7 430L501.7 433.3L497.7 436.7L493.7 440.1L489.7 443.5L485.7 446.8L481.7 450.2L477.7 453.5L473.7 456.8L469.7 460.2L465.7 463.5L461.7 466.8L457.7 470.2L453.7 473.5L449.7 476.8L445.7 480.1L441.7 483.4L437.7 486.7L433.7 490L429.7 493.3L425.7 496.6L421.7 499.9L417.7 503.2L413.7 506.4L409.7 509.7L405.7 513L401.7 516.2L397.7 519.5L393.7 522.8L389.7 526L385.7 529.3L381.7 532.6L377.7 535.8L373.7 539.1L369.7 542.3L365.7 545.6L361.7 548.8L357.7 552.1L353.7 555.3L349.7 558.5L345.7 561.8L341.7 565L337.7 568.3L333.7 571.5L329.7 574.7L325.7 578L321.7 581.2L317.7 584.5L313.7 587.7L309.6 589.6Z" fill="#000" stroke="none"/>
<rect x="291.5" y="569.7" width="38" height="38" fill="#000" stroke="#000" stroke-width="3" stroke-linejoin="miter"/>
<rect x="450.8" y="439.5" width="38" height="38" fill="#000" stroke="#000" stroke-width="3" stroke-linejoin="miter"/>
<rect x="610.1" y="301.5" width="38" height="38" fill="#000" stroke="#000" stroke-width="3" stroke-linejoin="miter"/>
<rect x="769.4" y="211.4" width="38" height="38" fill="#000" stroke="#000" stroke-width="3" stroke-linejoin="miter"/>
<rect x="928.7" y="366.6" width="38" height="38" fill="#000" stroke="#000" stroke-width="3" stroke-linejoin="miter"/>
<rect x="1088" y="723.6" width="38" height="38" fill="#000" stroke="#000" stroke-width="3" stroke-linejoin="miter"/>
<rect x="1247.3" y="1206.5" width="38" height="38" fill="#000" stroke="#000" stroke-width="3" stroke-linejoin="miter"/>
<rect x="1406.6" y="723.6" width="38" height="38" fill="#000" stroke="#000" stroke-width="3" stroke-linejoin="miter"/>
<rect x="1565.9" y="366.6" width="38" height="38" fill="#000" stroke="#000" stroke-width="3" stroke-linejoin="miter"/>
<rect x="1725.2" y="211.4" width="38" height="38" fill="#000" stroke="#000" stroke-width="3" stroke-linejoin="miter"/>
<rect x="1884.5" y="301.5" width="38" height="38" fill="#000" stroke="#000" stroke-width="3" stroke-linejoin="miter"/>
<rect x="2043.8" y="439.5" width="38" height="38" fill="#000" stroke="#000" stroke-width="3" stroke-linejoin="miter"/>
<rect x="2203.1" y="569.7" width="38" height="38" fill="#000" stroke="#000" stroke-width="3" stroke-linejoin="miter"/>
</g>
<g><path d="M309.6 587.8L313.7 584.7L317.7 581.6L321.7 578.4L325.7 575.3L329.7 572.1L333.7 569L337.7 565.9L341.7 562.7L345.7 559.6L349.7 556.4L353.7 553.3L357.7 550.1L361.7 547L365.7 543.9L369.7 540.7L373.7 537.6L377.7 534.4L381.7 531.3L385.7 528.2L389.7 525L393.7 521.9L397.7 518.7L401.7 515.6L405.7 512.5L409.7 509.3L413.7 506.2L417.7 503L421.7 499.9L425.7 496.7L429.7 493.6L433.7 490.5L437.7 487.3L441.7 484.2L445.7 481L449.7 477.9L453.7 474.8L457.7 471.6L461.7 468.5L465.7 465.3L469.7 462.2L473.7 459.1L477.7 455.9L481.7 452.8L485.7 449.6L489.7 446.5L493.7 443.3L497.7 440.2L501.7 437L505.7 433.9L509.7 430.7L513.7 427.6L517.7 424.4L521.7 421.2L525.7 418.1L529.7 414.9L533.7 411.7L537.7 408.5L541.7 405.3L545.7 402.1L549.7 398.9L553.7 395.7L557.7 392.5L561.7 389.2L565.7 386L569.7 382.7L573.7 379.5L577.7 376.2L581.7 372.9L585.7 369.6L589.7 366.3L593.7 363L597.7 359.6L601.7 356.3L605.7 353L609.7 349.6L613.7 346.2L617.7 342.8L621.7 339.4L625.7 336L629.7 332.5L633.7 329.1L637.7 325.6L641.7 322.2L645.7 318.7L649.7 315.3L653.7 311.9L657.7 308.5L661.7 305.1L665.7 301.7L669.7 298.5L673.7 295.2L677.7 292L681.7 288.9L685.7 285.8L689.7 282.8L693.7 279.9L697.7 277L701.7 274.3L705.7 271.6L709.7 269.1L713.7 266.6L717.7 264.3L721.7 262.1L725.7 260L729.7 258L733.7 256.2L737.7 254.5L741.7 253L745.7 251.6L749.7 250.4L753.7 249.4L757.7 248.5L761.7 247.8L765.7 247.3L769.7 247L773.7 246.9L777.7 246.9L781.7 247.2L785.7 247.6L789.7 248.2L793.7 249.1L797.7 250.2L801.7 251.5L805.7 253L809.7 254.7L813.7 256.6L817.7 258.7L821.7 261L825.7 263.5L829.7 266.2L833.7 269L837.7 272L841.7 275.2L845.7 278.6L849.7 282.1L853.7 285.7L857.7 289.5L861.7 293.5L865.7 297.6L869.7 301.8L873.7 306.1L877.7 310.6L881.7 315.2L885.7 319.9L889.7 324.7L893.7 329.6L897.7 334.6L901.7 339.8L905.7 345L909.7 350.2L913.7 355.6L917.7 361.1L921.7 366.6L925.7 372.2L929.7 377.8L933.7 383.5L937.7 389.2L941.7 395L945.7 400.9L949.7 406.8L953.7 412.7L957.7 418.7L961.7 424.7L965.7 430.7L969.7 436.9L973.7 443.1L977.7 449.5L981.7 455.9L985.7 462.4L989.7 469L993.7 475.8L997.7 482.7L1001.7 489.8L1005.7 497L1009.7 504.3L1013.7 511.8L1017.7 519.5L1021.7 527.4L1025.7 535.5L1029.7 543.8L1033.7 552.3L1037.7 561L1041.7 570L1045.7 579.1L1049.7 588.6L1053.7 598.3L1057.7 608.2L1061.7 618.5L1065.7 629L1069.7 639.8L1073.7 650.9L1077.7 662.3L1081.7 674.1L1085.7 686.1L1089.7 698.5L1093.7 711.3L1097.7 724.4L1101.7 737.8L1105.7 751.7L1109.7 765.9L1113.7 780.5L1117.7 795.4L1121.7 810.6L1125.7 826L1129.7 841.7L1133.7 857.6L1137.7 873.6L1141.7 889.7L1145.7 905.9L1149.7 922.1L1153.7 938.3L1157.7 954.5L1161.7 970.6L1165.7 986.5L1169.7 1002.4L1173.7 1018L1177.7 1033.4L1181.7 1048.5L1185.7 1063.4L1189.7 1077.8L1193.7 1092L1197.7 1105.7L1201.7 1118.9L1205.7 1131.7L1209.7 1143.9L1213.7 1155.6L1217.7 1166.6L1221.7 1177.1L1225.7 1186.8L1229.7 1195.8L1233.7 1204.1L1237.7 1211.6L1241.7 1218.3L1245.7 1224.1L1249.7 1229L1253.7 1233L1257.7 1236L1261.7 1238L1265.7 1239L1269.7 1238.5L1273.7 1236.8L1277.7 1234.1L1281.7 1230.4L1285.7 1225.8L1289.7 1220.3L1293.7 1213.9L1297.7 1206.7L1301.7 1198.6L1305.7 1189.8L1309.7 1180.3L1313.7 1170.1L1317.7 1159.2L1321.7 1147.7L1325.7 1135.7L1329.7 1123.1L1333.7 1110L1337.7 1096.5L1341.7 1082.5L1345.7 1068.1L1349.7 1053.4L1353.7 1038.3L1357.7 1023L1361.7 1007.5L1365.7 991.7L1369.7 975.8L1373.7 959.7L1377.7 943.6L1381.7 927.4L1385.7 911.2L1389.7 895L1393.7 878.8L1397.7 862.8L1401.7 846.9L1405.7 831.1L1409.7 815.6L1413.7 800.3L1417.7 785.3L1421.7 770.6L1425.7 756.3L1429.7 742.3L1433.7 728.7L1437.7 715.5L1441.7 702.6L1445.7 690.1L1449.7 678L1453.7 666.1L1457.7 654.6L1461.7 643.4L1465.7 632.5L1469.7 621.9L1473.7 611.5L1477.7 601.5L1481.7 591.7L1485.7 582.2L1489.7 572.9L1493.7 563.9L1497.7 555.1L1501.7 546.5L1505.7 538.2L1509.7 530L1513.7 522.1L1517.7 514.3L1521.7 506.7L1525.7 499.3L1529.7 492.1L1533.7 485L1537.7 478L1541.7 471.2L1545.7 464.5L1549.7 458L1553.7 451.5L1557.7 445.2L1561.7 438.9L1565.7 432.7L1569.7 426.6L1573.7 420.6L1577.7 414.6L1581.7 408.7L1585.7 402.8L1589.7 396.9L1593.7 391.1L1597.7 385.4L1601.7 379.6L1605.7 374L1609.7 368.4L1613.7 362.8L1617.7 357.4L1621.7 352L1625.7 346.7L1629.7 341.4L1633.7 336.3L1637.7 331.2L1641.7 326.3L1645.7 321.4L1649.7 316.7L1653.7 312.1L1657.7 307.6L1661.7 303.2L1665.7 298.9L1669.7 294.8L1673.7 290.8L1677.7 287L1681.7 283.3L1685.7 279.7L1689.7 276.3L1693.7 273.1L1697.7 270L1701.7 267.1L1705.7 264.4L1709.7 261.8L1713.7 259.5L1717.7 257.3L1721.7 255.3L1725.7 253.5L1729.7 251.9L1733.7 250.6L1737.7 249.4L1741.7 248.5L1745.7 247.8L1749.7 247.3L1753.7 247L1757.7 246.9L1761.7 247L1765.7 247.2L1769.7 247.7L1773.7 248.3L1777.7 249.1L1781.7 250.1L1785.7 251.2L1789.7 252.6L1793.7 254L1797.7 255.7L1801.7 257.4L1805.7 259.3L1809.7 261.4L1813.7 263.6L1817.7 265.9L1821.7 268.3L1825.7 270.8L1829.7 273.4L1833.7 276.1L1837.7 278.9L1841.7 281.8L1845.7 284.8L1849.7 287.9L1853.7 291L1857.7 294.2L1861.7 297.4L1865.7 300.7L1869.7 304L1873.7 307.4L1877.7 310.8L1881.7 314.2L1885.7 317.6L1889.7 321.1L1893.7 324.5L1897.7 328L1901.7 331.4L1905.7 334.9L1909.7 338.3L1913.7 341.7L1917.7 345.1L1921.7 348.5L1925.7 351.9L1929.7 355.2L1933.7 358.6L1937.7 361.9L1941.7 365.2L1945.7 368.5L1949.7 371.8L1953.7 375.1L1957.7 378.4L1961.7 381.7L1965.7 384.9L1969.7 388.2L1973.7 391.4L1977.7 394.6L1981.7 397.9L1985.7 401.1L1989.7 404.3L1993.7 407.5L1997.7 410.7L2001.7 413.9L2005.7 417L2009.7 420.2L2013.7 423.4L2017.7 426.6L2021.7 429.7L2025.7 432.9L2029.7 436L2033.7 439.2L2037.7 442.3L2041.7 445.5L2045.7 448.6L2049.7 451.8L2053.7 454.9L2057.7 458L2061.7 461.2L2065.7 464.3L2069.7 467.5L2073.7 470.6L2077.7 473.7L2081.7 476.9L2085.7 480L2089.7 483.2L2093.7 486.3L2097.7 489.4L2101.7 492.6L2105.7 495.7L2109.7 498.9L2113.7 502L2117.7 505.1L2121.7 508.3L2125.7 511.4L2129.7 514.6L2133.7 517.7L2137.7 520.9L2141.7 524L2145.7 527.1L2149.7 530.3L2153.7 533.4L2157.7 536.6L2161.7 539.7L2165.7 542.8L2169.7 546L2173.7 549.1L2177.7 552.3L2181.7 555.4L2185.7 558.6L2189.7 561.7L2193.7 564.8L2197.7 568L2201.7 571.1L2205.7 574.3L2209.7 577.4L2213.7 580.5L2217.7 583.7L2221.7 586.8L2223 587.8L2223 589.5L2221.7 589.5L2217.7 586.7L2213.7 583.6L2209.7 580.4L2205.7 577.3L2201.7 574.2L2197.7 571L2193.7 567.9L2189.7 564.7L2185.7 561.6L2181.7 558.4L2177.7 555.3L2173.7 552.2L2169.7 549L2165.7 545.9L2161.7 542.7L2157.7 539.6L2153.7 536.5L2149.7 533.3L2145.7 530.2L2141.7 527L2137.7 523.9L2133.7 520.7L2129.7 517.6L2125.7 514.5L2121.7 511.3L2117.7 508.2L2113.7 505L2109.7 501.9L2105.7 498.8L2101.7 495.6L2097.7 492.5L2093.7 489.3L2089.7 486.2L2085.7 483.1L2081.7 479.9L2077.7 476.8L2073.7 473.6L2069.7 470.5L2065.7 467.4L2061.7 464.2L2057.7 461.1L2053.7 457.9L2049.7 454.8L2045.7 451.7L2041.7 448.5L2037.7 445.4L2033.7 442.2L2029.7 439.1L2025.7 435.9L2021.7 432.8L2017.7 429.6L2013.7 426.4L2009.7 423.3L2005.7 420.1L2001.7 416.9L1997.7 413.7L1993.7 410.5L1989.7 407.3L1985.7 404.1L1981.7 400.9L1977.7 397.7L1973.7 394.5L1969.7 391.2L1965.7 388L1961.7 384.7L1957.7 381.5L1953.7 378.2L1949.7 374.9L1945.7 371.6L1941.7 368.3L1937.7 365L1933.7 361.7L1929.7 358.3L1925.7 355L1921.7 351.6L1917.7 348.2L1913.7 344.9L1909.7 341.4L1905.7 338L1901.7 334.6L1897.7 331.1L1893.7 327.7L1889.7 324.2L1885.7 320.8L1881.7 317.3L1877.7 313.9L1873.7 310.5L1869.7 307.1L1865.7 303.8L1861.7 300.5L1857.7 297.2L1853.7 294L1849.7 290.9L1845.7 287.8L1841.7 284.8L1837.7 281.9L1833.7 279L1829.7 276.3L1825.7 273.6L1821.7 271L1817.7 268.6L1813.7 266.2L1809.7 264L1805.7 261.9L1801.7 259.9L1797.7 258.1L1793.7 256.4L1789.7 254.9L1785.7 253.5L1781.7 252.3L1777.7 251.2L1773.7 250.3L1769.7 249.6L1765.7 249.1L1761.7 248.8L1757.7 248.6L1753.7 248.8L1749.7 249.2L1745.7 249.7L1741.7 250.6L1737.7 251.6L1733.7 252.8L1729.7 254.3L1725.7 256L1721.7 257.8L1717.7 259.9L1713.7 262.1L1709.7 264.6L1705.7 267.2L1701.7 270L1697.7 273L1693.7 276.1L1689.7 279.4L1685.7 282.9L1681.7 286.5L1677.7 290.3L1673.7 294.2L1669.7 298.2L1665.7 302.4L1661.7 306.7L1657.7 311.2L1653.7 315.7L1649.7 320.4L1645.7 325.2L1641.7 330.1L1637.7 335.1L1633.7 340.2L1629.7 345.3L1625.7 350.6L1621.7 356L1617.7 361.4L1613.7 366.9L1609.7 372.5L1605.7 378.1L1601.7 383.8L1597.7 389.5L1593.7 395.3L1589.7 401.1L1585.7 407L1581.7 412.9L1577.7 418.9L1573.7 424.9L1569.7 430.9L1565.7 437.1L1561.7 443.3L1557.7 449.6L1553.7 456L1549.7 462.5L1545.7 469.1L1541.7 475.8L1537.7 482.7L1533.7 489.7L1529.7 496.8L1525.7 504.2L1521.7 511.6L1517.7 519.3L1513.7 527.1L1509.7 535.2L1505.7 543.4L1501.7 551.8L1497.7 560.5L1493.7 569.4L1489.7 578.5L1485.7 587.9L1481.7 597.5L1477.7 607.4L1473.7 617.6L1469.7 628L1465.7 638.8L1461.7 649.8L1457.7 661.1L1453.7 672.8L1449.7 684.8L1445.7 697.1L1441.7 709.8L1437.7 722.8L1433.7 736.1L1429.7 749.9L1425.7 764L1421.7 778.5L1417.7 793.3L1413.7 808.5L1409.7 823.9L1405.7 839.5L1401.7 855.3L1397.7 871.3L1393.7 887.4L1389.7 903.5L1385.7 919.7L1381.7 936L1377.7 952.1L1373.7 968.3L1369.7 984.3L1365.7 1000.1L1361.7 1015.8L1357.7 1031.3L1353.7 1046.5L1349.7 1061.4L1345.7 1076L1341.7 1090.2L1337.7 1104L1333.7 1117.3L1329.7 1130.2L1325.7 1142.6L1321.7 1154.4L1317.7 1165.6L1313.7 1176.2L1309.7 1186.1L1305.7 1195.4L1301.7 1203.8L1297.7 1211.5L1293.7 1218.4L1289.7 1224.5L1285.7 1229.6L1281.7 1233.8L1277.7 1237.1L1273.7 1239.3L1269.7 1240.5L1265.7 1240.8L1261.7 1240.3L1257.7 1238.7L1253.7 1236.1L1249.7 1232.6L1245.7 1228L1241.7 1222.6L1237.7 1216.3L1233.7 1209.1L1229.7 1201.2L1225.7 1192.4L1221.7 1183L1217.7 1172.8L1213.7 1162L1209.7 1150.6L1205.7 1138.6L1201.7 1126.1L1197.7 1113L1193.7 1099.5L1189.7 1085.6L1185.7 1071.3L1181.7 1056.6L1177.7 1041.6L1173.7 1026.3L1169.7 1010.7L1165.7 995L1161.7 979.1L1157.7 963L1153.7 946.9L1149.7 930.7L1145.7 914.5L1141.7 898.3L1137.7 882.1L1133.7 866.1L1129.7 850.1L1125.7 834.4L1121.7 818.8L1117.7 803.5L1113.7 788.5L1109.7 773.7L1105.7 759.4L1101.7 745.4L1097.7 731.8L1093.7 718.5L1089.7 705.6L1085.7 693.1L1081.7 680.9L1077.7 669L1073.7 657.4L1069.7 646.2L1065.7 635.3L1061.7 624.6L1057.7 614.3L1053.7 604.2L1049.7 594.4L1045.7 584.8L1041.7 575.5L1037.7 566.5L1033.7 557.7L1029.7 549.1L1025.7 540.7L1021.7 532.5L1017.7 524.6L1013.7 516.8L1009.7 509.2L1005.7 501.8L1001.7 494.5L997.7 487.4L993.7 480.4L989.7 473.6L985.7 466.9L981.7 460.3L977.7 453.9L973.7 447.5L969.7 441.2L965.7 435.1L961.7 428.9L957.7 422.9L953.7 416.9L949.7 411L945.7 405.1L941.7 399.2L937.7 393.4L933.7 387.6L929.7 381.9L925.7 376.2L921.7 370.6L917.7 365.1L913.7 359.6L909.7 354.2L905.7 348.9L901.7 343.7L897.7 338.5L893.7 333.4L889.7 328.5L885.7 323.6L881.7 318.9L877.7 314.2L873.7 309.7L869.7 305.3L865.7 301L861.7 296.9L857.7 292.9L853.7 289L849.7 285.3L845.7 281.7L841.7 278.3L837.7 275.1L833.7 272L829.7 269.1L825.7 266.3L821.7 263.8L817.7 261.4L813.7 259.2L809.7 257.2L805.7 255.4L801.7 253.8L797.7 252.4L793.7 251.2L789.7 250.3L785.7 249.5L781.7 249L777.7 248.7L773.7 248.6L769.7 248.8L765.7 249.2L761.7 249.8L757.7 250.6L753.7 251.5L749.7 252.6L745.7 253.9L741.7 255.3L737.7 256.9L733.7 258.7L729.7 260.6L725.7 262.6L721.7 264.7L717.7 267L713.7 269.4L709.7 271.8L705.7 274.4L701.7 277.1L697.7 279.9L693.7 282.8L689.7 285.8L685.7 288.8L681.7 291.9L677.7 295.1L673.7 298.3L669.7 301.5L665.7 304.9L661.7 308.2L657.7 311.6L653.7 315L649.7 318.4L645.7 321.9L641.7 325.3L637.7 328.8L633.7 332.3L629.7 335.7L625.7 339.1L621.7 342.6L617.7 346L613.7 349.3L609.7 352.7L605.7 356.1L601.7 359.4L597.7 362.8L593.7 366.1L589.7 369.4L585.7 372.7L581.7 376L577.7 379.3L573.7 382.5L569.7 385.8L565.7 389L561.7 392.3L557.7 395.5L553.7 398.7L549.7 402L545.7 405.2L541.7 408.4L537.7 411.6L533.7 414.8L529.7 417.9L525.7 421.1L521.7 424.3L517.7 427.5L513.7 430.6L509.7 433.8L505.7 436.9L501.7 440.1L497.7 443.2L493.7 446.4L489.7 449.5L485.7 452.7L481.7 455.8L477.7 459L473.7 462.1L469.7 465.2L465.7 468.4L461.7 471.5L457.7 474.7L453.7 477.8L449.7 480.9L445.7 484.1L441.7 487.2L437.7 490.4L433.7 493.5L429.7 496.6L425.7 499.8L421.7 502.9L417.7 506.1L413.7 509.2L409.7 512.3L405.7 515.5L401.7 518.6L397.7 521.8L393.7 524.9L389.7 528.1L385.7 531.2L381.7 534.3L377.7 537.5L373.7 540.6L369.7 543.8L365.7 546.9L361.7 550L357.7 553.2L353.7 556.3L349.7 559.5L345.7 562.6L341.7 565.8L337.7 568.9L333.7 572L329.7 575.2L325.7 578.3L321.7 581.5L317.7 584.6L313.7 587.7L309.6 589.6Z" fill="#000" stroke="none"/>
<path d="M310.5 562.2L337 588.7L310.5 615.2L284 588.7Z" fill="#fff" stroke="#000" stroke-width="3" stroke-linejoin="miter"/>
<path d="M469.8 437.1L496.3 463.6L469.8 490.1L443.3 463.6Z" fill="#fff" stroke="#000" stroke-width="3" stroke-linejoin="miter"/>
<path d="M629.1 308.1L655.6 334.6L629.1 361.1L602.6 334.6Z" fill="#fff" stroke="#000" stroke-width="3" stroke-linejoin="miter"/>
<path d="M788.4 222.5L814.9 249L788.4 275.5L761.9 249Z" fill="#fff" stroke="#000" stroke-width="3" stroke-linejoin="miter"/>
<path d="M947.7 379.5L974.2 406L947.7 432.5L921.2 406Z" fill="#fff" stroke="#000" stroke-width="3" stroke-linejoin="miter"/>
<path d="M1107 733.8L1133.5 760.3L1107 786.8L1080.5 760.3Z" fill="#fff" stroke="#000" stroke-width="3" stroke-linejoin="miter"/>
<path d="M1266.3 1213.4L1292.8 1239.9L1266.3 1266.4L1239.8 1239.9Z" fill="#fff" stroke="#000" stroke-width="3" stroke-linejoin="miter"/>
<path d="M1425.6 733.8L1452.1 760.3L1425.6 786.8L1399.1 760.3Z" fill="#fff" stroke="#000" stroke-width="3" stroke-linejoin="miter"/>
<path d="M1584.9 379.5L1611.4 406L1584.9 432.5L1558.4 406Z" fill="#fff" stroke="#000" stroke-width="3" stroke-linejoin="miter"/>
<path d="M1744.2 222.5L1770.7 249L1744.2 275.5L1717.7 249Z" fill="#fff" stroke="#000" stroke-width="3" stroke-linejoin="miter"/>
<path d="M1903.5 308.1L1930 334.6L1903.5 361.1L1877 334.6Z" fill="#fff" stroke="#000" stroke-width="3" stroke-linejoin="miter"/>
<path d="M2062.8 437.1L2089.3 463.6L2062.8 490.1L2036.3 463.6Z" fill="#fff" stroke="#000" stroke-width="3" stroke-linejoin="miter"/>
<path d="M2222.1 562.2L2248.6 588.7L2222.1 615.2L2195.6 588.7Z" fill="#fff" stroke="#000" stroke-width="3" stroke-linejoin="miter"/>
</g>
</g>
<g stroke="#000" stroke-width="6" stroke-linecap="round" fill="none">
<path d="M308.0 19.0H2225.0" stroke-linecap="butt"/>
<path d="M2222.0 16.0V1447.0" stroke-linecap="butt"/>
<path d="M501.78 19.0V31.6"/>
<path d="M692.86 19.0V44.6"/>
<path d="M883.94 19.0V31.6"/>
<path d="M1075.02 19.0V44.6"/>
<path d="M1266.1 19.0V31.6"/>
<path d="M1457.18 19.0V44.6"/>
<path d="M1648.26 19.0V31.6"/>
<path d="M1839.34 19.0V44.6"/>
<path d="M2030.42 19.0V31.6"/>
<path d="M2222.0 160.95H2208.0"/>
<path d="M2222.0 303.5H2194.6"/>
<path d="M2222.0 446.05H2208.0"/>
<path d="M2222.0 588.6H2194.6"/>
<path d="M2222.0 731.15H2208.0"/>
<path d="M2222.0 873.7H2194.6"/>
<path d="M2222.0 1016.25H2208.0"/>
<path d="M2222.0 1158.8H2194.6"/>
<path d="M2222.0 1301.35H2208.0"/>
</g>
<g>
<text class="tick" transform="translate(310.7 1547.4) scale(1.04 1.02)" text-anchor="middle">0</text>
<text class="tick" transform="translate(629.16 1547.4) scale(1.027 1.02)" text-anchor="middle">20</text>
<text class="tick" transform="translate(947.62 1547.4) scale(1.027 1.02)" text-anchor="middle">40</text>
<text class="tick" transform="translate(1266.08 1547.4) scale(1.027 1.02)" text-anchor="middle">60</text>
<text class="tick" transform="translate(1584.54 1547.4) scale(1.027 1.02)" text-anchor="middle">80</text>
<text class="tick" transform="translate(1903 1547.4) scale(0.98 1.02)" text-anchor="middle">100</text>
<text class="tick" transform="translate(2221.46 1547.4) scale(0.98 1.02)" text-anchor="middle">120</text>
<text class="tick" transform="translate(265 153.4) scale(0.995 1.03)" text-anchor="end">0.8</text>
<text class="tick" transform="translate(265 608.9) scale(0.995 1.03)" text-anchor="end">0.0</text>
<text class="tick" transform="translate(265 1065.3) scale(0.995 1.03)" text-anchor="end">-0.8</text>
</g>
<text class="lab" transform="translate(1265.5 1676.5) scale(0.992 1.04)" text-anchor="middle">Angle (Degree)</text>
<text class="lab" transform="translate(85.6 782.8) rotate(-90) scale(0.9955 1.04)" text-anchor="middle">Relative Energy (kcal/mol)</text>
<text class="sym" transform="translate(1231 417.6)" font-size="106" stroke="#000" stroke-width="1.2">π</text>
<text transform="translate(1283.5 461) scale(1.12 1)" font-size="68">z</text>
<text transform="translate(1318 344.3) scale(1 0.87)" font-size="68">*</text>
<g>
<path d="M426.8 885.8H606.1" stroke="#000" stroke-width="2" fill="none"/>
<path d="M516.3 857.8L540.55 899.8L492.05 899.8Z" fill="#fff" stroke="#000" stroke-width="3" stroke-linejoin="miter"/>
<text class="lab" transform="translate(628 912.4) scale(0.99 1.04)">B3++G</text>
<path d="M426.8 983H606.1" stroke="#000" stroke-width="2" fill="none"/>
<path d="M489.2 983L531.2 958.75L531.2 1007.25Z" fill="#fff" stroke="#000" stroke-width="3" stroke-linejoin="miter"/>
<text class="lab" transform="translate(628 1009.6) scale(0.99 1.04)">MP+G</text>
<path d="M426.8 1080.9H606.1" stroke="#000" stroke-width="2" fill="none"/>
<path d="M516.3 1056.3L521.82 1073.3L539.7 1073.3L525.24 1083.8L530.76 1100.8L516.3 1090.3L501.84 1100.8L507.36 1083.8L492.9 1073.3L510.78 1073.3Z" fill="#fff" stroke="#000" stroke-width="3" stroke-linejoin="round"/>
<text class="lab" transform="translate(628 1107.5) scale(0.99 1.04)">MP++G</text>
<path d="M426.8 1178.2H606.1" stroke="#000" stroke-width="2" fill="none"/>
<rect x="497.3" y="1159.2" width="38" height="38" fill="#000" stroke="#000" stroke-width="3" stroke-linejoin="miter"/>
<text class="lab" transform="translate(628 1204.8) scale(0.99 1.04)">MP2+G</text>
<path d="M426.8 1276H606.1" stroke="#000" stroke-width="2" fill="none"/>
<path d="M516.3 1249.5L542.8 1276L516.3 1302.5L489.8 1276Z" fill="#fff" stroke="#000" stroke-width="3" stroke-linejoin="miter"/>
<text class="lab" transform="translate(628 1302.6) scale(0.99 1.04)">MP2++G</text>
</g>
<g>
<path d="M1614 897.2H1793" stroke="#000" stroke-width="2" fill="none"/>
<rect x="1684.3" y="878.2" width="38" height="38" fill="#fff" stroke="#000" stroke-width="3" stroke-linejoin="miter"/>
<text class="lab" transform="translate(1814 923.2) scale(1.0 1.04)">AQ25</text>
<path d="M1614 994.6H1793" stroke="#000" stroke-width="2" fill="none"/>
<circle cx="1703.3" cy="994.6" r="21.1" fill="#fff" stroke="#000" stroke-width="3" stroke-linejoin="miter"/>
<text class="lab" transform="translate(1814 1020.6) scale(1.0 1.04)">AQ26</text>
<path d="M1614 1092.3H1793" stroke="#000" stroke-width="2" fill="none"/>
<path d="M1703.3 1120.3L1727.55 1078.3L1679.05 1078.3Z" fill="#000" stroke="#000" stroke-width="3" stroke-linejoin="miter"/>
<text class="lab" transform="translate(1814 1118.3) scale(1.0 1.04)">AQ28</text>
<path d="M1614 1190H1793" stroke="#000" stroke-width="2" fill="none"/>
<path d="M1703.3 1163.5L1729.8 1190L1703.3 1216.5L1676.8 1190Z" fill="#000" stroke="#000" stroke-width="3" stroke-linejoin="miter"/>
<text class="lab" transform="translate(1814 1216) scale(1.0 1.04)">AQ31</text>
</g>
</svg></body></html>
